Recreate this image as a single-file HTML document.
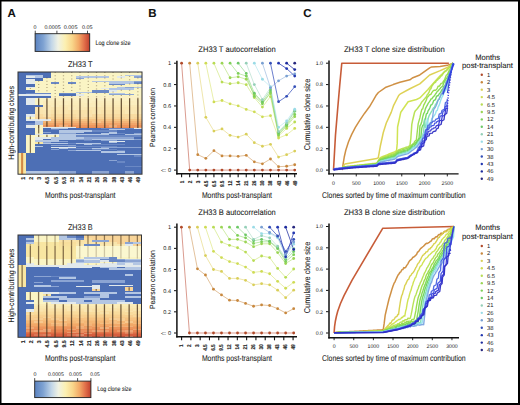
<!DOCTYPE html><html><head><meta charset="utf-8"><style>
html,body{margin:0;padding:0;background:#fff;}
svg{display:block;text-rendering:geometricPrecision;}
text{stroke:#1a1a1a;stroke-width:0.08px;}
text.s{stroke:none;fill:#1a1a1a;}
text.k{stroke:#333;stroke-width:0.15px;fill:#222;font-weight:bold;}
</style></head><body>
<svg width="520" height="405" viewBox="0 0 520 405" font-family="Liberation Sans, sans-serif">
<rect x="0" y="0" width="520" height="405" fill="#fff"/>
<text x="7.5" y="17" font-size="11.5" text-anchor="start" font-weight="bold" fill="#111">A</text><text x="148.3" y="17.2" font-size="11.5" text-anchor="start" font-weight="bold" fill="#111">B</text><text x="303.3" y="17.4" font-size="11.5" text-anchor="start" font-weight="bold" fill="#111">C</text><defs><linearGradient id="cb1" x1="0" x2="1" y1="0" y2="0">
<stop offset="0" stop-color="#5a82c0"/><stop offset="0.15" stop-color="#7ea2d2"/>
<stop offset="0.3" stop-color="#c2d6e8"/><stop offset="0.42" stop-color="#f0f2e4"/>
<stop offset="0.55" stop-color="#fcf0b2"/><stop offset="0.68" stop-color="#f9d68a"/>
<stop offset="0.8" stop-color="#f2a866"/><stop offset="0.9" stop-color="#e2704a"/>
<stop offset="1" stop-color="#c0402e"/></linearGradient></defs><rect x="35.1" y="33.7" width="54.6" height="17.7" fill="url(#cb1)" stroke="#222" stroke-width="0.9"/><line x1="35.25" y1="30.700000000000003" x2="35.25" y2="33.7" stroke="#222" stroke-width="0.8"/><line x1="56.9" y1="30.700000000000003" x2="56.9" y2="33.7" stroke="#222" stroke-width="0.8"/><line x1="72.5" y1="30.700000000000003" x2="72.5" y2="33.7" stroke="#222" stroke-width="0.8"/><line x1="87.5" y1="30.700000000000003" x2="87.5" y2="33.7" stroke="#222" stroke-width="0.8"/><text class="s" x="35.1" y="28.9" font-size="5.3" text-anchor="middle" font-weight="normal" fill="#222">0</text><text class="s" x="52.5" y="28.9" font-size="5.3" text-anchor="middle" font-weight="normal" fill="#222" textLength="16.2" lengthAdjust="spacingAndGlyphs">0.0005</text><text class="s" x="70.6" y="28.9" font-size="5.3" text-anchor="middle" font-weight="normal" fill="#222" textLength="13.7" lengthAdjust="spacingAndGlyphs">0.005</text><text class="s" x="87.2" y="28.9" font-size="5.3" text-anchor="middle" font-weight="normal" fill="#222" textLength="10.6" lengthAdjust="spacingAndGlyphs">0.05</text><text x="95.5" y="44.5" font-size="6.4" text-anchor="start" font-weight="normal" fill="#222" textLength="35" lengthAdjust="spacingAndGlyphs">Log clone size</text><defs><linearGradient id="cb2" x1="0" x2="1" y1="0" y2="0">
<stop offset="0" stop-color="#5a82c0"/><stop offset="0.15" stop-color="#7ea2d2"/>
<stop offset="0.3" stop-color="#c2d6e8"/><stop offset="0.42" stop-color="#f0f2e4"/>
<stop offset="0.55" stop-color="#fcf0b2"/><stop offset="0.68" stop-color="#f9d68a"/>
<stop offset="0.8" stop-color="#f2a866"/><stop offset="0.9" stop-color="#e2704a"/>
<stop offset="1" stop-color="#c0402e"/></linearGradient></defs><rect x="34.7" y="381.1" width="56.2" height="16.5" fill="url(#cb2)" stroke="#222" stroke-width="0.9"/><line x1="34.7" y1="378.1" x2="34.7" y2="381.1" stroke="#222" stroke-width="0.8"/><line x1="59.6" y1="378.1" x2="59.6" y2="381.1" stroke="#222" stroke-width="0.8"/><line x1="77.6" y1="378.1" x2="77.6" y2="381.1" stroke="#222" stroke-width="0.8"/><line x1="90.9" y1="378.1" x2="90.9" y2="381.1" stroke="#222" stroke-width="0.8"/><text class="s" x="35.05" y="376" font-size="5.3" text-anchor="middle" font-weight="normal" fill="#222">0</text><text class="s" x="55.9" y="376" font-size="5.3" text-anchor="middle" font-weight="normal" fill="#222" textLength="15.8" lengthAdjust="spacingAndGlyphs">0.0005</text><text class="s" x="75.4" y="376" font-size="5.3" text-anchor="middle" font-weight="normal" fill="#222" textLength="12.8" lengthAdjust="spacingAndGlyphs">0.005</text><text class="s" x="95" y="376" font-size="5.3" text-anchor="middle" font-weight="normal" fill="#222" textLength="9.5" lengthAdjust="spacingAndGlyphs">0.05</text><text x="97.3" y="391.3" font-size="6.4" text-anchor="start" font-weight="normal" fill="#222" textLength="34.2" lengthAdjust="spacingAndGlyphs">Log clone size</text><g shape-rendering="crispEdges"><rect x="18.00" y="72.00" width="33.07" height="1.25" fill="#4d6fb5"/><rect x="51.07" y="72.00" width="90.93" height="1.25" fill="#faf4c4"/><rect x="18.00" y="73.25" width="33.07" height="1.25" fill="#4d6fb5"/><rect x="51.07" y="73.25" width="90.93" height="1.25" fill="#faf4c4"/><rect x="18.00" y="74.50" width="8.27" height="0.75" fill="#4d6fb5"/><rect x="26.27" y="74.50" width="16.53" height="0.75" fill="#b3c6e3"/><rect x="42.80" y="74.50" width="8.27" height="0.75" fill="#4d6fb5"/><rect x="51.07" y="74.50" width="24.80" height="0.75" fill="#faf4c4"/><rect x="75.87" y="74.50" width="24.80" height="0.75" fill="#e2e9ec"/><rect x="100.67" y="74.50" width="24.80" height="0.75" fill="#faf4c4"/><rect x="125.47" y="74.50" width="16.53" height="0.75" fill="#b3c6e3"/><rect x="18.00" y="75.25" width="8.27" height="0.75" fill="#4d6fb5"/><rect x="26.27" y="75.25" width="16.53" height="0.75" fill="#b3c6e3"/><rect x="42.80" y="75.25" width="8.27" height="0.75" fill="#4d6fb5"/><rect x="51.07" y="75.25" width="74.40" height="0.75" fill="#faf4c4"/><rect x="125.47" y="75.25" width="16.53" height="0.75" fill="#b3c6e3"/><rect x="18.00" y="76.00" width="8.27" height="0.75" fill="#4d6fb5"/><rect x="26.27" y="76.00" width="8.27" height="0.75" fill="#e2e9ec"/><rect x="34.53" y="76.00" width="8.27" height="0.75" fill="#b3c6e3"/><rect x="42.80" y="76.00" width="8.27" height="0.75" fill="#4d6fb5"/><rect x="51.07" y="76.00" width="24.80" height="0.75" fill="#faf4c4"/><rect x="75.87" y="76.00" width="33.07" height="0.75" fill="#b3c6e3"/><rect x="108.93" y="76.00" width="8.27" height="0.75" fill="#faf4c4"/><rect x="117.20" y="76.00" width="8.27" height="0.75" fill="#e2e9ec"/><rect x="125.47" y="76.00" width="8.27" height="0.75" fill="#faf4c4"/><rect x="133.73" y="76.00" width="8.27" height="0.75" fill="#8ba4d3"/><rect x="18.00" y="76.75" width="8.27" height="0.75" fill="#4d6fb5"/><rect x="26.27" y="76.75" width="8.27" height="0.75" fill="#e2e9ec"/><rect x="34.53" y="76.75" width="8.27" height="0.75" fill="#b3c6e3"/><rect x="42.80" y="76.75" width="8.27" height="0.75" fill="#4d6fb5"/><rect x="51.07" y="76.75" width="24.80" height="0.75" fill="#faf4c4"/><rect x="75.87" y="76.75" width="33.07" height="0.75" fill="#b3c6e3"/><rect x="108.93" y="76.75" width="8.27" height="0.75" fill="#faf4c4"/><rect x="117.20" y="76.75" width="8.27" height="0.75" fill="#e2e9ec"/><rect x="125.47" y="76.75" width="8.27" height="0.75" fill="#faf4c4"/><rect x="133.73" y="76.75" width="8.27" height="0.75" fill="#8ba4d3"/><rect x="18.00" y="77.50" width="24.80" height="0.75" fill="#4d6fb5"/><rect x="42.80" y="77.50" width="99.20" height="0.75" fill="#faf4c4"/><rect x="18.00" y="78.25" width="24.80" height="0.75" fill="#4d6fb5"/><rect x="42.80" y="78.25" width="33.07" height="0.75" fill="#faf4c4"/><rect x="75.87" y="78.25" width="8.27" height="0.75" fill="#8ba4d3"/><rect x="84.13" y="78.25" width="57.87" height="0.75" fill="#faf4c4"/><rect x="18.00" y="79.00" width="8.27" height="0.85" fill="#4d6fb5"/><rect x="26.27" y="79.00" width="8.27" height="0.85" fill="#e2e9ec"/><rect x="34.53" y="79.00" width="8.27" height="0.85" fill="#4d6fb5"/><rect x="42.80" y="79.00" width="99.20" height="0.85" fill="#faf4c4"/><rect x="18.00" y="79.85" width="8.27" height="0.85" fill="#4d6fb5"/><rect x="26.27" y="79.85" width="8.27" height="0.85" fill="#e2e9ec"/><rect x="34.53" y="79.85" width="8.27" height="0.85" fill="#4d6fb5"/><rect x="42.80" y="79.85" width="99.20" height="0.85" fill="#faf4c4"/><rect x="18.00" y="80.70" width="8.27" height="1.30" fill="#4d6fb5"/><rect x="26.27" y="80.70" width="8.27" height="1.30" fill="#e2e9ec"/><rect x="34.53" y="80.70" width="57.87" height="1.30" fill="#faf4c4"/><rect x="92.40" y="80.70" width="41.33" height="1.30" fill="#b3c6e3"/><rect x="133.73" y="80.70" width="8.27" height="1.30" fill="#8ba4d3"/><rect x="18.00" y="82.00" width="8.27" height="0.75" fill="#4d6fb5"/><rect x="26.27" y="82.00" width="8.27" height="0.75" fill="#e2e9ec"/><rect x="34.53" y="82.00" width="16.53" height="0.75" fill="#faf4c4"/><rect x="51.07" y="82.00" width="8.27" height="0.75" fill="#6a88c4"/><rect x="59.33" y="82.00" width="8.27" height="0.75" fill="#faf4c4"/><rect x="67.60" y="82.00" width="8.27" height="0.75" fill="#6a88c4"/><rect x="75.87" y="82.00" width="33.07" height="0.75" fill="#faf4c4"/><rect x="108.93" y="82.00" width="24.80" height="0.75" fill="#b3c6e3"/><rect x="133.73" y="82.00" width="8.27" height="0.75" fill="#6a88c4"/><rect x="18.00" y="82.75" width="8.27" height="0.75" fill="#4d6fb5"/><rect x="26.27" y="82.75" width="8.27" height="0.75" fill="#e2e9ec"/><rect x="34.53" y="82.75" width="16.53" height="0.75" fill="#faf4c4"/><rect x="51.07" y="82.75" width="8.27" height="0.75" fill="#6a88c4"/><rect x="59.33" y="82.75" width="8.27" height="0.75" fill="#faf4c4"/><rect x="67.60" y="82.75" width="8.27" height="0.75" fill="#6a88c4"/><rect x="75.87" y="82.75" width="33.07" height="0.75" fill="#faf4c4"/><rect x="108.93" y="82.75" width="24.80" height="0.75" fill="#b3c6e3"/><rect x="133.73" y="82.75" width="8.27" height="0.75" fill="#6a88c4"/><rect x="18.00" y="83.50" width="16.53" height="0.75" fill="#4d6fb5"/><rect x="34.53" y="83.50" width="74.40" height="0.75" fill="#faf4c4"/><rect x="108.93" y="83.50" width="16.53" height="0.75" fill="#6a88c4"/><rect x="125.47" y="83.50" width="16.53" height="0.75" fill="#faf4c4"/><rect x="18.00" y="84.25" width="16.53" height="0.75" fill="#4d6fb5"/><rect x="34.53" y="84.25" width="74.40" height="0.75" fill="#faf4c4"/><rect x="108.93" y="84.25" width="16.53" height="0.75" fill="#6a88c4"/><rect x="125.47" y="84.25" width="16.53" height="0.75" fill="#faf4c4"/><rect x="18.00" y="85.00" width="16.53" height="0.75" fill="#4d6fb5"/><rect x="34.53" y="85.00" width="107.47" height="0.75" fill="#faf4c4"/><rect x="18.00" y="85.75" width="16.53" height="0.75" fill="#4d6fb5"/><rect x="34.53" y="85.75" width="107.47" height="0.75" fill="#faf4c4"/><rect x="18.00" y="86.50" width="8.27" height="0.75" fill="#4d6fb5"/><rect x="26.27" y="86.50" width="8.27" height="0.75" fill="#e2e9ec"/><rect x="34.53" y="86.50" width="82.67" height="0.75" fill="#faf4c4"/><rect x="117.20" y="86.50" width="8.27" height="0.75" fill="#b3c6e3"/><rect x="125.47" y="86.50" width="8.27" height="0.75" fill="#8ba4d3"/><rect x="133.73" y="86.50" width="8.27" height="0.75" fill="#faf4c4"/><rect x="18.00" y="87.25" width="8.27" height="0.75" fill="#4d6fb5"/><rect x="26.27" y="87.25" width="8.27" height="0.75" fill="#e2e9ec"/><rect x="34.53" y="87.25" width="82.67" height="0.75" fill="#faf4c4"/><rect x="117.20" y="87.25" width="8.27" height="0.75" fill="#b3c6e3"/><rect x="125.47" y="87.25" width="8.27" height="0.75" fill="#8ba4d3"/><rect x="133.73" y="87.25" width="8.27" height="0.75" fill="#b3c6e3"/><rect x="18.00" y="88.00" width="8.27" height="0.90" fill="#4d6fb5"/><rect x="26.27" y="88.00" width="74.40" height="0.90" fill="#faf4c4"/><rect x="100.67" y="88.00" width="8.27" height="0.90" fill="#e2e9ec"/><rect x="108.93" y="88.00" width="24.80" height="0.90" fill="#b3c6e3"/><rect x="133.73" y="88.00" width="8.27" height="0.90" fill="#faf4c4"/><rect x="18.00" y="88.90" width="8.27" height="0.90" fill="#4d6fb5"/><rect x="26.27" y="88.90" width="82.67" height="0.90" fill="#faf4c4"/><rect x="108.93" y="88.90" width="24.80" height="0.90" fill="#b3c6e3"/><rect x="133.73" y="88.90" width="8.27" height="0.90" fill="#faf4c4"/><rect x="18.00" y="89.80" width="16.53" height="0.85" fill="#4d6fb5"/><rect x="34.53" y="89.80" width="57.87" height="0.85" fill="#faf4c4"/><rect x="92.40" y="89.80" width="16.53" height="0.85" fill="#6a88c4"/><rect x="108.93" y="89.80" width="8.27" height="0.85" fill="#e2e9ec"/><rect x="117.20" y="89.80" width="24.80" height="0.85" fill="#faf4c4"/><rect x="18.00" y="90.65" width="16.53" height="0.85" fill="#4d6fb5"/><rect x="34.53" y="90.65" width="57.87" height="0.85" fill="#faf4c4"/><rect x="92.40" y="90.65" width="16.53" height="0.85" fill="#6a88c4"/><rect x="108.93" y="90.65" width="8.27" height="0.85" fill="#e2e9ec"/><rect x="117.20" y="90.65" width="24.80" height="0.85" fill="#faf4c4"/><rect x="18.00" y="91.50" width="16.53" height="0.75" fill="#4d6fb5"/><rect x="34.53" y="91.50" width="41.33" height="0.75" fill="#faf4c4"/><rect x="75.87" y="91.50" width="16.53" height="0.75" fill="#b3c6e3"/><rect x="92.40" y="91.50" width="16.53" height="0.75" fill="#6a88c4"/><rect x="108.93" y="91.50" width="33.07" height="0.75" fill="#faf4c4"/><rect x="18.00" y="92.25" width="16.53" height="0.75" fill="#4d6fb5"/><rect x="34.53" y="92.25" width="41.33" height="0.75" fill="#faf4c4"/><rect x="75.87" y="92.25" width="16.53" height="0.75" fill="#b3c6e3"/><rect x="92.40" y="92.25" width="16.53" height="0.75" fill="#6a88c4"/><rect x="108.93" y="92.25" width="33.07" height="0.75" fill="#faf4c4"/><rect x="18.00" y="93.00" width="8.27" height="1.20" fill="#4d6fb5"/><rect x="26.27" y="93.00" width="24.80" height="1.20" fill="#6a88c4"/><rect x="51.07" y="93.00" width="8.27" height="1.20" fill="#faf4c4"/><rect x="59.33" y="93.00" width="16.53" height="1.20" fill="#6a88c4"/><rect x="75.87" y="93.00" width="33.07" height="1.20" fill="#faf4c4"/><rect x="108.93" y="93.00" width="16.53" height="1.20" fill="#b3c6e3"/><rect x="125.47" y="93.00" width="16.53" height="1.20" fill="#faf4c4"/><rect x="18.00" y="94.20" width="33.07" height="0.85" fill="#e2e9ec"/><rect x="51.07" y="94.20" width="8.27" height="0.85" fill="#faf4c4"/><rect x="59.33" y="94.20" width="16.53" height="0.85" fill="#4d6fb5"/><rect x="75.87" y="94.20" width="8.27" height="0.85" fill="#e2e9ec"/><rect x="84.13" y="94.20" width="24.80" height="0.85" fill="#faf4c4"/><rect x="108.93" y="94.20" width="24.80" height="0.85" fill="#8ba4d3"/><rect x="133.73" y="94.20" width="8.27" height="0.85" fill="#faf4c4"/><rect x="18.00" y="95.05" width="33.07" height="0.85" fill="#e2e9ec"/><rect x="51.07" y="95.05" width="8.27" height="0.85" fill="#faf4c4"/><rect x="59.33" y="95.05" width="16.53" height="0.85" fill="#4d6fb5"/><rect x="75.87" y="95.05" width="8.27" height="0.85" fill="#e2e9ec"/><rect x="84.13" y="95.05" width="57.87" height="0.85" fill="#faf4c4"/><rect x="18.00" y="95.90" width="33.07" height="2.30" fill="#4d6fb5"/><rect x="51.07" y="95.90" width="49.60" height="2.30" fill="#fbf0c4"/><rect x="100.67" y="95.90" width="8.27" height="2.30" fill="#fbf1c6"/><rect x="108.93" y="95.90" width="24.80" height="2.30" fill="#fbf0c4"/><rect x="133.73" y="95.90" width="8.27" height="2.30" fill="#fbf1c6"/><rect x="18.00" y="98.20" width="8.27" height="2.30" fill="#4d6fb5"/><rect x="26.27" y="98.20" width="8.27" height="2.30" fill="#e2e9ec"/><rect x="34.53" y="98.20" width="8.27" height="2.30" fill="#faf4c4"/><rect x="42.80" y="98.20" width="8.27" height="2.30" fill="#fbf0c3"/><rect x="51.07" y="98.20" width="8.27" height="2.30" fill="#fbefc1"/><rect x="59.33" y="98.20" width="8.27" height="2.30" fill="#fbf0c3"/><rect x="67.60" y="98.20" width="24.80" height="2.30" fill="#fbefc1"/><rect x="92.40" y="98.20" width="8.27" height="2.30" fill="#fbf0c4"/><rect x="100.67" y="98.20" width="8.27" height="2.30" fill="#fbf0c3"/><rect x="108.93" y="98.20" width="8.27" height="2.30" fill="#fbefc2"/><rect x="117.20" y="98.20" width="8.27" height="2.30" fill="#fbefc1"/><rect x="125.47" y="98.20" width="8.27" height="2.30" fill="#fbf0c3"/><rect x="133.73" y="98.20" width="8.27" height="2.30" fill="#fbefc1"/><rect x="18.00" y="100.50" width="8.27" height="2.50" fill="#4d6fb5"/><rect x="26.27" y="100.50" width="8.27" height="2.50" fill="#e2e9ec"/><rect x="34.53" y="100.50" width="8.27" height="2.50" fill="#faf4c4"/><rect x="42.80" y="100.50" width="41.33" height="2.50" fill="#fbedbd"/><rect x="84.13" y="100.50" width="8.27" height="2.50" fill="#fbefc1"/><rect x="92.40" y="100.50" width="41.33" height="2.50" fill="#fbedbd"/><rect x="133.73" y="100.50" width="8.27" height="2.50" fill="#fbeebf"/><rect x="18.00" y="103.00" width="8.27" height="2.20" fill="#4d6fb5"/><rect x="26.27" y="103.00" width="8.27" height="2.20" fill="#e2e9ec"/><rect x="34.53" y="103.00" width="8.27" height="2.20" fill="#faf4c4"/><rect x="42.80" y="103.00" width="8.27" height="2.20" fill="#fbedbd"/><rect x="51.07" y="103.00" width="8.27" height="2.20" fill="#fbecba"/><rect x="59.33" y="103.00" width="8.27" height="2.20" fill="#fbeebe"/><rect x="67.60" y="103.00" width="57.87" height="2.20" fill="#fbecba"/><rect x="125.47" y="103.00" width="8.27" height="2.20" fill="#fbeebf"/><rect x="133.73" y="103.00" width="8.27" height="2.20" fill="#fbeebe"/><rect x="18.00" y="105.20" width="24.80" height="1.90" fill="#4d6fb5"/><rect x="42.80" y="105.20" width="8.27" height="1.90" fill="#fae9b6"/><rect x="51.07" y="105.20" width="8.27" height="1.90" fill="#faecbc"/><rect x="59.33" y="105.20" width="16.53" height="1.90" fill="#fae9b6"/><rect x="75.87" y="105.20" width="8.27" height="1.90" fill="#faeab8"/><rect x="84.13" y="105.20" width="16.53" height="1.90" fill="#faecbc"/><rect x="100.67" y="105.20" width="41.33" height="1.90" fill="#fae9b6"/><rect x="18.00" y="107.10" width="16.53" height="2.90" fill="#4d6fb5"/><rect x="34.53" y="107.10" width="8.27" height="2.90" fill="#fae6b1"/><rect x="42.80" y="107.10" width="8.27" height="2.90" fill="#fae9b8"/><rect x="51.07" y="107.10" width="16.53" height="2.90" fill="#fae6b1"/><rect x="67.60" y="107.10" width="8.27" height="2.90" fill="#faeab9"/><rect x="75.87" y="107.10" width="8.27" height="2.90" fill="#fae8b6"/><rect x="84.13" y="107.10" width="57.87" height="2.90" fill="#fae6b1"/><rect x="18.00" y="110.00" width="16.53" height="3.70" fill="#4d6fb5"/><rect x="34.53" y="110.00" width="8.27" height="3.70" fill="#f9e4ae"/><rect x="42.80" y="110.00" width="8.27" height="3.70" fill="#f9e6b2"/><rect x="51.07" y="110.00" width="8.27" height="3.70" fill="#f9e2aa"/><rect x="59.33" y="110.00" width="8.27" height="3.70" fill="#f9e4ae"/><rect x="67.60" y="110.00" width="24.80" height="3.70" fill="#f9e2aa"/><rect x="92.40" y="110.00" width="8.27" height="3.70" fill="#f9e6b1"/><rect x="100.67" y="110.00" width="24.80" height="3.70" fill="#f9e2aa"/><rect x="125.47" y="110.00" width="8.27" height="3.70" fill="#fae7b4"/><rect x="133.73" y="110.00" width="8.27" height="3.70" fill="#f9e5b1"/><rect x="18.00" y="113.70" width="8.27" height="2.80" fill="#4d6fb5"/><rect x="26.27" y="113.70" width="8.27" height="2.80" fill="#e2e9ec"/><rect x="34.53" y="113.70" width="8.27" height="2.80" fill="#f8dba1"/><rect x="42.80" y="113.70" width="8.27" height="2.80" fill="#f9e1ac"/><rect x="51.07" y="113.70" width="24.80" height="2.80" fill="#f8dba1"/><rect x="75.87" y="113.70" width="8.27" height="2.80" fill="#f9dfa9"/><rect x="84.13" y="113.70" width="8.27" height="2.80" fill="#f9e1ad"/><rect x="92.40" y="113.70" width="49.60" height="2.80" fill="#f8dba1"/><rect x="18.00" y="116.50" width="8.27" height="2.70" fill="#4d6fb5"/><rect x="26.27" y="116.50" width="8.27" height="2.70" fill="#faf4c4"/><rect x="34.53" y="116.50" width="41.33" height="2.70" fill="#f8d498"/><rect x="75.87" y="116.50" width="8.27" height="2.70" fill="#f9d9a1"/><rect x="84.13" y="116.50" width="41.33" height="2.70" fill="#f8d498"/><rect x="125.47" y="116.50" width="8.27" height="2.70" fill="#f8d9a0"/><rect x="133.73" y="116.50" width="8.27" height="2.70" fill="#f8d498"/><rect x="18.00" y="119.20" width="8.27" height="2.00" fill="#4d6fb5"/><rect x="26.27" y="119.20" width="24.80" height="2.00" fill="#e2e9ec"/><rect x="51.07" y="119.20" width="90.93" height="2.00" fill="#f6c586"/><rect x="18.00" y="121.20" width="16.53" height="1.80" fill="#4d6fb5"/><rect x="34.53" y="121.20" width="8.27" height="1.80" fill="#b3c6e3"/><rect x="42.80" y="121.20" width="49.60" height="1.80" fill="#f3b578"/><rect x="92.40" y="121.20" width="8.27" height="1.80" fill="#f5c28a"/><rect x="100.67" y="121.20" width="41.33" height="1.80" fill="#f3b578"/><rect x="18.00" y="123.00" width="8.27" height="1.90" fill="#4d6fb5"/><rect x="26.27" y="123.00" width="8.27" height="1.90" fill="#6a88c4"/><rect x="34.53" y="123.00" width="8.27" height="1.90" fill="#b3c6e3"/><rect x="42.80" y="123.00" width="8.27" height="1.90" fill="#f0a863"/><rect x="51.07" y="123.00" width="90.93" height="1.90" fill="#f1a56a"/><rect x="18.00" y="124.90" width="8.27" height="1.90" fill="#4d6fb5"/><rect x="26.27" y="124.90" width="8.27" height="1.90" fill="#e2e9ec"/><rect x="34.53" y="124.90" width="8.27" height="1.90" fill="#faf4c4"/><rect x="42.80" y="124.90" width="16.53" height="1.90" fill="#ed965e"/><rect x="59.33" y="124.90" width="8.27" height="1.90" fill="#f1af7b"/><rect x="67.60" y="124.90" width="41.33" height="1.90" fill="#ed965e"/><rect x="108.93" y="124.90" width="8.27" height="1.90" fill="#f1ae7a"/><rect x="117.20" y="124.90" width="24.80" height="1.90" fill="#ed965e"/><rect x="18.00" y="126.80" width="8.27" height="1.20" fill="#4d6fb5"/><rect x="26.27" y="126.80" width="8.27" height="1.20" fill="#e2e9ec"/><rect x="34.53" y="126.80" width="8.27" height="1.20" fill="#faf4c4"/><rect x="42.80" y="126.80" width="33.07" height="1.20" fill="#e2e9ec"/><rect x="75.87" y="126.80" width="33.07" height="1.20" fill="#ea8a54"/><rect x="108.93" y="126.80" width="8.27" height="1.20" fill="#ec9864"/><rect x="117.20" y="126.80" width="16.53" height="1.20" fill="#ea8a54"/><rect x="133.73" y="126.80" width="8.27" height="1.20" fill="#eea370"/><rect x="18.00" y="128.00" width="16.53" height="1.00" fill="#4d6fb5"/><rect x="34.53" y="128.00" width="8.27" height="1.00" fill="#faf4c4"/><rect x="42.80" y="128.00" width="8.27" height="1.00" fill="#4d6fb5"/><rect x="51.07" y="128.00" width="16.53" height="1.00" fill="#b3c6e3"/><rect x="67.60" y="128.00" width="33.07" height="1.00" fill="#4d6fb5"/><rect x="100.67" y="128.00" width="33.07" height="1.00" fill="#6a88c4"/><rect x="133.73" y="128.00" width="8.27" height="1.00" fill="#e2e9ec"/><rect x="18.00" y="129.00" width="16.53" height="1.00" fill="#4d6fb5"/><rect x="34.53" y="129.00" width="8.27" height="1.00" fill="#faf4c4"/><rect x="42.80" y="129.00" width="8.27" height="1.00" fill="#4d6fb5"/><rect x="51.07" y="129.00" width="8.27" height="1.00" fill="#6a88c4"/><rect x="59.33" y="129.00" width="49.60" height="1.00" fill="#4d6fb5"/><rect x="108.93" y="129.00" width="16.53" height="1.00" fill="#b3c6e3"/><rect x="125.47" y="129.00" width="16.53" height="1.00" fill="#4d6fb5"/><rect x="18.00" y="130.00" width="16.53" height="1.50" fill="#4d6fb5"/><rect x="34.53" y="130.00" width="8.27" height="1.50" fill="#faf4c4"/><rect x="42.80" y="130.00" width="16.53" height="1.50" fill="#4d6fb5"/><rect x="59.33" y="130.00" width="33.07" height="1.50" fill="#b3c6e3"/><rect x="92.40" y="130.00" width="24.80" height="1.50" fill="#6a88c4"/><rect x="117.20" y="130.00" width="24.80" height="1.50" fill="#4d6fb5"/><rect x="18.00" y="131.50" width="16.53" height="1.00" fill="#4d6fb5"/><rect x="34.53" y="131.50" width="8.27" height="1.00" fill="#faf4c4"/><rect x="42.80" y="131.50" width="8.27" height="1.00" fill="#8ba4d3"/><rect x="51.07" y="131.50" width="8.27" height="1.00" fill="#4d6fb5"/><rect x="59.33" y="131.50" width="24.80" height="1.00" fill="#b3c6e3"/><rect x="84.13" y="131.50" width="24.80" height="1.00" fill="#4d6fb5"/><rect x="108.93" y="131.50" width="8.27" height="1.00" fill="#b3c6e3"/><rect x="117.20" y="131.50" width="24.80" height="1.00" fill="#4d6fb5"/><rect x="18.00" y="132.50" width="16.53" height="1.00" fill="#4d6fb5"/><rect x="34.53" y="132.50" width="8.27" height="1.00" fill="#faf4c4"/><rect x="42.80" y="132.50" width="16.53" height="1.00" fill="#4d6fb5"/><rect x="59.33" y="132.50" width="16.53" height="1.00" fill="#8ba4d3"/><rect x="75.87" y="132.50" width="24.80" height="1.00" fill="#4d6fb5"/><rect x="100.67" y="132.50" width="16.53" height="1.00" fill="#b3c6e3"/><rect x="117.20" y="132.50" width="8.27" height="1.00" fill="#6a88c4"/><rect x="125.47" y="132.50" width="8.27" height="1.00" fill="#4d6fb5"/><rect x="133.73" y="132.50" width="8.27" height="1.00" fill="#8ba4d3"/><rect x="18.00" y="133.50" width="16.53" height="1.20" fill="#4d6fb5"/><rect x="34.53" y="133.50" width="24.80" height="1.20" fill="#e2e9ec"/><rect x="59.33" y="133.50" width="49.60" height="1.20" fill="#b3c6e3"/><rect x="108.93" y="133.50" width="16.53" height="1.20" fill="#4d6fb5"/><rect x="125.47" y="133.50" width="16.53" height="1.20" fill="#b3c6e3"/><rect x="18.00" y="134.70" width="8.27" height="1.15" fill="#4d6fb5"/><rect x="26.27" y="134.70" width="33.07" height="1.15" fill="#faf4c4"/><rect x="59.33" y="134.70" width="16.53" height="1.15" fill="#b3c6e3"/><rect x="75.87" y="134.70" width="66.13" height="1.15" fill="#6a88c4"/><rect x="18.00" y="135.85" width="8.27" height="1.15" fill="#4d6fb5"/><rect x="26.27" y="135.85" width="33.07" height="1.15" fill="#faf4c4"/><rect x="59.33" y="135.85" width="16.53" height="1.15" fill="#b3c6e3"/><rect x="75.87" y="135.85" width="66.13" height="1.15" fill="#6a88c4"/><rect x="18.00" y="137.00" width="8.27" height="1.50" fill="#4d6fb5"/><rect x="26.27" y="137.00" width="8.27" height="1.50" fill="#faf4c4"/><rect x="34.53" y="137.00" width="16.53" height="1.50" fill="#e2e9ec"/><rect x="51.07" y="137.00" width="33.07" height="1.50" fill="#b3c6e3"/><rect x="84.13" y="137.00" width="49.60" height="1.50" fill="#8ba4d3"/><rect x="133.73" y="137.00" width="8.27" height="1.50" fill="#4d6fb5"/><rect x="18.00" y="138.50" width="8.27" height="1.50" fill="#4d6fb5"/><rect x="26.27" y="138.50" width="8.27" height="1.50" fill="#faf4c4"/><rect x="34.53" y="138.50" width="8.27" height="1.50" fill="#e2e9ec"/><rect x="42.80" y="138.50" width="8.27" height="1.50" fill="#4d6fb5"/><rect x="51.07" y="138.50" width="24.80" height="1.50" fill="#b3c6e3"/><rect x="75.87" y="138.50" width="16.53" height="1.50" fill="#8ba4d3"/><rect x="92.40" y="138.50" width="41.33" height="1.50" fill="#b3c6e3"/><rect x="133.73" y="138.50" width="8.27" height="1.50" fill="#8ba4d3"/><rect x="18.00" y="140.00" width="8.27" height="1.00" fill="#4d6fb5"/><rect x="26.27" y="140.00" width="8.27" height="1.00" fill="#faf4c4"/><rect x="34.53" y="140.00" width="24.80" height="1.00" fill="#b3c6e3"/><rect x="59.33" y="140.00" width="24.80" height="1.00" fill="#4d6fb5"/><rect x="84.13" y="140.00" width="8.27" height="1.00" fill="#6a88c4"/><rect x="92.40" y="140.00" width="8.27" height="1.00" fill="#4d6fb5"/><rect x="100.67" y="140.00" width="16.53" height="1.00" fill="#8ba4d3"/><rect x="117.20" y="140.00" width="24.80" height="1.00" fill="#4d6fb5"/><rect x="18.00" y="141.00" width="8.27" height="1.00" fill="#4d6fb5"/><rect x="26.27" y="141.00" width="8.27" height="1.00" fill="#faf4c4"/><rect x="34.53" y="141.00" width="24.80" height="1.00" fill="#b3c6e3"/><rect x="59.33" y="141.00" width="8.27" height="1.00" fill="#8ba4d3"/><rect x="67.60" y="141.00" width="41.33" height="1.00" fill="#4d6fb5"/><rect x="108.93" y="141.00" width="16.53" height="1.00" fill="#e2e9ec"/><rect x="125.47" y="141.00" width="16.53" height="1.00" fill="#4d6fb5"/><rect x="18.00" y="142.00" width="8.27" height="1.00" fill="#4d6fb5"/><rect x="26.27" y="142.00" width="8.27" height="1.00" fill="#faf4c4"/><rect x="34.53" y="142.00" width="8.27" height="1.00" fill="#f8e6a2"/><rect x="42.80" y="142.00" width="8.27" height="1.00" fill="#8ba4d3"/><rect x="51.07" y="142.00" width="57.87" height="1.00" fill="#4d6fb5"/><rect x="108.93" y="142.00" width="8.27" height="1.00" fill="#b3c6e3"/><rect x="117.20" y="142.00" width="24.80" height="1.00" fill="#4d6fb5"/><rect x="18.00" y="143.00" width="8.27" height="1.00" fill="#4d6fb5"/><rect x="26.27" y="143.00" width="8.27" height="1.00" fill="#faf4c4"/><rect x="34.53" y="143.00" width="8.27" height="1.00" fill="#f8e6a2"/><rect x="42.80" y="143.00" width="24.80" height="1.00" fill="#b3c6e3"/><rect x="67.60" y="143.00" width="8.27" height="1.00" fill="#6a88c4"/><rect x="75.87" y="143.00" width="24.80" height="1.00" fill="#b3c6e3"/><rect x="100.67" y="143.00" width="41.33" height="1.00" fill="#4d6fb5"/><rect x="18.00" y="144.00" width="8.27" height="1.00" fill="#4d6fb5"/><rect x="26.27" y="144.00" width="8.27" height="1.00" fill="#faf4c4"/><rect x="34.53" y="144.00" width="49.60" height="1.00" fill="#4d6fb5"/><rect x="84.13" y="144.00" width="8.27" height="1.00" fill="#b3c6e3"/><rect x="92.40" y="144.00" width="33.07" height="1.00" fill="#6a88c4"/><rect x="125.47" y="144.00" width="16.53" height="1.00" fill="#4d6fb5"/><rect x="18.00" y="145.00" width="8.27" height="1.00" fill="#4d6fb5"/><rect x="26.27" y="145.00" width="8.27" height="1.00" fill="#faf4c4"/><rect x="34.53" y="145.00" width="16.53" height="1.00" fill="#4d6fb5"/><rect x="51.07" y="145.00" width="24.80" height="1.00" fill="#8ba4d3"/><rect x="75.87" y="145.00" width="66.13" height="1.00" fill="#4d6fb5"/><rect x="18.00" y="146.00" width="8.27" height="1.00" fill="#4d6fb5"/><rect x="26.27" y="146.00" width="8.27" height="1.00" fill="#faf4c4"/><rect x="34.53" y="146.00" width="8.27" height="1.00" fill="#b3c6e3"/><rect x="42.80" y="146.00" width="24.80" height="1.00" fill="#4d6fb5"/><rect x="67.60" y="146.00" width="49.60" height="1.00" fill="#6a88c4"/><rect x="117.20" y="146.00" width="24.80" height="1.00" fill="#4d6fb5"/><rect x="18.00" y="147.00" width="8.27" height="1.00" fill="#4d6fb5"/><rect x="26.27" y="147.00" width="8.27" height="1.00" fill="#faf4c4"/><rect x="34.53" y="147.00" width="16.53" height="1.00" fill="#4d6fb5"/><rect x="51.07" y="147.00" width="24.80" height="1.00" fill="#e2e9ec"/><rect x="75.87" y="147.00" width="24.80" height="1.00" fill="#4d6fb5"/><rect x="100.67" y="147.00" width="41.33" height="1.00" fill="#8ba4d3"/><rect x="18.00" y="148.00" width="8.27" height="1.00" fill="#4d6fb5"/><rect x="26.27" y="148.00" width="8.27" height="1.00" fill="#faf4c4"/><rect x="34.53" y="148.00" width="24.80" height="1.00" fill="#4d6fb5"/><rect x="59.33" y="148.00" width="8.27" height="1.00" fill="#b3c6e3"/><rect x="67.60" y="148.00" width="24.80" height="1.00" fill="#6a88c4"/><rect x="92.40" y="148.00" width="16.53" height="1.00" fill="#b3c6e3"/><rect x="108.93" y="148.00" width="33.07" height="1.00" fill="#4d6fb5"/><rect x="18.00" y="149.00" width="8.27" height="1.00" fill="#4d6fb5"/><rect x="26.27" y="149.00" width="8.27" height="1.00" fill="#faf4c4"/><rect x="34.53" y="149.00" width="16.53" height="1.00" fill="#4d6fb5"/><rect x="51.07" y="149.00" width="8.27" height="1.00" fill="#8ba4d3"/><rect x="59.33" y="149.00" width="33.07" height="1.00" fill="#4d6fb5"/><rect x="92.40" y="149.00" width="24.80" height="1.00" fill="#6a88c4"/><rect x="117.20" y="149.00" width="24.80" height="1.00" fill="#4d6fb5"/><rect x="18.00" y="150.00" width="8.27" height="1.45" fill="#4d6fb5"/><rect x="26.27" y="150.00" width="8.27" height="1.45" fill="#faf4c4"/><rect x="34.53" y="150.00" width="33.07" height="1.45" fill="#4d6fb5"/><rect x="67.60" y="150.00" width="8.27" height="1.45" fill="#8ba4d3"/><rect x="75.87" y="150.00" width="24.80" height="1.45" fill="#b3c6e3"/><rect x="100.67" y="150.00" width="16.53" height="1.45" fill="#4d6fb5"/><rect x="117.20" y="150.00" width="8.27" height="1.45" fill="#6a88c4"/><rect x="125.47" y="150.00" width="16.53" height="1.45" fill="#4d6fb5"/><rect x="18.00" y="151.45" width="8.27" height="1.45" fill="#4d6fb5"/><rect x="26.27" y="151.45" width="8.27" height="1.45" fill="#faf4c4"/><rect x="34.53" y="151.45" width="66.13" height="1.45" fill="#4d6fb5"/><rect x="100.67" y="151.45" width="24.80" height="1.45" fill="#b3c6e3"/><rect x="125.47" y="151.45" width="16.53" height="1.45" fill="#4d6fb5"/><rect x="18.00" y="152.90" width="8.27" height="1.05" fill="#f8e6a2"/><rect x="26.27" y="152.90" width="115.73" height="1.05" fill="#4d6fb5"/><rect x="18.00" y="153.95" width="8.27" height="1.05" fill="#f8e6a2"/><rect x="26.27" y="153.95" width="90.93" height="1.05" fill="#4d6fb5"/><rect x="117.20" y="153.95" width="24.80" height="1.05" fill="#b3c6e3"/><rect x="18.00" y="155.00" width="8.27" height="1.50" fill="#f8e6a2"/><rect x="26.27" y="155.00" width="107.47" height="1.50" fill="#4d6fb5"/><rect x="133.73" y="155.00" width="8.27" height="1.50" fill="#6a88c4"/><rect x="18.00" y="156.50" width="8.27" height="1.50" fill="#f8e6a2"/><rect x="26.27" y="156.50" width="115.73" height="1.50" fill="#4d6fb5"/><rect x="18.00" y="158.00" width="8.27" height="1.50" fill="#f8e6a2"/><rect x="26.27" y="158.00" width="115.73" height="1.50" fill="#4d6fb5"/><rect x="18.00" y="159.50" width="8.27" height="1.50" fill="#f8e6a2"/><rect x="26.27" y="159.50" width="82.67" height="1.50" fill="#4d6fb5"/><rect x="108.93" y="159.50" width="8.27" height="1.50" fill="#8ba4d3"/><rect x="117.20" y="159.50" width="24.80" height="1.50" fill="#4d6fb5"/><rect x="18.00" y="161.00" width="8.27" height="1.50" fill="#f8e6a2"/><rect x="26.27" y="161.00" width="90.93" height="1.50" fill="#4d6fb5"/><rect x="117.20" y="161.00" width="8.27" height="1.50" fill="#6a88c4"/><rect x="125.47" y="161.00" width="16.53" height="1.50" fill="#4d6fb5"/><rect x="18.00" y="162.50" width="8.27" height="1.50" fill="#f8e6a2"/><rect x="26.27" y="162.50" width="115.73" height="1.50" fill="#4d6fb5"/><rect x="18.00" y="164.00" width="8.27" height="1.50" fill="#f8e6a2"/><rect x="26.27" y="164.00" width="115.73" height="1.50" fill="#4d6fb5"/><rect x="18.00" y="165.50" width="8.27" height="1.50" fill="#f8e6a2"/><rect x="26.27" y="165.50" width="99.20" height="1.50" fill="#4d6fb5"/><rect x="125.47" y="165.50" width="16.53" height="1.50" fill="#6a88c4"/><rect x="18.00" y="167.00" width="8.27" height="1.23" fill="#f8e6a2"/><rect x="26.27" y="167.00" width="115.73" height="1.23" fill="#4d6fb5"/><rect x="18.00" y="168.23" width="8.27" height="1.23" fill="#f8e6a2"/><rect x="26.27" y="168.23" width="115.73" height="1.23" fill="#4d6fb5"/><rect x="18.00" y="169.47" width="8.27" height="1.23" fill="#f8e6a2"/><rect x="26.27" y="169.47" width="115.73" height="1.23" fill="#4d6fb5"/><rect x="18.00" y="170.70" width="8.27" height="1.17" fill="#f8e6a2"/><rect x="26.27" y="170.70" width="33.07" height="1.17" fill="#b3c6e3"/><rect x="59.33" y="170.70" width="16.53" height="1.17" fill="#8ba4d3"/><rect x="75.87" y="170.70" width="16.53" height="1.17" fill="#4d6fb5"/><rect x="92.40" y="170.70" width="16.53" height="1.17" fill="#8ba4d3"/><rect x="108.93" y="170.70" width="16.53" height="1.17" fill="#4d6fb5"/><rect x="125.47" y="170.70" width="8.27" height="1.17" fill="#8ba4d3"/><rect x="133.73" y="170.70" width="8.27" height="1.17" fill="#4d6fb5"/><rect x="18.00" y="171.87" width="8.27" height="1.17" fill="#f8e6a2"/><rect x="26.27" y="171.87" width="33.07" height="1.17" fill="#b3c6e3"/><rect x="59.33" y="171.87" width="16.53" height="1.17" fill="#8ba4d3"/><rect x="75.87" y="171.87" width="16.53" height="1.17" fill="#4d6fb5"/><rect x="92.40" y="171.87" width="16.53" height="1.17" fill="#8ba4d3"/><rect x="108.93" y="171.87" width="16.53" height="1.17" fill="#4d6fb5"/><rect x="125.47" y="171.87" width="8.27" height="1.17" fill="#8ba4d3"/><rect x="133.73" y="171.87" width="8.27" height="1.17" fill="#4d6fb5"/><rect x="18.00" y="173.03" width="8.27" height="1.17" fill="#f8e6a2"/><rect x="26.27" y="173.03" width="33.07" height="1.17" fill="#b3c6e3"/><rect x="59.33" y="173.03" width="16.53" height="1.17" fill="#8ba4d3"/><rect x="75.87" y="173.03" width="16.53" height="1.17" fill="#4d6fb5"/><rect x="92.40" y="173.03" width="16.53" height="1.17" fill="#8ba4d3"/><rect x="108.93" y="173.03" width="16.53" height="1.17" fill="#4d6fb5"/><rect x="125.47" y="173.03" width="8.27" height="1.17" fill="#8ba4d3"/><rect x="133.73" y="173.03" width="8.27" height="1.17" fill="#4d6fb5"/></g><line x1="22.13" y1="152.90" x2="22.13" y2="174.20" stroke="#4f3820" stroke-width="1.25" opacity="0.7"/><line x1="30.40" y1="88.00" x2="30.40" y2="89.80" stroke="#4f3820" stroke-width="1.25" opacity="0.4" stroke-dasharray="1 2.2"/><line x1="30.40" y1="116.50" x2="30.40" y2="119.20" stroke="#4f3820" stroke-width="1.25" opacity="0.6"/><line x1="30.40" y1="134.70" x2="30.40" y2="152.90" stroke="#4f3820" stroke-width="1.25" opacity="0.7"/><line x1="38.67" y1="80.70" x2="38.67" y2="93.00" stroke="#4f3820" stroke-width="1.25" opacity="0.4" stroke-dasharray="1 2.2"/><line x1="38.67" y1="98.20" x2="38.67" y2="105.20" stroke="#4f3820" stroke-width="1.25" opacity="0.85"/><line x1="38.67" y1="107.10" x2="38.67" y2="119.20" stroke="#4f3820" stroke-width="1.25" opacity="0.85"/><line x1="38.67" y1="124.90" x2="38.67" y2="128.00" stroke="#4f3820" stroke-width="1.25" opacity="0.85"/><line x1="38.67" y1="128.00" x2="38.67" y2="133.50" stroke="#4f3820" stroke-width="1.25" opacity="0.7"/><line x1="38.67" y1="134.70" x2="38.67" y2="137.00" stroke="#4f3820" stroke-width="1.25" opacity="0.7"/><line x1="38.67" y1="142.00" x2="38.67" y2="144.00" stroke="#4f3820" stroke-width="1.25" opacity="0.7"/><line x1="46.93" y1="77.50" x2="46.93" y2="93.00" stroke="#4f3820" stroke-width="1.25" opacity="0.4" stroke-dasharray="1 2.2"/><line x1="46.93" y1="98.20" x2="46.93" y2="119.20" stroke="#4f3820" stroke-width="1.25" opacity="0.85"/><line x1="46.93" y1="121.20" x2="46.93" y2="126.80" stroke="#4f3820" stroke-width="1.25" opacity="0.85"/><line x1="46.93" y1="134.70" x2="46.93" y2="137.00" stroke="#4f3820" stroke-width="1.25" opacity="0.7"/><line x1="55.20" y1="72.00" x2="55.20" y2="82.00" stroke="#4f3820" stroke-width="1.25" opacity="0.4" stroke-dasharray="1 2.2"/><line x1="55.20" y1="83.50" x2="55.20" y2="98.20" stroke="#4f3820" stroke-width="1.25" opacity="0.4" stroke-dasharray="1 2.2"/><line x1="55.20" y1="98.20" x2="55.20" y2="126.80" stroke="#4f3820" stroke-width="1.25" opacity="0.85"/><line x1="55.20" y1="134.70" x2="55.20" y2="137.00" stroke="#4f3820" stroke-width="1.25" opacity="0.7"/><line x1="63.47" y1="72.00" x2="63.47" y2="93.00" stroke="#4f3820" stroke-width="1.25" opacity="0.4" stroke-dasharray="1 2.2"/><line x1="63.47" y1="95.90" x2="63.47" y2="98.20" stroke="#4f3820" stroke-width="1.25" opacity="0.4" stroke-dasharray="1 2.2"/><line x1="63.47" y1="98.20" x2="63.47" y2="126.80" stroke="#4f3820" stroke-width="1.25" opacity="0.85"/><line x1="71.73" y1="72.00" x2="71.73" y2="82.00" stroke="#4f3820" stroke-width="1.25" opacity="0.4" stroke-dasharray="1 2.2"/><line x1="71.73" y1="83.50" x2="71.73" y2="93.00" stroke="#4f3820" stroke-width="1.25" opacity="0.4" stroke-dasharray="1 2.2"/><line x1="71.73" y1="95.90" x2="71.73" y2="98.20" stroke="#4f3820" stroke-width="1.25" opacity="0.4" stroke-dasharray="1 2.2"/><line x1="71.73" y1="98.20" x2="71.73" y2="126.80" stroke="#4f3820" stroke-width="1.25" opacity="0.85"/><line x1="80.00" y1="72.00" x2="80.00" y2="74.50" stroke="#4f3820" stroke-width="1.25" opacity="0.4" stroke-dasharray="1 2.2"/><line x1="80.00" y1="75.25" x2="80.00" y2="76.00" stroke="#4f3820" stroke-width="1.25" opacity="0.4" stroke-dasharray="1 2.2"/><line x1="80.00" y1="77.50" x2="80.00" y2="78.25" stroke="#4f3820" stroke-width="1.25" opacity="0.4" stroke-dasharray="1 2.2"/><line x1="80.00" y1="79.00" x2="80.00" y2="91.50" stroke="#4f3820" stroke-width="1.25" opacity="0.4" stroke-dasharray="1 2.2"/><line x1="80.00" y1="93.00" x2="80.00" y2="94.20" stroke="#4f3820" stroke-width="1.25" opacity="0.4" stroke-dasharray="1 2.2"/><line x1="80.00" y1="95.90" x2="80.00" y2="98.20" stroke="#4f3820" stroke-width="1.25" opacity="0.4" stroke-dasharray="1 2.2"/><line x1="80.00" y1="98.20" x2="80.00" y2="128.00" stroke="#4f3820" stroke-width="1.25" opacity="0.85"/><line x1="88.27" y1="72.00" x2="88.27" y2="74.50" stroke="#4f3820" stroke-width="1.25" opacity="0.4" stroke-dasharray="1 2.2"/><line x1="88.27" y1="75.25" x2="88.27" y2="76.00" stroke="#4f3820" stroke-width="1.25" opacity="0.4" stroke-dasharray="1 2.2"/><line x1="88.27" y1="77.50" x2="88.27" y2="91.50" stroke="#4f3820" stroke-width="1.25" opacity="0.4" stroke-dasharray="1 2.2"/><line x1="88.27" y1="93.00" x2="88.27" y2="98.20" stroke="#4f3820" stroke-width="1.25" opacity="0.4" stroke-dasharray="1 2.2"/><line x1="88.27" y1="98.20" x2="88.27" y2="128.00" stroke="#4f3820" stroke-width="1.25" opacity="0.85"/><line x1="96.53" y1="72.00" x2="96.53" y2="74.50" stroke="#4f3820" stroke-width="1.25" opacity="0.4" stroke-dasharray="1 2.2"/><line x1="96.53" y1="75.25" x2="96.53" y2="76.00" stroke="#4f3820" stroke-width="1.25" opacity="0.4" stroke-dasharray="1 2.2"/><line x1="96.53" y1="77.50" x2="96.53" y2="80.70" stroke="#4f3820" stroke-width="1.25" opacity="0.4" stroke-dasharray="1 2.2"/><line x1="96.53" y1="82.00" x2="96.53" y2="89.80" stroke="#4f3820" stroke-width="1.25" opacity="0.4" stroke-dasharray="1 2.2"/><line x1="96.53" y1="93.00" x2="96.53" y2="98.20" stroke="#4f3820" stroke-width="1.25" opacity="0.4" stroke-dasharray="1 2.2"/><line x1="96.53" y1="98.20" x2="96.53" y2="128.00" stroke="#4f3820" stroke-width="1.25" opacity="0.85"/><line x1="104.80" y1="72.00" x2="104.80" y2="76.00" stroke="#4f3820" stroke-width="1.25" opacity="0.4" stroke-dasharray="1 2.2"/><line x1="104.80" y1="77.50" x2="104.80" y2="80.70" stroke="#4f3820" stroke-width="1.25" opacity="0.4" stroke-dasharray="1 2.2"/><line x1="104.80" y1="82.00" x2="104.80" y2="88.00" stroke="#4f3820" stroke-width="1.25" opacity="0.4" stroke-dasharray="1 2.2"/><line x1="104.80" y1="88.90" x2="104.80" y2="89.80" stroke="#4f3820" stroke-width="1.25" opacity="0.4" stroke-dasharray="1 2.2"/><line x1="104.80" y1="93.00" x2="104.80" y2="98.20" stroke="#4f3820" stroke-width="1.25" opacity="0.4" stroke-dasharray="1 2.2"/><line x1="104.80" y1="98.20" x2="104.80" y2="128.00" stroke="#4f3820" stroke-width="1.25" opacity="0.85"/><line x1="113.07" y1="72.00" x2="113.07" y2="80.70" stroke="#4f3820" stroke-width="1.25" opacity="0.4" stroke-dasharray="1 2.2"/><line x1="113.07" y1="85.00" x2="113.07" y2="88.00" stroke="#4f3820" stroke-width="1.25" opacity="0.4" stroke-dasharray="1 2.2"/><line x1="113.07" y1="91.50" x2="113.07" y2="93.00" stroke="#4f3820" stroke-width="1.25" opacity="0.4" stroke-dasharray="1 2.2"/><line x1="113.07" y1="95.05" x2="113.07" y2="98.20" stroke="#4f3820" stroke-width="1.25" opacity="0.4" stroke-dasharray="1 2.2"/><line x1="113.07" y1="98.20" x2="113.07" y2="128.00" stroke="#4f3820" stroke-width="1.25" opacity="0.85"/><line x1="121.33" y1="72.00" x2="121.33" y2="76.00" stroke="#4f3820" stroke-width="1.25" opacity="0.4" stroke-dasharray="1 2.2"/><line x1="121.33" y1="77.50" x2="121.33" y2="80.70" stroke="#4f3820" stroke-width="1.25" opacity="0.4" stroke-dasharray="1 2.2"/><line x1="121.33" y1="85.00" x2="121.33" y2="86.50" stroke="#4f3820" stroke-width="1.25" opacity="0.4" stroke-dasharray="1 2.2"/><line x1="121.33" y1="89.80" x2="121.33" y2="93.00" stroke="#4f3820" stroke-width="1.25" opacity="0.4" stroke-dasharray="1 2.2"/><line x1="121.33" y1="95.05" x2="121.33" y2="98.20" stroke="#4f3820" stroke-width="1.25" opacity="0.4" stroke-dasharray="1 2.2"/><line x1="121.33" y1="98.20" x2="121.33" y2="128.00" stroke="#4f3820" stroke-width="1.25" opacity="0.85"/><line x1="129.60" y1="72.00" x2="129.60" y2="74.50" stroke="#4f3820" stroke-width="1.25" opacity="0.4" stroke-dasharray="1 2.2"/><line x1="129.60" y1="76.00" x2="129.60" y2="80.70" stroke="#4f3820" stroke-width="1.25" opacity="0.4" stroke-dasharray="1 2.2"/><line x1="129.60" y1="83.50" x2="129.60" y2="86.50" stroke="#4f3820" stroke-width="1.25" opacity="0.4" stroke-dasharray="1 2.2"/><line x1="129.60" y1="89.80" x2="129.60" y2="94.20" stroke="#4f3820" stroke-width="1.25" opacity="0.4" stroke-dasharray="1 2.2"/><line x1="129.60" y1="95.05" x2="129.60" y2="98.20" stroke="#4f3820" stroke-width="1.25" opacity="0.4" stroke-dasharray="1 2.2"/><line x1="129.60" y1="98.20" x2="129.60" y2="128.00" stroke="#4f3820" stroke-width="1.25" opacity="0.85"/><line x1="137.87" y1="72.00" x2="137.87" y2="74.50" stroke="#4f3820" stroke-width="1.25" opacity="0.4" stroke-dasharray="1 2.2"/><line x1="137.87" y1="77.50" x2="137.87" y2="80.70" stroke="#4f3820" stroke-width="1.25" opacity="0.4" stroke-dasharray="1 2.2"/><line x1="137.87" y1="83.50" x2="137.87" y2="87.25" stroke="#4f3820" stroke-width="1.25" opacity="0.4" stroke-dasharray="1 2.2"/><line x1="137.87" y1="88.00" x2="137.87" y2="98.20" stroke="#4f3820" stroke-width="1.25" opacity="0.4" stroke-dasharray="1 2.2"/><line x1="137.87" y1="98.20" x2="137.87" y2="128.00" stroke="#4f3820" stroke-width="1.25" opacity="0.85"/><line x1="22.1" y1="152.9" x2="22.1" y2="174" stroke="#e08a40" stroke-width="2.2" opacity="0.8"/><rect x="18" y="72" width="124" height="102.2" fill="none" stroke="#333" stroke-width="1"/><g shape-rendering="crispEdges"><rect x="18.00" y="235.00" width="16.47" height="2.60" fill="#4d6fb5"/><rect x="34.47" y="235.00" width="24.70" height="2.60" fill="#faf4c4"/><rect x="59.17" y="235.00" width="8.23" height="2.60" fill="#b3c6e3"/><rect x="67.40" y="235.00" width="8.23" height="2.60" fill="#6a88c4"/><rect x="75.63" y="235.00" width="8.23" height="2.60" fill="#4d6fb5"/><rect x="83.87" y="235.00" width="57.63" height="2.60" fill="#f8d498"/><rect x="18.00" y="237.60" width="8.23" height="2.40" fill="#4d6fb5"/><rect x="26.23" y="237.60" width="8.23" height="2.40" fill="#b3c6e3"/><rect x="34.47" y="237.60" width="24.70" height="2.40" fill="#faf4c4"/><rect x="59.17" y="237.60" width="16.47" height="2.40" fill="#b3c6e3"/><rect x="75.63" y="237.60" width="8.23" height="2.40" fill="#6a88c4"/><rect x="83.87" y="237.60" width="8.23" height="2.40" fill="#f8dd9f"/><rect x="92.10" y="237.60" width="49.40" height="2.40" fill="#f8d498"/><rect x="18.00" y="240.00" width="8.23" height="2.00" fill="#4d6fb5"/><rect x="26.23" y="240.00" width="8.23" height="2.00" fill="#6a88c4"/><rect x="34.47" y="240.00" width="24.70" height="2.00" fill="#faf4c4"/><rect x="59.17" y="240.00" width="32.93" height="2.00" fill="#f9e1a6"/><rect x="92.10" y="240.00" width="16.47" height="2.00" fill="#8ba4d3"/><rect x="108.57" y="240.00" width="32.93" height="2.00" fill="#f8d498"/><rect x="18.00" y="242.00" width="8.23" height="2.00" fill="#4d6fb5"/><rect x="26.23" y="242.00" width="8.23" height="2.00" fill="#b3c6e3"/><rect x="34.47" y="242.00" width="24.70" height="2.00" fill="#f8e6a2"/><rect x="59.17" y="242.00" width="16.47" height="2.00" fill="#f8de9c"/><rect x="75.63" y="242.00" width="41.17" height="2.00" fill="#f9e4ab"/><rect x="116.80" y="242.00" width="8.23" height="2.00" fill="#f8d498"/><rect x="125.03" y="242.00" width="8.23" height="2.00" fill="#8ba4d3"/><rect x="133.27" y="242.00" width="8.23" height="2.00" fill="#b3c6e3"/><rect x="18.00" y="244.00" width="8.23" height="2.00" fill="#4d6fb5"/><rect x="26.23" y="244.00" width="32.93" height="2.00" fill="#f8e6a2"/><rect x="59.17" y="244.00" width="16.47" height="2.00" fill="#f8e09e"/><rect x="75.63" y="244.00" width="8.23" height="2.00" fill="#f9e8b1"/><rect x="83.87" y="244.00" width="16.47" height="2.00" fill="#6a88c4"/><rect x="100.33" y="244.00" width="24.70" height="2.00" fill="#f9e8b1"/><rect x="125.03" y="244.00" width="8.23" height="2.00" fill="#e2e9ec"/><rect x="133.27" y="244.00" width="8.23" height="2.00" fill="#f8d498"/><rect x="18.00" y="246.00" width="8.23" height="1.25" fill="#4d6fb5"/><rect x="26.23" y="246.00" width="32.93" height="1.25" fill="#f8e6a2"/><rect x="59.17" y="246.00" width="16.47" height="1.25" fill="#f8e29f"/><rect x="75.63" y="246.00" width="65.87" height="1.25" fill="#fbf7d0"/><rect x="18.00" y="247.25" width="8.23" height="1.25" fill="#4d6fb5"/><rect x="26.23" y="247.25" width="32.93" height="1.25" fill="#f8e6a2"/><rect x="59.17" y="247.25" width="16.47" height="1.25" fill="#f8e3a0"/><rect x="75.63" y="247.25" width="65.87" height="1.25" fill="#fbf7d0"/><rect x="18.00" y="248.50" width="8.23" height="1.25" fill="#4d6fb5"/><rect x="26.23" y="248.50" width="32.93" height="1.25" fill="#f8e6a2"/><rect x="59.17" y="248.50" width="16.47" height="1.25" fill="#f8e4a0"/><rect x="75.63" y="248.50" width="65.87" height="1.25" fill="#fbf7d0"/><rect x="18.00" y="249.75" width="8.23" height="1.25" fill="#4d6fb5"/><rect x="26.23" y="249.75" width="32.93" height="1.25" fill="#f8e6a2"/><rect x="59.17" y="249.75" width="16.47" height="1.25" fill="#f8e5a1"/><rect x="75.63" y="249.75" width="65.87" height="1.25" fill="#fbf7d0"/><rect x="18.00" y="251.00" width="8.23" height="1.25" fill="#4d6fb5"/><rect x="26.23" y="251.00" width="49.40" height="1.25" fill="#f8e6a2"/><rect x="75.63" y="251.00" width="65.87" height="1.25" fill="#fbf7d0"/><rect x="18.00" y="252.25" width="8.23" height="1.25" fill="#4d6fb5"/><rect x="26.23" y="252.25" width="49.40" height="1.25" fill="#f8e6a2"/><rect x="75.63" y="252.25" width="65.87" height="1.25" fill="#fbf7d0"/><rect x="18.00" y="253.50" width="8.23" height="0.95" fill="#4d6fb5"/><rect x="26.23" y="253.50" width="49.40" height="0.95" fill="#f8e6a2"/><rect x="75.63" y="253.50" width="65.87" height="0.95" fill="#fbf7d0"/><rect x="18.00" y="254.45" width="8.23" height="0.95" fill="#4d6fb5"/><rect x="26.23" y="254.45" width="49.40" height="0.95" fill="#f8e6a2"/><rect x="75.63" y="254.45" width="65.87" height="0.95" fill="#fbf7d0"/><rect x="18.00" y="255.40" width="8.23" height="0.80" fill="#4d6fb5"/><rect x="26.23" y="255.40" width="49.40" height="0.80" fill="#f8e6a2"/><rect x="75.63" y="255.40" width="65.87" height="0.80" fill="#fbf7d0"/><rect x="18.00" y="256.20" width="8.23" height="0.80" fill="#4d6fb5"/><rect x="26.23" y="256.20" width="49.40" height="0.80" fill="#f8e6a2"/><rect x="75.63" y="256.20" width="65.87" height="0.80" fill="#fbf7d0"/><rect x="18.00" y="257.00" width="8.23" height="1.60" fill="#4d6fb5"/><rect x="26.23" y="257.00" width="8.23" height="1.60" fill="#faf4c4"/><rect x="34.47" y="257.00" width="41.17" height="1.60" fill="#f8e6a2"/><rect x="75.63" y="257.00" width="8.23" height="1.60" fill="#faf4c4"/><rect x="83.87" y="257.00" width="24.70" height="1.60" fill="#b3c6e3"/><rect x="108.57" y="257.00" width="8.23" height="1.60" fill="#6a88c4"/><rect x="116.80" y="257.00" width="24.70" height="1.60" fill="#faf4c4"/><rect x="18.00" y="258.60" width="8.23" height="1.60" fill="#4d6fb5"/><rect x="26.23" y="258.60" width="49.40" height="1.60" fill="#faf4c4"/><rect x="75.63" y="258.60" width="8.23" height="1.60" fill="#b3c6e3"/><rect x="83.87" y="258.60" width="16.47" height="1.60" fill="#e2e9ec"/><rect x="100.33" y="258.60" width="16.47" height="1.60" fill="#6a88c4"/><rect x="116.80" y="258.60" width="8.23" height="1.60" fill="#8ba4d3"/><rect x="125.03" y="258.60" width="16.47" height="1.60" fill="#b3c6e3"/><rect x="18.00" y="260.20" width="8.23" height="1.60" fill="#4d6fb5"/><rect x="26.23" y="260.20" width="49.40" height="1.60" fill="#faf4c4"/><rect x="75.63" y="260.20" width="8.23" height="1.60" fill="#8ba4d3"/><rect x="83.87" y="260.20" width="16.47" height="1.60" fill="#b3c6e3"/><rect x="100.33" y="260.20" width="8.23" height="1.60" fill="#e2e9ec"/><rect x="108.57" y="260.20" width="16.47" height="1.60" fill="#6a88c4"/><rect x="125.03" y="260.20" width="16.47" height="1.60" fill="#8ba4d3"/><rect x="18.00" y="261.80" width="8.23" height="1.60" fill="#4d6fb5"/><rect x="26.23" y="261.80" width="49.40" height="1.60" fill="#faf4c4"/><rect x="75.63" y="261.80" width="24.70" height="1.60" fill="#b3c6e3"/><rect x="100.33" y="261.80" width="16.47" height="1.60" fill="#faf4c4"/><rect x="116.80" y="261.80" width="24.70" height="1.60" fill="#b3c6e3"/><rect x="18.00" y="263.40" width="8.23" height="1.60" fill="#4d6fb5"/><rect x="26.23" y="263.40" width="8.23" height="1.60" fill="#e2e9ec"/><rect x="34.47" y="263.40" width="32.93" height="1.60" fill="#faf4c4"/><rect x="67.40" y="263.40" width="16.47" height="1.60" fill="#e2e9ec"/><rect x="83.87" y="263.40" width="16.47" height="1.60" fill="#faf4c4"/><rect x="100.33" y="263.40" width="16.47" height="1.60" fill="#e2e9ec"/><rect x="116.80" y="263.40" width="8.23" height="1.60" fill="#b3c6e3"/><rect x="125.03" y="263.40" width="8.23" height="1.60" fill="#e2e9ec"/><rect x="133.27" y="263.40" width="8.23" height="1.60" fill="#b3c6e3"/><rect x="18.00" y="265.00" width="8.23" height="1.80" fill="#f8e6a2"/><rect x="26.23" y="265.00" width="115.27" height="1.80" fill="#e2e9ec"/><rect x="18.00" y="266.80" width="8.23" height="1.20" fill="#f8e6a2"/><rect x="26.23" y="266.80" width="32.93" height="1.20" fill="#4d6fb5"/><rect x="59.17" y="266.80" width="32.93" height="1.20" fill="#e2e9ec"/><rect x="92.10" y="266.80" width="8.23" height="1.20" fill="#4d6fb5"/><rect x="100.33" y="266.80" width="16.47" height="1.20" fill="#b3c6e3"/><rect x="116.80" y="266.80" width="8.23" height="1.20" fill="#4d6fb5"/><rect x="125.03" y="266.80" width="16.47" height="1.20" fill="#b3c6e3"/><rect x="18.00" y="268.00" width="8.23" height="1.50" fill="#f8e6a2"/><rect x="26.23" y="268.00" width="82.33" height="1.50" fill="#4d6fb5"/><rect x="108.57" y="268.00" width="32.93" height="1.50" fill="#b3c6e3"/><rect x="18.00" y="269.50" width="8.23" height="1.50" fill="#f8e6a2"/><rect x="26.23" y="269.50" width="115.27" height="1.50" fill="#4d6fb5"/><rect x="18.00" y="271.00" width="8.23" height="1.50" fill="#f8e6a2"/><rect x="26.23" y="271.00" width="115.27" height="1.50" fill="#4d6fb5"/><rect x="18.00" y="272.50" width="8.23" height="1.50" fill="#f8e6a2"/><rect x="26.23" y="272.50" width="115.27" height="1.50" fill="#4d6fb5"/><rect x="18.00" y="274.00" width="8.23" height="1.50" fill="#f8e6a2"/><rect x="26.23" y="274.00" width="98.80" height="1.50" fill="#4d6fb5"/><rect x="125.03" y="274.00" width="8.23" height="1.50" fill="#b3c6e3"/><rect x="133.27" y="274.00" width="8.23" height="1.50" fill="#4d6fb5"/><rect x="18.00" y="275.50" width="8.23" height="1.50" fill="#f8e6a2"/><rect x="26.23" y="275.50" width="8.23" height="1.50" fill="#4d6fb5"/><rect x="34.47" y="275.50" width="16.47" height="1.50" fill="#8ba4d3"/><rect x="50.93" y="275.50" width="24.70" height="1.50" fill="#6a88c4"/><rect x="75.63" y="275.50" width="65.87" height="1.50" fill="#4d6fb5"/><rect x="18.00" y="277.00" width="8.23" height="1.50" fill="#f8e6a2"/><rect x="26.23" y="277.00" width="32.93" height="1.50" fill="#4d6fb5"/><rect x="59.17" y="277.00" width="16.47" height="1.50" fill="#b3c6e3"/><rect x="75.63" y="277.00" width="65.87" height="1.50" fill="#4d6fb5"/><rect x="18.00" y="278.50" width="8.23" height="1.50" fill="#f8e6a2"/><rect x="26.23" y="278.50" width="115.27" height="1.50" fill="#4d6fb5"/><rect x="18.00" y="280.00" width="8.23" height="1.50" fill="#f8e6a2"/><rect x="26.23" y="280.00" width="24.70" height="1.50" fill="#4d6fb5"/><rect x="50.93" y="280.00" width="32.93" height="1.50" fill="#8ba4d3"/><rect x="83.87" y="280.00" width="8.23" height="1.50" fill="#4d6fb5"/><rect x="92.10" y="280.00" width="32.93" height="1.50" fill="#8ba4d3"/><rect x="125.03" y="280.00" width="16.47" height="1.50" fill="#4d6fb5"/><rect x="18.00" y="281.50" width="8.23" height="1.50" fill="#f8e6a2"/><rect x="26.23" y="281.50" width="8.23" height="1.50" fill="#4d6fb5"/><rect x="34.47" y="281.50" width="8.23" height="1.50" fill="#8ba4d3"/><rect x="42.70" y="281.50" width="49.40" height="1.50" fill="#4d6fb5"/><rect x="92.10" y="281.50" width="32.93" height="1.50" fill="#8ba4d3"/><rect x="125.03" y="281.50" width="16.47" height="1.50" fill="#4d6fb5"/><rect x="18.00" y="283.00" width="8.23" height="1.00" fill="#f8e6a2"/><rect x="26.23" y="283.00" width="115.27" height="1.00" fill="#4d6fb5"/><rect x="18.00" y="284.00" width="8.23" height="1.00" fill="#f8e6a2"/><rect x="26.23" y="284.00" width="115.27" height="1.00" fill="#4d6fb5"/><rect x="18.00" y="285.00" width="8.23" height="1.10" fill="#f8e6a2"/><rect x="26.23" y="285.00" width="8.23" height="1.10" fill="#4d6fb5"/><rect x="34.47" y="285.00" width="16.47" height="1.10" fill="#b3c6e3"/><rect x="50.93" y="285.00" width="41.17" height="1.10" fill="#4d6fb5"/><rect x="92.10" y="285.00" width="8.23" height="1.10" fill="#e2e9ec"/><rect x="100.33" y="285.00" width="8.23" height="1.10" fill="#4d6fb5"/><rect x="108.57" y="285.00" width="24.70" height="1.10" fill="#e2e9ec"/><rect x="133.27" y="285.00" width="8.23" height="1.10" fill="#4d6fb5"/><rect x="18.00" y="286.10" width="8.23" height="1.10" fill="#f8e6a2"/><rect x="26.23" y="286.10" width="8.23" height="1.10" fill="#4d6fb5"/><rect x="34.47" y="286.10" width="16.47" height="1.10" fill="#b3c6e3"/><rect x="50.93" y="286.10" width="8.23" height="1.10" fill="#8ba4d3"/><rect x="59.17" y="286.10" width="16.47" height="1.10" fill="#4d6fb5"/><rect x="75.63" y="286.10" width="24.70" height="1.10" fill="#e2e9ec"/><rect x="100.33" y="286.10" width="41.17" height="1.10" fill="#4d6fb5"/><rect x="18.00" y="287.20" width="74.10" height="1.80" fill="#4d6fb5"/><rect x="92.10" y="287.20" width="8.23" height="1.80" fill="#e2e9ec"/><rect x="100.33" y="287.20" width="24.70" height="1.80" fill="#4d6fb5"/><rect x="125.03" y="287.20" width="8.23" height="1.80" fill="#f8d498"/><rect x="133.27" y="287.20" width="8.23" height="1.80" fill="#4d6fb5"/><rect x="18.00" y="289.00" width="74.10" height="1.80" fill="#4d6fb5"/><rect x="92.10" y="289.00" width="8.23" height="1.80" fill="#f8d498"/><rect x="100.33" y="289.00" width="24.70" height="1.80" fill="#4d6fb5"/><rect x="125.03" y="289.00" width="8.23" height="1.80" fill="#f8d498"/><rect x="133.27" y="289.00" width="8.23" height="1.80" fill="#4d6fb5"/><rect x="18.00" y="290.80" width="123.50" height="1.20" fill="#4d6fb5"/><rect x="18.00" y="292.00" width="8.23" height="2.00" fill="#4d6fb5"/><rect x="26.23" y="292.00" width="16.47" height="2.00" fill="#faf4c4"/><rect x="42.70" y="292.00" width="16.47" height="2.00" fill="#e2e9ec"/><rect x="59.17" y="292.00" width="16.47" height="2.00" fill="#b3c6e3"/><rect x="75.63" y="292.00" width="8.23" height="2.00" fill="#4d6fb5"/><rect x="83.87" y="292.00" width="32.93" height="2.00" fill="#b3c6e3"/><rect x="116.80" y="292.00" width="8.23" height="2.00" fill="#4d6fb5"/><rect x="125.03" y="292.00" width="16.47" height="2.00" fill="#b3c6e3"/><rect x="18.00" y="294.00" width="8.23" height="2.00" fill="#4d6fb5"/><rect x="26.23" y="294.00" width="16.47" height="2.00" fill="#faf4c4"/><rect x="42.70" y="294.00" width="8.23" height="2.00" fill="#f8e6a2"/><rect x="50.93" y="294.00" width="49.40" height="2.00" fill="#4d6fb5"/><rect x="100.33" y="294.00" width="8.23" height="2.00" fill="#b3c6e3"/><rect x="108.57" y="294.00" width="32.93" height="2.00" fill="#4d6fb5"/><rect x="18.00" y="296.00" width="8.23" height="2.00" fill="#4d6fb5"/><rect x="26.23" y="296.00" width="16.47" height="2.00" fill="#faf4c4"/><rect x="42.70" y="296.00" width="24.70" height="2.00" fill="#b3c6e3"/><rect x="67.40" y="296.00" width="16.47" height="2.00" fill="#4d6fb5"/><rect x="83.87" y="296.00" width="16.47" height="2.00" fill="#8ba4d3"/><rect x="100.33" y="296.00" width="8.23" height="2.00" fill="#b3c6e3"/><rect x="108.57" y="296.00" width="16.47" height="2.00" fill="#4d6fb5"/><rect x="125.03" y="296.00" width="16.47" height="2.00" fill="#b3c6e3"/><rect x="18.00" y="298.00" width="8.23" height="2.00" fill="#4d6fb5"/><rect x="26.23" y="298.00" width="16.47" height="2.00" fill="#faf4c4"/><rect x="42.70" y="298.00" width="16.47" height="2.00" fill="#4d6fb5"/><rect x="59.17" y="298.00" width="41.17" height="2.00" fill="#b3c6e3"/><rect x="100.33" y="298.00" width="41.17" height="2.00" fill="#4d6fb5"/><rect x="18.00" y="300.00" width="16.47" height="2.40" fill="#4d6fb5"/><rect x="34.47" y="300.00" width="8.23" height="2.40" fill="#faf4c4"/><rect x="42.70" y="300.00" width="16.47" height="2.40" fill="#b3c6e3"/><rect x="59.17" y="300.00" width="8.23" height="2.40" fill="#4d6fb5"/><rect x="67.40" y="300.00" width="16.47" height="2.40" fill="#b3c6e3"/><rect x="83.87" y="300.00" width="8.23" height="2.40" fill="#4d6fb5"/><rect x="92.10" y="300.00" width="32.93" height="2.40" fill="#b3c6e3"/><rect x="125.03" y="300.00" width="16.47" height="2.40" fill="#4d6fb5"/><rect x="18.00" y="302.40" width="8.23" height="1.80" fill="#4d6fb5"/><rect x="26.23" y="302.40" width="8.23" height="1.80" fill="#e2e9ec"/><rect x="34.47" y="302.40" width="16.47" height="1.80" fill="#faf4c4"/><rect x="50.93" y="302.40" width="24.70" height="1.80" fill="#e2e9ec"/><rect x="75.63" y="302.40" width="41.17" height="1.80" fill="#b3c6e3"/><rect x="116.80" y="302.40" width="16.47" height="1.80" fill="#e2e9ec"/><rect x="133.27" y="302.40" width="8.23" height="1.80" fill="#4d6fb5"/><rect x="18.00" y="304.20" width="16.47" height="1.80" fill="#4d6fb5"/><rect x="34.47" y="304.20" width="32.93" height="1.80" fill="#fbecb7"/><rect x="67.40" y="304.20" width="8.23" height="1.80" fill="#fbeebc"/><rect x="75.63" y="304.20" width="65.87" height="1.80" fill="#fbecb7"/><rect x="18.00" y="306.00" width="16.47" height="1.50" fill="#4d6fb5"/><rect x="34.47" y="306.00" width="16.47" height="1.50" fill="#fae8b1"/><rect x="50.93" y="306.00" width="8.23" height="1.50" fill="#faeab7"/><rect x="59.17" y="306.00" width="49.40" height="1.50" fill="#fae8b1"/><rect x="108.57" y="306.00" width="8.23" height="1.50" fill="#faebb8"/><rect x="116.80" y="306.00" width="16.47" height="1.50" fill="#fae8b1"/><rect x="133.27" y="306.00" width="8.23" height="1.50" fill="#faeab5"/><rect x="18.00" y="307.50" width="16.47" height="1.50" fill="#4d6fb5"/><rect x="34.47" y="307.50" width="32.93" height="1.50" fill="#fae5ac"/><rect x="67.40" y="307.50" width="8.23" height="1.50" fill="#fae8b3"/><rect x="75.63" y="307.50" width="65.87" height="1.50" fill="#fae5ac"/><rect x="18.00" y="309.00" width="8.23" height="1.50" fill="#4d6fb5"/><rect x="26.23" y="309.00" width="8.23" height="1.50" fill="#e2e9ec"/><rect x="34.47" y="309.00" width="8.23" height="1.50" fill="#fae4ad"/><rect x="42.70" y="309.00" width="24.70" height="1.50" fill="#fae1a7"/><rect x="67.40" y="309.00" width="8.23" height="1.50" fill="#fae6b1"/><rect x="75.63" y="309.00" width="8.23" height="1.50" fill="#fae1a7"/><rect x="83.87" y="309.00" width="8.23" height="1.50" fill="#fae5b0"/><rect x="92.10" y="309.00" width="8.23" height="1.50" fill="#fae1a7"/><rect x="100.33" y="309.00" width="8.23" height="1.50" fill="#fae5ae"/><rect x="108.57" y="309.00" width="8.23" height="1.50" fill="#fae4ac"/><rect x="116.80" y="309.00" width="16.47" height="1.50" fill="#fae1a7"/><rect x="133.27" y="309.00" width="8.23" height="1.50" fill="#fae6b0"/><rect x="18.00" y="310.50" width="8.23" height="1.50" fill="#4d6fb5"/><rect x="26.23" y="310.50" width="8.23" height="1.50" fill="#e2e9ec"/><rect x="34.47" y="310.50" width="8.23" height="1.50" fill="#fae1a8"/><rect x="42.70" y="310.50" width="41.17" height="1.50" fill="#fadea1"/><rect x="83.87" y="310.50" width="8.23" height="1.50" fill="#fae4ae"/><rect x="92.10" y="310.50" width="8.23" height="1.50" fill="#fae2a9"/><rect x="100.33" y="310.50" width="24.70" height="1.50" fill="#fadea1"/><rect x="125.03" y="310.50" width="8.23" height="1.50" fill="#fae4ae"/><rect x="133.27" y="310.50" width="8.23" height="1.50" fill="#fadea1"/><rect x="18.00" y="312.00" width="8.23" height="1.50" fill="#4d6fb5"/><rect x="26.23" y="312.00" width="74.10" height="1.50" fill="#f9db9c"/><rect x="100.33" y="312.00" width="8.23" height="1.50" fill="#f9e1a8"/><rect x="108.57" y="312.00" width="24.70" height="1.50" fill="#f9db9c"/><rect x="133.27" y="312.00" width="8.23" height="1.50" fill="#f9dea1"/><rect x="18.00" y="313.50" width="8.23" height="1.50" fill="#4d6fb5"/><rect x="26.23" y="313.50" width="8.23" height="1.50" fill="#f9dda2"/><rect x="34.47" y="313.50" width="90.57" height="1.50" fill="#f9d796"/><rect x="125.03" y="313.50" width="8.23" height="1.50" fill="#f9dc9f"/><rect x="133.27" y="313.50" width="8.23" height="1.50" fill="#f9d796"/><rect x="18.00" y="315.00" width="8.23" height="1.50" fill="#4d6fb5"/><rect x="26.23" y="315.00" width="107.03" height="1.50" fill="#f8d090"/><rect x="133.27" y="315.00" width="8.23" height="1.50" fill="#f9d79b"/><rect x="18.00" y="316.50" width="8.23" height="1.50" fill="#4d6fb5"/><rect x="26.23" y="316.50" width="8.23" height="1.50" fill="#f7ce90"/><rect x="34.47" y="316.50" width="8.23" height="1.50" fill="#f7ca89"/><rect x="42.70" y="316.50" width="8.23" height="1.50" fill="#f8d499"/><rect x="50.93" y="316.50" width="24.70" height="1.50" fill="#f7ca89"/><rect x="75.63" y="316.50" width="8.23" height="1.50" fill="#f8d092"/><rect x="83.87" y="316.50" width="57.63" height="1.50" fill="#f7ca89"/><rect x="18.00" y="318.00" width="8.23" height="1.50" fill="#4d6fb5"/><rect x="26.23" y="318.00" width="8.23" height="1.50" fill="#f8cb8f"/><rect x="34.47" y="318.00" width="8.23" height="1.50" fill="#f8ce93"/><rect x="42.70" y="318.00" width="8.23" height="1.50" fill="#f7c382"/><rect x="50.93" y="318.00" width="8.23" height="1.50" fill="#f8ce93"/><rect x="59.17" y="318.00" width="8.23" height="1.50" fill="#f7c98b"/><rect x="67.40" y="318.00" width="41.17" height="1.50" fill="#f7c382"/><rect x="108.57" y="318.00" width="8.23" height="1.50" fill="#f8d096"/><rect x="116.80" y="318.00" width="8.23" height="1.50" fill="#f8ce93"/><rect x="125.03" y="318.00" width="16.47" height="1.50" fill="#f7c382"/><rect x="18.00" y="319.50" width="8.23" height="1.50" fill="#4d6fb5"/><rect x="26.23" y="319.50" width="32.93" height="1.50" fill="#f6bd7c"/><rect x="59.17" y="319.50" width="8.23" height="1.50" fill="#f7cd93"/><rect x="67.40" y="319.50" width="49.40" height="1.50" fill="#f6bd7c"/><rect x="116.80" y="319.50" width="8.23" height="1.50" fill="#f7cb91"/><rect x="125.03" y="319.50" width="16.47" height="1.50" fill="#f6bd7c"/><rect x="18.00" y="321.00" width="8.23" height="1.50" fill="#4d6fb5"/><rect x="26.23" y="321.00" width="8.23" height="1.50" fill="#f5b775"/><rect x="34.47" y="321.00" width="8.23" height="1.50" fill="#f7c78d"/><rect x="42.70" y="321.00" width="32.93" height="1.50" fill="#f5b775"/><rect x="75.63" y="321.00" width="8.23" height="1.50" fill="#f6be7f"/><rect x="83.87" y="321.00" width="24.70" height="1.50" fill="#f5b775"/><rect x="108.57" y="321.00" width="8.23" height="1.50" fill="#f6bf81"/><rect x="116.80" y="321.00" width="8.23" height="1.50" fill="#f5b775"/><rect x="125.03" y="321.00" width="8.23" height="1.50" fill="#f7c98f"/><rect x="133.27" y="321.00" width="8.23" height="1.50" fill="#f5b775"/><rect x="18.00" y="322.50" width="8.23" height="1.50" fill="#4d6fb5"/><rect x="26.23" y="322.50" width="24.70" height="1.50" fill="#f4b06e"/><rect x="50.93" y="322.50" width="8.23" height="1.50" fill="#f6c185"/><rect x="59.17" y="322.50" width="8.23" height="1.50" fill="#f5be82"/><rect x="67.40" y="322.50" width="16.47" height="1.50" fill="#f4b06e"/><rect x="83.87" y="322.50" width="8.23" height="1.50" fill="#f5b879"/><rect x="92.10" y="322.50" width="8.23" height="1.50" fill="#f4b06e"/><rect x="100.33" y="322.50" width="8.23" height="1.50" fill="#f5be81"/><rect x="108.57" y="322.50" width="8.23" height="1.50" fill="#f5ba7d"/><rect x="116.80" y="322.50" width="8.23" height="1.50" fill="#f5be82"/><rect x="125.03" y="322.50" width="8.23" height="1.50" fill="#f4b06e"/><rect x="133.27" y="322.50" width="8.23" height="1.50" fill="#f5ba7c"/><rect x="18.00" y="324.00" width="8.23" height="1.50" fill="#4d6fb5"/><rect x="26.23" y="324.00" width="24.70" height="1.50" fill="#f2a868"/><rect x="50.93" y="324.00" width="8.23" height="1.50" fill="#f3b478"/><rect x="59.17" y="324.00" width="8.23" height="1.50" fill="#f4b87d"/><rect x="67.40" y="324.00" width="16.47" height="1.50" fill="#f2a868"/><rect x="83.87" y="324.00" width="8.23" height="1.50" fill="#f3b479"/><rect x="92.10" y="324.00" width="49.40" height="1.50" fill="#f2a868"/><rect x="18.00" y="325.50" width="8.23" height="1.50" fill="#4d6fb5"/><rect x="26.23" y="325.50" width="49.40" height="1.50" fill="#f09e62"/><rect x="75.63" y="325.50" width="8.23" height="1.50" fill="#f2b17a"/><rect x="83.87" y="325.50" width="8.23" height="1.50" fill="#f09e62"/><rect x="92.10" y="325.50" width="8.23" height="1.50" fill="#f1a76d"/><rect x="100.33" y="325.50" width="8.23" height="1.50" fill="#f09e62"/><rect x="108.57" y="325.50" width="8.23" height="1.50" fill="#f3b37c"/><rect x="116.80" y="325.50" width="8.23" height="1.50" fill="#f2ad74"/><rect x="125.03" y="325.50" width="8.23" height="1.50" fill="#f2b078"/><rect x="133.27" y="325.50" width="8.23" height="1.50" fill="#f09e62"/><rect x="18.00" y="327.00" width="8.23" height="1.50" fill="#4d6fb5"/><rect x="26.23" y="327.00" width="8.23" height="1.50" fill="#f0a974"/><rect x="34.47" y="327.00" width="41.17" height="1.50" fill="#ed955c"/><rect x="75.63" y="327.00" width="8.23" height="1.50" fill="#f0ab76"/><rect x="83.87" y="327.00" width="8.23" height="1.50" fill="#efa16a"/><rect x="92.10" y="327.00" width="8.23" height="1.50" fill="#ed955c"/><rect x="100.33" y="327.00" width="8.23" height="1.50" fill="#f1b07c"/><rect x="108.57" y="327.00" width="32.93" height="1.50" fill="#ed955c"/><rect x="18.00" y="328.50" width="8.23" height="1.50" fill="#4d6fb5"/><rect x="26.23" y="328.50" width="16.47" height="1.50" fill="#ea8b56"/><rect x="42.70" y="328.50" width="8.23" height="1.50" fill="#efa776"/><rect x="50.93" y="328.50" width="16.47" height="1.50" fill="#ea8b56"/><rect x="67.40" y="328.50" width="8.23" height="1.50" fill="#eea270"/><rect x="75.63" y="328.50" width="57.63" height="1.50" fill="#ea8b56"/><rect x="133.27" y="328.50" width="8.23" height="1.50" fill="#eea270"/><rect x="18.00" y="330.00" width="8.23" height="1.50" fill="#4d6fb5"/><rect x="26.23" y="330.00" width="8.23" height="1.50" fill="#eb9666"/><rect x="34.47" y="330.00" width="8.23" height="1.50" fill="#eea374"/><rect x="42.70" y="330.00" width="8.23" height="1.50" fill="#eda273"/><rect x="50.93" y="330.00" width="24.70" height="1.50" fill="#e88250"/><rect x="75.63" y="330.00" width="8.23" height="1.50" fill="#ea9060"/><rect x="83.87" y="330.00" width="8.23" height="1.50" fill="#ea8f5e"/><rect x="92.10" y="330.00" width="8.23" height="1.50" fill="#eda071"/><rect x="100.33" y="330.00" width="8.23" height="1.50" fill="#ec9b6b"/><rect x="108.57" y="330.00" width="8.23" height="1.50" fill="#e88250"/><rect x="116.80" y="330.00" width="8.23" height="1.50" fill="#eb9767"/><rect x="125.03" y="330.00" width="8.23" height="1.50" fill="#eea375"/><rect x="133.27" y="330.00" width="8.23" height="1.50" fill="#e88250"/><rect x="18.00" y="331.50" width="8.23" height="1.50" fill="#4d6fb5"/><rect x="26.23" y="331.50" width="41.17" height="1.50" fill="#e2764a"/><rect x="67.40" y="331.50" width="8.23" height="1.50" fill="#e9996e"/><rect x="75.63" y="331.50" width="8.23" height="1.50" fill="#e78e63"/><rect x="83.87" y="331.50" width="41.17" height="1.50" fill="#e2764a"/><rect x="125.03" y="331.50" width="8.23" height="1.50" fill="#e79166"/><rect x="133.27" y="331.50" width="8.23" height="1.50" fill="#e2764a"/><rect x="18.00" y="333.00" width="8.23" height="1.43" fill="#4d6fb5"/><rect x="26.23" y="333.00" width="57.63" height="1.43" fill="#dc6a44"/><rect x="83.87" y="333.00" width="8.23" height="1.43" fill="#e5916b"/><rect x="92.10" y="333.00" width="32.93" height="1.43" fill="#dc6a44"/><rect x="125.03" y="333.00" width="8.23" height="1.43" fill="#e1825c"/><rect x="133.27" y="333.00" width="8.23" height="1.43" fill="#dc6a44"/><rect x="18.00" y="334.43" width="8.23" height="1.43" fill="#4d6fb5"/><rect x="26.23" y="334.43" width="8.23" height="1.43" fill="#d65e3e"/><rect x="34.47" y="334.43" width="8.23" height="1.43" fill="#dc7655"/><rect x="42.70" y="334.43" width="8.23" height="1.43" fill="#de7f5e"/><rect x="50.93" y="334.43" width="16.47" height="1.43" fill="#d65e3e"/><rect x="67.40" y="334.43" width="8.23" height="1.43" fill="#dd7857"/><rect x="75.63" y="334.43" width="8.23" height="1.43" fill="#e08866"/><rect x="83.87" y="334.43" width="57.63" height="1.43" fill="#d65e3e"/><rect x="18.00" y="335.87" width="8.23" height="1.43" fill="#4d6fb5"/><rect x="26.23" y="335.87" width="49.40" height="1.43" fill="#d15238"/><rect x="75.63" y="335.87" width="8.23" height="1.43" fill="#d6664b"/><rect x="83.87" y="335.87" width="8.23" height="1.43" fill="#da7659"/><rect x="92.10" y="335.87" width="8.23" height="1.43" fill="#d15238"/><rect x="100.33" y="335.87" width="8.23" height="1.43" fill="#d97256"/><rect x="108.57" y="335.87" width="8.23" height="1.43" fill="#db785b"/><rect x="116.80" y="335.87" width="8.23" height="1.43" fill="#d15238"/><rect x="125.03" y="335.87" width="8.23" height="1.43" fill="#dd8264"/><rect x="133.27" y="335.87" width="8.23" height="1.43" fill="#d15238"/></g><line x1="22.12" y1="265.00" x2="22.12" y2="287.20" stroke="#4f3820" stroke-width="1.25" opacity="0.7"/><line x1="30.35" y1="244.00" x2="30.35" y2="246.00" stroke="#4f3820" stroke-width="1.25" opacity="0.4"/><line x1="30.35" y1="246.00" x2="30.35" y2="263.40" stroke="#4f3820" stroke-width="1.25" opacity="0.7"/><line x1="30.35" y1="292.00" x2="30.35" y2="300.00" stroke="#4f3820" stroke-width="1.25" opacity="0.7"/><line x1="30.35" y1="312.00" x2="30.35" y2="337.30" stroke="#4f3820" stroke-width="1.25" opacity="0.8"/><line x1="38.58" y1="235.00" x2="38.58" y2="246.00" stroke="#4f3820" stroke-width="1.25" opacity="0.4"/><line x1="38.58" y1="246.00" x2="38.58" y2="265.00" stroke="#4f3820" stroke-width="1.25" opacity="0.7"/><line x1="38.58" y1="292.00" x2="38.58" y2="304.20" stroke="#4f3820" stroke-width="1.25" opacity="0.7"/><line x1="38.58" y1="304.20" x2="38.58" y2="337.30" stroke="#4f3820" stroke-width="1.25" opacity="0.8"/><line x1="46.82" y1="235.00" x2="46.82" y2="246.00" stroke="#4f3820" stroke-width="1.25" opacity="0.4"/><line x1="46.82" y1="246.00" x2="46.82" y2="265.00" stroke="#4f3820" stroke-width="1.25" opacity="0.7"/><line x1="46.82" y1="294.00" x2="46.82" y2="296.00" stroke="#4f3820" stroke-width="1.25" opacity="0.7"/><line x1="46.82" y1="302.40" x2="46.82" y2="304.20" stroke="#4f3820" stroke-width="1.25" opacity="0.7"/><line x1="46.82" y1="304.20" x2="46.82" y2="337.30" stroke="#4f3820" stroke-width="1.25" opacity="0.8"/><line x1="55.05" y1="235.00" x2="55.05" y2="246.00" stroke="#4f3820" stroke-width="1.25" opacity="0.4"/><line x1="55.05" y1="246.00" x2="55.05" y2="265.00" stroke="#4f3820" stroke-width="1.25" opacity="0.7"/><line x1="55.05" y1="304.20" x2="55.05" y2="337.30" stroke="#4f3820" stroke-width="1.25" opacity="0.8"/><line x1="63.28" y1="240.00" x2="63.28" y2="246.00" stroke="#4f3820" stroke-width="1.25" opacity="0.4"/><line x1="63.28" y1="246.00" x2="63.28" y2="265.00" stroke="#4f3820" stroke-width="1.25" opacity="0.7"/><line x1="63.28" y1="304.20" x2="63.28" y2="337.30" stroke="#4f3820" stroke-width="1.25" opacity="0.8"/><line x1="71.52" y1="240.00" x2="71.52" y2="246.00" stroke="#4f3820" stroke-width="1.25" opacity="0.6"/><line x1="71.52" y1="246.00" x2="71.52" y2="263.40" stroke="#4f3820" stroke-width="1.25" opacity="0.7"/><line x1="71.52" y1="304.20" x2="71.52" y2="337.30" stroke="#4f3820" stroke-width="1.25" opacity="0.8"/><line x1="79.75" y1="240.00" x2="79.75" y2="246.00" stroke="#4f3820" stroke-width="1.25" opacity="0.6"/><line x1="79.75" y1="246.00" x2="79.75" y2="258.60" stroke="#4f3820" stroke-width="1.25" opacity="0.25"/><line x1="79.75" y1="304.20" x2="79.75" y2="337.30" stroke="#4f3820" stroke-width="1.25" opacity="0.8"/><line x1="87.98" y1="235.00" x2="87.98" y2="244.00" stroke="#4f3820" stroke-width="1.25" opacity="0.6"/><line x1="87.98" y1="246.00" x2="87.98" y2="257.00" stroke="#4f3820" stroke-width="1.25" opacity="0.25"/><line x1="87.98" y1="263.40" x2="87.98" y2="265.00" stroke="#4f3820" stroke-width="1.25" opacity="0.25"/><line x1="87.98" y1="304.20" x2="87.98" y2="337.30" stroke="#4f3820" stroke-width="1.25" opacity="0.8"/><line x1="96.22" y1="235.00" x2="96.22" y2="240.00" stroke="#4f3820" stroke-width="1.25" opacity="0.6"/><line x1="96.22" y1="242.00" x2="96.22" y2="244.00" stroke="#4f3820" stroke-width="1.25" opacity="0.6"/><line x1="96.22" y1="246.00" x2="96.22" y2="257.00" stroke="#4f3820" stroke-width="1.25" opacity="0.25"/><line x1="96.22" y1="263.40" x2="96.22" y2="265.00" stroke="#4f3820" stroke-width="1.25" opacity="0.25"/><line x1="96.22" y1="289.00" x2="96.22" y2="290.80" stroke="#4f3820" stroke-width="1.25" opacity="0.7"/><line x1="96.22" y1="304.20" x2="96.22" y2="337.30" stroke="#4f3820" stroke-width="1.25" opacity="0.8"/><line x1="104.45" y1="235.00" x2="104.45" y2="240.00" stroke="#4f3820" stroke-width="1.25" opacity="0.6"/><line x1="104.45" y1="242.00" x2="104.45" y2="246.00" stroke="#4f3820" stroke-width="1.25" opacity="0.6"/><line x1="104.45" y1="246.00" x2="104.45" y2="257.00" stroke="#4f3820" stroke-width="1.25" opacity="0.25"/><line x1="104.45" y1="261.80" x2="104.45" y2="263.40" stroke="#4f3820" stroke-width="1.25" opacity="0.25"/><line x1="104.45" y1="304.20" x2="104.45" y2="337.30" stroke="#4f3820" stroke-width="1.25" opacity="0.8"/><line x1="112.68" y1="235.00" x2="112.68" y2="246.00" stroke="#4f3820" stroke-width="1.25" opacity="0.6"/><line x1="112.68" y1="246.00" x2="112.68" y2="257.00" stroke="#4f3820" stroke-width="1.25" opacity="0.25"/><line x1="112.68" y1="261.80" x2="112.68" y2="263.40" stroke="#4f3820" stroke-width="1.25" opacity="0.25"/><line x1="112.68" y1="304.20" x2="112.68" y2="337.30" stroke="#4f3820" stroke-width="1.25" opacity="0.8"/><line x1="120.92" y1="235.00" x2="120.92" y2="246.00" stroke="#4f3820" stroke-width="1.25" opacity="0.6"/><line x1="120.92" y1="246.00" x2="120.92" y2="258.60" stroke="#4f3820" stroke-width="1.25" opacity="0.25"/><line x1="120.92" y1="304.20" x2="120.92" y2="337.30" stroke="#4f3820" stroke-width="1.25" opacity="0.8"/><line x1="129.15" y1="235.00" x2="129.15" y2="242.00" stroke="#4f3820" stroke-width="1.25" opacity="0.6"/><line x1="129.15" y1="246.00" x2="129.15" y2="258.60" stroke="#4f3820" stroke-width="1.25" opacity="0.25"/><line x1="129.15" y1="287.20" x2="129.15" y2="290.80" stroke="#4f3820" stroke-width="1.25" opacity="0.7"/><line x1="129.15" y1="304.20" x2="129.15" y2="337.30" stroke="#4f3820" stroke-width="1.25" opacity="0.8"/><line x1="137.38" y1="235.00" x2="137.38" y2="242.00" stroke="#4f3820" stroke-width="1.25" opacity="0.6"/><line x1="137.38" y1="244.00" x2="137.38" y2="246.00" stroke="#4f3820" stroke-width="1.25" opacity="0.6"/><line x1="137.38" y1="246.00" x2="137.38" y2="258.60" stroke="#4f3820" stroke-width="1.25" opacity="0.25"/><line x1="137.38" y1="304.20" x2="137.38" y2="337.30" stroke="#4f3820" stroke-width="1.25" opacity="0.8"/><rect x="18" y="235" width="123.5" height="102.3" fill="none" stroke="#333" stroke-width="1"/><text x="80.25" y="67.2" font-size="8.3" text-anchor="middle" font-weight="normal" fill="#222" textLength="24.7" lengthAdjust="spacingAndGlyphs">ZH33 T</text><text x="80.25" y="230.2" font-size="8.3" text-anchor="middle" font-weight="normal" fill="#222" textLength="24.7" lengthAdjust="spacingAndGlyphs">ZH33 B</text><text transform="translate(13.7,122.95) rotate(-90)" font-size="8" text-anchor="middle" font-weight="normal" fill="#222" textLength="73.7" lengthAdjust="spacingAndGlyphs">High-contributing clones</text><text transform="translate(13.7,285.6) rotate(-90)" font-size="8" text-anchor="middle" font-weight="normal" fill="#222" textLength="73.7" lengthAdjust="spacingAndGlyphs">High-contributing clones</text><text class="k" transform="translate(24.633333333333333,176.9) rotate(-90)" font-size="5.6" text-anchor="end" font-weight="normal" fill="#222" textLength="2.84" lengthAdjust="spacingAndGlyphs">1</text><text class="k" transform="translate(24.633333333333333,340.4) rotate(-90)" font-size="5.6" text-anchor="end" font-weight="normal" fill="#222" textLength="2.84" lengthAdjust="spacingAndGlyphs">1</text><text class="k" transform="translate(32.9,176.9) rotate(-90)" font-size="5.6" text-anchor="end" font-weight="normal" fill="#222" textLength="2.84" lengthAdjust="spacingAndGlyphs">2</text><text class="k" transform="translate(32.9,340.4) rotate(-90)" font-size="5.6" text-anchor="end" font-weight="normal" fill="#222" textLength="2.84" lengthAdjust="spacingAndGlyphs">2</text><text class="k" transform="translate(41.16666666666667,176.9) rotate(-90)" font-size="5.6" text-anchor="end" font-weight="normal" fill="#222" textLength="2.84" lengthAdjust="spacingAndGlyphs">3</text><text class="k" transform="translate(41.16666666666667,340.4) rotate(-90)" font-size="5.6" text-anchor="end" font-weight="normal" fill="#222" textLength="2.84" lengthAdjust="spacingAndGlyphs">3</text><text class="k" transform="translate(49.43333333333334,176.9) rotate(-90)" font-size="5.6" text-anchor="end" font-weight="normal" fill="#222" textLength="7.09" lengthAdjust="spacingAndGlyphs">4.5</text><text class="k" transform="translate(49.43333333333334,340.4) rotate(-90)" font-size="5.6" text-anchor="end" font-weight="normal" fill="#222" textLength="7.09" lengthAdjust="spacingAndGlyphs">4.5</text><text class="k" transform="translate(57.7,176.9) rotate(-90)" font-size="5.6" text-anchor="end" font-weight="normal" fill="#222" textLength="7.09" lengthAdjust="spacingAndGlyphs">6.5</text><text class="k" transform="translate(57.7,340.4) rotate(-90)" font-size="5.6" text-anchor="end" font-weight="normal" fill="#222" textLength="7.09" lengthAdjust="spacingAndGlyphs">6.5</text><text class="k" transform="translate(65.96666666666667,176.9) rotate(-90)" font-size="5.6" text-anchor="end" font-weight="normal" fill="#222" textLength="7.09" lengthAdjust="spacingAndGlyphs">9.5</text><text class="k" transform="translate(65.96666666666667,340.4) rotate(-90)" font-size="5.6" text-anchor="end" font-weight="normal" fill="#222" textLength="7.09" lengthAdjust="spacingAndGlyphs">9.5</text><text class="k" transform="translate(74.23333333333333,176.9) rotate(-90)" font-size="5.6" text-anchor="end" font-weight="normal" fill="#222" textLength="5.67" lengthAdjust="spacingAndGlyphs">12</text><text class="k" transform="translate(74.23333333333333,340.4) rotate(-90)" font-size="5.6" text-anchor="end" font-weight="normal" fill="#222" textLength="5.67" lengthAdjust="spacingAndGlyphs">12</text><text class="k" transform="translate(82.5,176.9) rotate(-90)" font-size="5.6" text-anchor="end" font-weight="normal" fill="#222" textLength="5.67" lengthAdjust="spacingAndGlyphs">14</text><text class="k" transform="translate(82.5,340.4) rotate(-90)" font-size="5.6" text-anchor="end" font-weight="normal" fill="#222" textLength="5.67" lengthAdjust="spacingAndGlyphs">14</text><text class="k" transform="translate(90.76666666666667,176.9) rotate(-90)" font-size="5.6" text-anchor="end" font-weight="normal" fill="#222" textLength="5.67" lengthAdjust="spacingAndGlyphs">21</text><text class="k" transform="translate(90.76666666666667,340.4) rotate(-90)" font-size="5.6" text-anchor="end" font-weight="normal" fill="#222" textLength="5.67" lengthAdjust="spacingAndGlyphs">21</text><text class="k" transform="translate(99.03333333333333,176.9) rotate(-90)" font-size="5.6" text-anchor="end" font-weight="normal" fill="#222" textLength="5.67" lengthAdjust="spacingAndGlyphs">26</text><text class="k" transform="translate(99.03333333333333,340.4) rotate(-90)" font-size="5.6" text-anchor="end" font-weight="normal" fill="#222" textLength="5.67" lengthAdjust="spacingAndGlyphs">26</text><text class="k" transform="translate(107.3,176.9) rotate(-90)" font-size="5.6" text-anchor="end" font-weight="normal" fill="#222" textLength="5.67" lengthAdjust="spacingAndGlyphs">30</text><text class="k" transform="translate(107.3,340.4) rotate(-90)" font-size="5.6" text-anchor="end" font-weight="normal" fill="#222" textLength="5.67" lengthAdjust="spacingAndGlyphs">30</text><text class="k" transform="translate(115.56666666666666,176.9) rotate(-90)" font-size="5.6" text-anchor="end" font-weight="normal" fill="#222" textLength="5.67" lengthAdjust="spacingAndGlyphs">38</text><text class="k" transform="translate(115.56666666666666,340.4) rotate(-90)" font-size="5.6" text-anchor="end" font-weight="normal" fill="#222" textLength="5.67" lengthAdjust="spacingAndGlyphs">38</text><text class="k" transform="translate(123.83333333333333,176.9) rotate(-90)" font-size="5.6" text-anchor="end" font-weight="normal" fill="#222" textLength="5.67" lengthAdjust="spacingAndGlyphs">43</text><text class="k" transform="translate(123.83333333333333,340.4) rotate(-90)" font-size="5.6" text-anchor="end" font-weight="normal" fill="#222" textLength="5.67" lengthAdjust="spacingAndGlyphs">43</text><text class="k" transform="translate(132.1,176.9) rotate(-90)" font-size="5.6" text-anchor="end" font-weight="normal" fill="#222" textLength="5.67" lengthAdjust="spacingAndGlyphs">46</text><text class="k" transform="translate(132.1,340.4) rotate(-90)" font-size="5.6" text-anchor="end" font-weight="normal" fill="#222" textLength="5.67" lengthAdjust="spacingAndGlyphs">46</text><text class="k" transform="translate(140.36666666666667,176.9) rotate(-90)" font-size="5.6" text-anchor="end" font-weight="normal" fill="#222" textLength="5.67" lengthAdjust="spacingAndGlyphs">49</text><text class="k" transform="translate(140.36666666666667,340.4) rotate(-90)" font-size="5.6" text-anchor="end" font-weight="normal" fill="#222" textLength="5.67" lengthAdjust="spacingAndGlyphs">49</text><text x="80.2" y="197.8" font-size="8.4" text-anchor="middle" font-weight="normal" fill="#222" textLength="70.6" lengthAdjust="spacingAndGlyphs">Months post-transplant</text><text x="80.2" y="360.6" font-size="8.4" text-anchor="middle" font-weight="normal" fill="#222" textLength="70.6" lengthAdjust="spacingAndGlyphs">Months post-transplant</text><line x1="176.9" y1="60.8" x2="176.9" y2="174.39999999999998" stroke="#111" stroke-width="1.5"/><line x1="176.2" y1="173.7" x2="297" y2="173.7" stroke="#111" stroke-width="1.4"/><line x1="174" y1="63.20" x2="176.5" y2="63.20" stroke="#111" stroke-width="1"/><text class="s" x="171" y="65.19999999999999" font-size="5.6" text-anchor="end" font-weight="normal" fill="#222">1</text><line x1="174" y1="84.58" x2="176.5" y2="84.58" stroke="#111" stroke-width="1"/><text class="s" x="171" y="86.57999999999998" font-size="5.6" text-anchor="end" font-weight="normal" fill="#222">0.8</text><line x1="174" y1="105.96" x2="176.5" y2="105.96" stroke="#111" stroke-width="1"/><text class="s" x="171" y="107.96" font-size="5.6" text-anchor="end" font-weight="normal" fill="#222">0.6</text><line x1="174" y1="127.34" x2="176.5" y2="127.34" stroke="#111" stroke-width="1"/><text class="s" x="171" y="129.33999999999997" font-size="5.6" text-anchor="end" font-weight="normal" fill="#222">0.4</text><line x1="174" y1="148.72" x2="176.5" y2="148.72" stroke="#111" stroke-width="1"/><text class="s" x="171" y="150.72" font-size="5.6" text-anchor="end" font-weight="normal" fill="#222">0.2</text><line x1="174" y1="170.10" x2="176.5" y2="170.10" stroke="#111" stroke-width="1"/><text class="s" x="171" y="172.1" font-size="5.6" text-anchor="end" font-weight="normal" fill="#222">0</text><text class="s" x="166.3" y="171.7" font-size="4.6" text-anchor="end" font-weight="normal" fill="#222">&lt;=</text><line x1="181.60" y1="173.7" x2="181.60" y2="177.29999999999998" stroke="#111" stroke-width="1.1"/><line x1="189.68" y1="173.7" x2="189.68" y2="177.29999999999998" stroke="#111" stroke-width="1.1"/><line x1="197.76" y1="173.7" x2="197.76" y2="177.29999999999998" stroke="#111" stroke-width="1.1"/><line x1="205.84" y1="173.7" x2="205.84" y2="177.29999999999998" stroke="#111" stroke-width="1.1"/><line x1="213.92" y1="173.7" x2="213.92" y2="177.29999999999998" stroke="#111" stroke-width="1.1"/><line x1="222.00" y1="173.7" x2="222.00" y2="177.29999999999998" stroke="#111" stroke-width="1.1"/><line x1="230.08" y1="173.7" x2="230.08" y2="177.29999999999998" stroke="#111" stroke-width="1.1"/><line x1="238.16" y1="173.7" x2="238.16" y2="177.29999999999998" stroke="#111" stroke-width="1.1"/><line x1="246.24" y1="173.7" x2="246.24" y2="177.29999999999998" stroke="#111" stroke-width="1.1"/><line x1="254.32" y1="173.7" x2="254.32" y2="177.29999999999998" stroke="#111" stroke-width="1.1"/><line x1="262.40" y1="173.7" x2="262.40" y2="177.29999999999998" stroke="#111" stroke-width="1.1"/><line x1="270.48" y1="173.7" x2="270.48" y2="177.29999999999998" stroke="#111" stroke-width="1.1"/><line x1="278.56" y1="173.7" x2="278.56" y2="177.29999999999998" stroke="#111" stroke-width="1.1"/><line x1="286.64" y1="173.7" x2="286.64" y2="177.29999999999998" stroke="#111" stroke-width="1.1"/><line x1="294.72" y1="173.7" x2="294.72" y2="177.29999999999998" stroke="#111" stroke-width="1.1"/><polyline points="181.60,63.20 189.68,170.10 197.76,170.10 205.84,170.10 213.92,170.10 222.00,170.10 230.08,170.10 238.16,170.10 246.24,170.10 254.32,170.10 262.40,170.10 270.48,170.10 278.56,170.10 286.64,170.10 294.72,170.10" fill="none" stroke="#b8432c" stroke-width="0.75" opacity="0.7"/><polyline points="189.68,63.20 197.76,154.71 205.84,158.34 213.92,150.64 222.00,155.88 230.08,155.88 238.16,156.31 246.24,155.35 254.32,161.87 262.40,163.79 270.48,158.98 278.56,166.68 286.64,166.25 294.72,164.75" fill="none" stroke="#c98a45" stroke-width="0.75" opacity="0.7"/><polyline points="197.76,63.20 205.84,117.29 213.92,131.08 222.00,128.94 230.08,135.36 238.16,137.07 246.24,134.18 254.32,142.63 262.40,146.26 270.48,144.34 278.56,157.06 286.64,154.71 294.72,151.07" fill="none" stroke="#e0cf62" stroke-width="0.75" opacity="0.7"/><polyline points="205.84,63.20 213.92,101.90 222.00,100.51 230.08,103.82 238.16,105.85 246.24,109.38 254.32,111.84 262.40,116.86 270.48,115.69 278.56,138.03 286.64,134.82 294.72,128.41" fill="none" stroke="#d6e060" stroke-width="0.75" opacity="0.7"/><polyline points="213.92,63.20 222.00,82.12 230.08,83.72 238.16,82.76 246.24,84.69 254.32,97.62 262.40,107.03 270.48,96.55 278.56,135.89 286.64,128.41 294.72,121.99" fill="none" stroke="#c2e15c" stroke-width="0.75" opacity="0.7"/><polyline points="222.00,63.20 230.08,77.74 238.16,76.78 246.24,79.23 254.32,94.63 262.40,102.54 270.48,93.56 278.56,133.75 286.64,126.27 294.72,116.65" fill="none" stroke="#a6da5c" stroke-width="0.75" opacity="0.7"/><polyline points="230.08,63.20 238.16,73.46 246.24,76.03 254.32,96.34 262.40,103.82 270.48,92.06 278.56,134.82 286.64,125.20 294.72,114.51" fill="none" stroke="#86d562" stroke-width="0.75" opacity="0.7"/><polyline points="238.16,63.20 246.24,73.46 254.32,93.13 262.40,101.68 270.48,89.92 278.56,132.69 286.64,124.13 294.72,111.30" fill="none" stroke="#74d070" stroke-width="0.75" opacity="0.7"/><polyline points="246.24,63.20 254.32,84.58 262.40,99.55 270.48,87.79 278.56,131.62 286.64,123.06 294.72,110.24" fill="none" stroke="#9ed6bf" stroke-width="0.75" opacity="0.7"/><polyline points="254.32,63.20 262.40,79.23 270.48,86.72 278.56,127.34 286.64,120.93 294.72,109.17" fill="none" stroke="#a2e0ea" stroke-width="0.75" opacity="0.7"/><polyline points="262.40,63.20 270.48,87.79 278.56,80.84 286.64,76.03 294.72,73.89" fill="none" stroke="#80a6d6" stroke-width="0.75" opacity="0.7"/><polyline points="270.48,63.20 278.56,101.68 286.64,96.34 294.72,86.72" fill="none" stroke="#3d55bd" stroke-width="0.85" opacity="0.9"/><polyline points="278.56,63.20 286.64,68.54 294.72,76.03" fill="none" stroke="#2a3cb5" stroke-width="0.85" opacity="0.9"/><polyline points="286.64,63.20 294.72,69.61" fill="none" stroke="#2230a0" stroke-width="0.85" opacity="0.9"/><polyline points="294.72,63.20" fill="none" stroke="#2c2c88" stroke-width="0.85" opacity="0.9"/><circle cx="181.60" cy="63.20" r="1.4" fill="#b04a2a"/><circle cx="189.68" cy="170.10" r="1.4" fill="#b04a2a"/><circle cx="197.76" cy="170.10" r="1.4" fill="#b04a2a"/><circle cx="205.84" cy="170.10" r="1.4" fill="#b04a2a"/><circle cx="213.92" cy="170.10" r="1.4" fill="#b04a2a"/><circle cx="222.00" cy="170.10" r="1.4" fill="#b04a2a"/><circle cx="230.08" cy="170.10" r="1.4" fill="#b04a2a"/><circle cx="238.16" cy="170.10" r="1.4" fill="#b04a2a"/><circle cx="246.24" cy="170.10" r="1.4" fill="#b04a2a"/><circle cx="254.32" cy="170.10" r="1.4" fill="#b04a2a"/><circle cx="262.40" cy="170.10" r="1.4" fill="#b04a2a"/><circle cx="270.48" cy="170.10" r="1.4" fill="#b04a2a"/><circle cx="278.56" cy="170.10" r="1.4" fill="#b04a2a"/><circle cx="286.64" cy="170.10" r="1.4" fill="#b04a2a"/><circle cx="294.72" cy="170.10" r="1.4" fill="#b04a2a"/><circle cx="189.68" cy="63.20" r="1.4" fill="#c8883e"/><circle cx="197.76" cy="154.71" r="1.4" fill="#c8883e"/><circle cx="205.84" cy="158.34" r="1.4" fill="#c8883e"/><circle cx="213.92" cy="150.64" r="1.4" fill="#c8883e"/><circle cx="222.00" cy="155.88" r="1.4" fill="#c8883e"/><circle cx="230.08" cy="155.88" r="1.4" fill="#c8883e"/><circle cx="238.16" cy="156.31" r="1.4" fill="#c8883e"/><circle cx="246.24" cy="155.35" r="1.4" fill="#c8883e"/><circle cx="254.32" cy="161.87" r="1.4" fill="#c8883e"/><circle cx="262.40" cy="163.79" r="1.4" fill="#c8883e"/><circle cx="270.48" cy="158.98" r="1.4" fill="#c8883e"/><circle cx="278.56" cy="166.68" r="1.4" fill="#c8883e"/><circle cx="286.64" cy="166.25" r="1.4" fill="#c8883e"/><circle cx="294.72" cy="164.75" r="1.4" fill="#c8883e"/><circle cx="197.76" cy="63.20" r="1.4" fill="#d9cf5a"/><circle cx="205.84" cy="117.29" r="1.4" fill="#d9cf5a"/><circle cx="213.92" cy="131.08" r="1.4" fill="#d9cf5a"/><circle cx="222.00" cy="128.94" r="1.4" fill="#d9cf5a"/><circle cx="230.08" cy="135.36" r="1.4" fill="#d9cf5a"/><circle cx="238.16" cy="137.07" r="1.4" fill="#d9cf5a"/><circle cx="246.24" cy="134.18" r="1.4" fill="#d9cf5a"/><circle cx="254.32" cy="142.63" r="1.4" fill="#d9cf5a"/><circle cx="262.40" cy="146.26" r="1.4" fill="#d9cf5a"/><circle cx="270.48" cy="144.34" r="1.4" fill="#d9cf5a"/><circle cx="278.56" cy="157.06" r="1.4" fill="#d9cf5a"/><circle cx="286.64" cy="154.71" r="1.4" fill="#d9cf5a"/><circle cx="294.72" cy="151.07" r="1.4" fill="#d9cf5a"/><circle cx="205.84" cy="63.20" r="1.4" fill="#cfdc55"/><circle cx="213.92" cy="101.90" r="1.4" fill="#cfdc55"/><circle cx="222.00" cy="100.51" r="1.4" fill="#cfdc55"/><circle cx="230.08" cy="103.82" r="1.4" fill="#cfdc55"/><circle cx="238.16" cy="105.85" r="1.4" fill="#cfdc55"/><circle cx="246.24" cy="109.38" r="1.4" fill="#cfdc55"/><circle cx="254.32" cy="111.84" r="1.4" fill="#cfdc55"/><circle cx="262.40" cy="116.86" r="1.4" fill="#cfdc55"/><circle cx="270.48" cy="115.69" r="1.4" fill="#cfdc55"/><circle cx="278.56" cy="138.03" r="1.4" fill="#cfdc55"/><circle cx="286.64" cy="134.82" r="1.4" fill="#cfdc55"/><circle cx="294.72" cy="128.41" r="1.4" fill="#cfdc55"/><circle cx="213.92" cy="63.20" r="1.4" fill="#b9dc55"/><circle cx="222.00" cy="82.12" r="1.4" fill="#b9dc55"/><circle cx="230.08" cy="83.72" r="1.4" fill="#b9dc55"/><circle cx="238.16" cy="82.76" r="1.4" fill="#b9dc55"/><circle cx="246.24" cy="84.69" r="1.4" fill="#b9dc55"/><circle cx="254.32" cy="97.62" r="1.4" fill="#b9dc55"/><circle cx="262.40" cy="107.03" r="1.4" fill="#b9dc55"/><circle cx="270.48" cy="96.55" r="1.4" fill="#b9dc55"/><circle cx="278.56" cy="135.89" r="1.4" fill="#b9dc55"/><circle cx="286.64" cy="128.41" r="1.4" fill="#b9dc55"/><circle cx="294.72" cy="121.99" r="1.4" fill="#b9dc55"/><circle cx="222.00" cy="63.20" r="1.4" fill="#9bd555"/><circle cx="230.08" cy="77.74" r="1.4" fill="#9bd555"/><circle cx="238.16" cy="76.78" r="1.4" fill="#9bd555"/><circle cx="246.24" cy="79.23" r="1.4" fill="#9bd555"/><circle cx="254.32" cy="94.63" r="1.4" fill="#9bd555"/><circle cx="262.40" cy="102.54" r="1.4" fill="#9bd555"/><circle cx="270.48" cy="93.56" r="1.4" fill="#9bd555"/><circle cx="278.56" cy="133.75" r="1.4" fill="#9bd555"/><circle cx="286.64" cy="126.27" r="1.4" fill="#9bd555"/><circle cx="294.72" cy="116.65" r="1.4" fill="#9bd555"/><circle cx="230.08" cy="63.20" r="1.4" fill="#7fd05a"/><circle cx="238.16" cy="73.46" r="1.4" fill="#7fd05a"/><circle cx="246.24" cy="76.03" r="1.4" fill="#7fd05a"/><circle cx="254.32" cy="96.34" r="1.4" fill="#7fd05a"/><circle cx="262.40" cy="103.82" r="1.4" fill="#7fd05a"/><circle cx="270.48" cy="92.06" r="1.4" fill="#7fd05a"/><circle cx="278.56" cy="134.82" r="1.4" fill="#7fd05a"/><circle cx="286.64" cy="125.20" r="1.4" fill="#7fd05a"/><circle cx="294.72" cy="114.51" r="1.4" fill="#7fd05a"/><circle cx="238.16" cy="63.20" r="1.4" fill="#6cc866"/><circle cx="246.24" cy="73.46" r="1.4" fill="#6cc866"/><circle cx="254.32" cy="93.13" r="1.4" fill="#6cc866"/><circle cx="262.40" cy="101.68" r="1.4" fill="#6cc866"/><circle cx="270.48" cy="89.92" r="1.4" fill="#6cc866"/><circle cx="278.56" cy="132.69" r="1.4" fill="#6cc866"/><circle cx="286.64" cy="124.13" r="1.4" fill="#6cc866"/><circle cx="294.72" cy="111.30" r="1.4" fill="#6cc866"/><circle cx="246.24" cy="63.20" r="1.4" fill="#95d0b8"/><circle cx="254.32" cy="84.58" r="1.4" fill="#95d0b8"/><circle cx="262.40" cy="99.55" r="1.4" fill="#95d0b8"/><circle cx="270.48" cy="87.79" r="1.4" fill="#95d0b8"/><circle cx="278.56" cy="131.62" r="1.4" fill="#95d0b8"/><circle cx="286.64" cy="123.06" r="1.4" fill="#95d0b8"/><circle cx="294.72" cy="110.24" r="1.4" fill="#95d0b8"/><circle cx="254.32" cy="63.20" r="1.4" fill="#9adbe6"/><circle cx="262.40" cy="79.23" r="1.4" fill="#9adbe6"/><circle cx="270.48" cy="86.72" r="1.4" fill="#9adbe6"/><circle cx="278.56" cy="127.34" r="1.4" fill="#9adbe6"/><circle cx="286.64" cy="120.93" r="1.4" fill="#9adbe6"/><circle cx="294.72" cy="109.17" r="1.4" fill="#9adbe6"/><circle cx="262.40" cy="63.20" r="1.4" fill="#7aa0d2"/><circle cx="270.48" cy="87.79" r="1.4" fill="#7aa0d2"/><circle cx="278.56" cy="80.84" r="1.4" fill="#7aa0d2"/><circle cx="286.64" cy="76.03" r="1.4" fill="#7aa0d2"/><circle cx="294.72" cy="73.89" r="1.4" fill="#7aa0d2"/><circle cx="270.48" cy="63.20" r="1.4" fill="#3550b8"/><circle cx="278.56" cy="101.68" r="1.4" fill="#3550b8"/><circle cx="286.64" cy="96.34" r="1.4" fill="#3550b8"/><circle cx="294.72" cy="86.72" r="1.4" fill="#3550b8"/><circle cx="278.56" cy="63.20" r="1.4" fill="#2438b0"/><circle cx="286.64" cy="68.54" r="1.4" fill="#2438b0"/><circle cx="294.72" cy="76.03" r="1.4" fill="#2438b0"/><circle cx="286.64" cy="63.20" r="1.4" fill="#1c2a9c"/><circle cx="294.72" cy="69.61" r="1.4" fill="#1c2a9c"/><circle cx="294.72" cy="63.20" r="1.4" fill="#28287f"/><text x="237.05" y="52.4" font-size="8.1" text-anchor="middle" font-weight="normal" fill="#222" textLength="77.5" lengthAdjust="spacingAndGlyphs">ZH33 T autocorrelation</text><line x1="176.9" y1="223.5" x2="176.9" y2="337.4" stroke="#111" stroke-width="1.5"/><line x1="176.2" y1="336.7" x2="297" y2="336.7" stroke="#111" stroke-width="1.4"/><line x1="174" y1="227.20" x2="176.5" y2="227.20" stroke="#111" stroke-width="1"/><text class="s" x="171" y="229.2" font-size="5.6" text-anchor="end" font-weight="normal" fill="#222">1</text><line x1="174" y1="248.36" x2="176.5" y2="248.36" stroke="#111" stroke-width="1"/><text class="s" x="171" y="250.36" font-size="5.6" text-anchor="end" font-weight="normal" fill="#222">0.8</text><line x1="174" y1="269.52" x2="176.5" y2="269.52" stroke="#111" stroke-width="1"/><text class="s" x="171" y="271.52" font-size="5.6" text-anchor="end" font-weight="normal" fill="#222">0.6</text><line x1="174" y1="290.68" x2="176.5" y2="290.68" stroke="#111" stroke-width="1"/><text class="s" x="171" y="292.68" font-size="5.6" text-anchor="end" font-weight="normal" fill="#222">0.4</text><line x1="174" y1="311.84" x2="176.5" y2="311.84" stroke="#111" stroke-width="1"/><text class="s" x="171" y="313.84" font-size="5.6" text-anchor="end" font-weight="normal" fill="#222">0.2</text><line x1="174" y1="333.00" x2="176.5" y2="333.00" stroke="#111" stroke-width="1"/><text class="s" x="171" y="335.0" font-size="5.6" text-anchor="end" font-weight="normal" fill="#222">0</text><text class="s" x="166.3" y="334.6" font-size="4.6" text-anchor="end" font-weight="normal" fill="#222">&lt;=</text><line x1="181.60" y1="336.7" x2="181.60" y2="340.3" stroke="#111" stroke-width="1.1"/><line x1="190.89" y1="336.7" x2="190.89" y2="340.3" stroke="#111" stroke-width="1.1"/><line x1="200.18" y1="336.7" x2="200.18" y2="340.3" stroke="#111" stroke-width="1.1"/><line x1="209.47" y1="336.7" x2="209.47" y2="340.3" stroke="#111" stroke-width="1.1"/><line x1="218.76" y1="336.7" x2="218.76" y2="340.3" stroke="#111" stroke-width="1.1"/><line x1="228.05" y1="336.7" x2="228.05" y2="340.3" stroke="#111" stroke-width="1.1"/><line x1="237.34" y1="336.7" x2="237.34" y2="340.3" stroke="#111" stroke-width="1.1"/><line x1="246.63" y1="336.7" x2="246.63" y2="340.3" stroke="#111" stroke-width="1.1"/><line x1="255.92" y1="336.7" x2="255.92" y2="340.3" stroke="#111" stroke-width="1.1"/><line x1="265.21" y1="336.7" x2="265.21" y2="340.3" stroke="#111" stroke-width="1.1"/><line x1="274.50" y1="336.7" x2="274.50" y2="340.3" stroke="#111" stroke-width="1.1"/><line x1="283.79" y1="336.7" x2="283.79" y2="340.3" stroke="#111" stroke-width="1.1"/><line x1="293.08" y1="336.7" x2="293.08" y2="340.3" stroke="#111" stroke-width="1.1"/><polyline points="181.40,227.20 189.42,333.00 197.44,333.00 205.46,333.00 213.48,333.00 221.50,333.00 229.52,333.00 237.54,333.00 245.56,333.00 253.58,333.00 261.60,333.00 269.62,333.00 277.64,333.00 285.66,333.00 293.68,333.00" fill="none" stroke="#b8432c" stroke-width="0.75" opacity="0.7"/><polyline points="189.42,227.20 197.44,268.78 205.46,275.02 213.48,289.20 221.50,294.91 229.52,300.20 237.54,300.52 245.56,303.38 253.58,306.23 261.60,304.96 269.62,305.49 277.64,308.67 285.66,312.90 293.68,308.67" fill="none" stroke="#c98a45" stroke-width="0.75" opacity="0.7"/><polyline points="197.44,227.20 205.46,255.55 213.48,269.52 221.50,271.42 229.52,278.41 237.54,278.41 245.56,280.31 253.58,284.86 261.60,283.70 269.62,284.86 277.64,290.15 285.66,297.66 293.68,290.15" fill="none" stroke="#e0cf62" stroke-width="0.75" opacity="0.7"/><polyline points="205.46,227.20 213.48,251.32 221.50,257.56 229.52,261.58 237.54,263.60 245.56,267.09 253.58,272.38 261.60,271.42 269.62,273.75 277.64,281.37 285.66,288.25 293.68,282.32" fill="none" stroke="#d6e060" stroke-width="0.75" opacity="0.7"/><polyline points="213.48,227.20 221.50,242.12 229.52,245.29 237.54,247.73 245.56,252.06 253.58,260.53 261.60,255.98 269.62,257.56 277.64,268.46 285.66,277.35 293.68,268.99" fill="none" stroke="#c2e15c" stroke-width="0.75" opacity="0.7"/><polyline points="221.50,227.20 229.52,239.37 237.54,239.37 245.56,242.01 253.58,246.67 261.60,243.81 269.62,243.81 277.64,252.59 285.66,263.49 293.68,258.52" fill="none" stroke="#a6da5c" stroke-width="0.75" opacity="0.7"/><polyline points="229.52,227.20 237.54,235.45 245.56,237.78 253.58,243.39 261.60,241.80 269.62,241.80 277.64,248.68 285.66,261.58 293.68,254.71" fill="none" stroke="#86d562" stroke-width="0.75" opacity="0.7"/><polyline points="237.54,227.20 245.56,234.82 253.58,240.74 261.60,239.37 269.62,241.17 277.64,247.73 285.66,259.57 293.68,251.53" fill="none" stroke="#74d070" stroke-width="0.75" opacity="0.7"/><polyline points="245.56,227.20 253.58,239.37 261.60,235.66 269.62,237.78 277.64,246.24 285.66,257.88 293.68,248.36" fill="none" stroke="#9ed6bf" stroke-width="0.75" opacity="0.7"/><polyline points="253.58,227.20 261.60,233.55 269.62,233.55 277.64,237.78 285.66,255.77 293.68,244.13" fill="none" stroke="#a2e0ea" stroke-width="0.75" opacity="0.7"/><polyline points="261.60,227.20 269.62,232.49 277.64,236.72 285.66,254.71 293.68,242.01" fill="none" stroke="#80a6d6" stroke-width="0.75" opacity="0.7"/><polyline points="269.62,227.20 277.64,235.88 285.66,251.53 293.68,239.37" fill="none" stroke="#3d55bd" stroke-width="0.85" opacity="0.9"/><polyline points="277.64,227.20 285.66,256.82 293.68,232.91" fill="none" stroke="#2a3cb5" stroke-width="0.85" opacity="0.9"/><polyline points="285.66,227.20 293.68,249.42" fill="none" stroke="#2230a0" stroke-width="0.85" opacity="0.9"/><polyline points="293.68,227.20" fill="none" stroke="#2c2c88" stroke-width="0.85" opacity="0.9"/><circle cx="181.40" cy="227.20" r="1.4" fill="#b04a2a"/><circle cx="189.42" cy="333.00" r="1.4" fill="#b04a2a"/><circle cx="197.44" cy="333.00" r="1.4" fill="#b04a2a"/><circle cx="205.46" cy="333.00" r="1.4" fill="#b04a2a"/><circle cx="213.48" cy="333.00" r="1.4" fill="#b04a2a"/><circle cx="221.50" cy="333.00" r="1.4" fill="#b04a2a"/><circle cx="229.52" cy="333.00" r="1.4" fill="#b04a2a"/><circle cx="237.54" cy="333.00" r="1.4" fill="#b04a2a"/><circle cx="245.56" cy="333.00" r="1.4" fill="#b04a2a"/><circle cx="253.58" cy="333.00" r="1.4" fill="#b04a2a"/><circle cx="261.60" cy="333.00" r="1.4" fill="#b04a2a"/><circle cx="269.62" cy="333.00" r="1.4" fill="#b04a2a"/><circle cx="277.64" cy="333.00" r="1.4" fill="#b04a2a"/><circle cx="285.66" cy="333.00" r="1.4" fill="#b04a2a"/><circle cx="293.68" cy="333.00" r="1.4" fill="#b04a2a"/><circle cx="189.42" cy="227.20" r="1.4" fill="#c8883e"/><circle cx="197.44" cy="268.78" r="1.4" fill="#c8883e"/><circle cx="205.46" cy="275.02" r="1.4" fill="#c8883e"/><circle cx="213.48" cy="289.20" r="1.4" fill="#c8883e"/><circle cx="221.50" cy="294.91" r="1.4" fill="#c8883e"/><circle cx="229.52" cy="300.20" r="1.4" fill="#c8883e"/><circle cx="237.54" cy="300.52" r="1.4" fill="#c8883e"/><circle cx="245.56" cy="303.38" r="1.4" fill="#c8883e"/><circle cx="253.58" cy="306.23" r="1.4" fill="#c8883e"/><circle cx="261.60" cy="304.96" r="1.4" fill="#c8883e"/><circle cx="269.62" cy="305.49" r="1.4" fill="#c8883e"/><circle cx="277.64" cy="308.67" r="1.4" fill="#c8883e"/><circle cx="285.66" cy="312.90" r="1.4" fill="#c8883e"/><circle cx="293.68" cy="308.67" r="1.4" fill="#c8883e"/><circle cx="197.44" cy="227.20" r="1.4" fill="#d9cf5a"/><circle cx="205.46" cy="255.55" r="1.4" fill="#d9cf5a"/><circle cx="213.48" cy="269.52" r="1.4" fill="#d9cf5a"/><circle cx="221.50" cy="271.42" r="1.4" fill="#d9cf5a"/><circle cx="229.52" cy="278.41" r="1.4" fill="#d9cf5a"/><circle cx="237.54" cy="278.41" r="1.4" fill="#d9cf5a"/><circle cx="245.56" cy="280.31" r="1.4" fill="#d9cf5a"/><circle cx="253.58" cy="284.86" r="1.4" fill="#d9cf5a"/><circle cx="261.60" cy="283.70" r="1.4" fill="#d9cf5a"/><circle cx="269.62" cy="284.86" r="1.4" fill="#d9cf5a"/><circle cx="277.64" cy="290.15" r="1.4" fill="#d9cf5a"/><circle cx="285.66" cy="297.66" r="1.4" fill="#d9cf5a"/><circle cx="293.68" cy="290.15" r="1.4" fill="#d9cf5a"/><circle cx="205.46" cy="227.20" r="1.4" fill="#cfdc55"/><circle cx="213.48" cy="251.32" r="1.4" fill="#cfdc55"/><circle cx="221.50" cy="257.56" r="1.4" fill="#cfdc55"/><circle cx="229.52" cy="261.58" r="1.4" fill="#cfdc55"/><circle cx="237.54" cy="263.60" r="1.4" fill="#cfdc55"/><circle cx="245.56" cy="267.09" r="1.4" fill="#cfdc55"/><circle cx="253.58" cy="272.38" r="1.4" fill="#cfdc55"/><circle cx="261.60" cy="271.42" r="1.4" fill="#cfdc55"/><circle cx="269.62" cy="273.75" r="1.4" fill="#cfdc55"/><circle cx="277.64" cy="281.37" r="1.4" fill="#cfdc55"/><circle cx="285.66" cy="288.25" r="1.4" fill="#cfdc55"/><circle cx="293.68" cy="282.32" r="1.4" fill="#cfdc55"/><circle cx="213.48" cy="227.20" r="1.4" fill="#b9dc55"/><circle cx="221.50" cy="242.12" r="1.4" fill="#b9dc55"/><circle cx="229.52" cy="245.29" r="1.4" fill="#b9dc55"/><circle cx="237.54" cy="247.73" r="1.4" fill="#b9dc55"/><circle cx="245.56" cy="252.06" r="1.4" fill="#b9dc55"/><circle cx="253.58" cy="260.53" r="1.4" fill="#b9dc55"/><circle cx="261.60" cy="255.98" r="1.4" fill="#b9dc55"/><circle cx="269.62" cy="257.56" r="1.4" fill="#b9dc55"/><circle cx="277.64" cy="268.46" r="1.4" fill="#b9dc55"/><circle cx="285.66" cy="277.35" r="1.4" fill="#b9dc55"/><circle cx="293.68" cy="268.99" r="1.4" fill="#b9dc55"/><circle cx="221.50" cy="227.20" r="1.4" fill="#9bd555"/><circle cx="229.52" cy="239.37" r="1.4" fill="#9bd555"/><circle cx="237.54" cy="239.37" r="1.4" fill="#9bd555"/><circle cx="245.56" cy="242.01" r="1.4" fill="#9bd555"/><circle cx="253.58" cy="246.67" r="1.4" fill="#9bd555"/><circle cx="261.60" cy="243.81" r="1.4" fill="#9bd555"/><circle cx="269.62" cy="243.81" r="1.4" fill="#9bd555"/><circle cx="277.64" cy="252.59" r="1.4" fill="#9bd555"/><circle cx="285.66" cy="263.49" r="1.4" fill="#9bd555"/><circle cx="293.68" cy="258.52" r="1.4" fill="#9bd555"/><circle cx="229.52" cy="227.20" r="1.4" fill="#7fd05a"/><circle cx="237.54" cy="235.45" r="1.4" fill="#7fd05a"/><circle cx="245.56" cy="237.78" r="1.4" fill="#7fd05a"/><circle cx="253.58" cy="243.39" r="1.4" fill="#7fd05a"/><circle cx="261.60" cy="241.80" r="1.4" fill="#7fd05a"/><circle cx="269.62" cy="241.80" r="1.4" fill="#7fd05a"/><circle cx="277.64" cy="248.68" r="1.4" fill="#7fd05a"/><circle cx="285.66" cy="261.58" r="1.4" fill="#7fd05a"/><circle cx="293.68" cy="254.71" r="1.4" fill="#7fd05a"/><circle cx="237.54" cy="227.20" r="1.4" fill="#6cc866"/><circle cx="245.56" cy="234.82" r="1.4" fill="#6cc866"/><circle cx="253.58" cy="240.74" r="1.4" fill="#6cc866"/><circle cx="261.60" cy="239.37" r="1.4" fill="#6cc866"/><circle cx="269.62" cy="241.17" r="1.4" fill="#6cc866"/><circle cx="277.64" cy="247.73" r="1.4" fill="#6cc866"/><circle cx="285.66" cy="259.57" r="1.4" fill="#6cc866"/><circle cx="293.68" cy="251.53" r="1.4" fill="#6cc866"/><circle cx="245.56" cy="227.20" r="1.4" fill="#95d0b8"/><circle cx="253.58" cy="239.37" r="1.4" fill="#95d0b8"/><circle cx="261.60" cy="235.66" r="1.4" fill="#95d0b8"/><circle cx="269.62" cy="237.78" r="1.4" fill="#95d0b8"/><circle cx="277.64" cy="246.24" r="1.4" fill="#95d0b8"/><circle cx="285.66" cy="257.88" r="1.4" fill="#95d0b8"/><circle cx="293.68" cy="248.36" r="1.4" fill="#95d0b8"/><circle cx="253.58" cy="227.20" r="1.4" fill="#9adbe6"/><circle cx="261.60" cy="233.55" r="1.4" fill="#9adbe6"/><circle cx="269.62" cy="233.55" r="1.4" fill="#9adbe6"/><circle cx="277.64" cy="237.78" r="1.4" fill="#9adbe6"/><circle cx="285.66" cy="255.77" r="1.4" fill="#9adbe6"/><circle cx="293.68" cy="244.13" r="1.4" fill="#9adbe6"/><circle cx="261.60" cy="227.20" r="1.4" fill="#7aa0d2"/><circle cx="269.62" cy="232.49" r="1.4" fill="#7aa0d2"/><circle cx="277.64" cy="236.72" r="1.4" fill="#7aa0d2"/><circle cx="285.66" cy="254.71" r="1.4" fill="#7aa0d2"/><circle cx="293.68" cy="242.01" r="1.4" fill="#7aa0d2"/><circle cx="269.62" cy="227.20" r="1.4" fill="#3550b8"/><circle cx="277.64" cy="235.88" r="1.4" fill="#3550b8"/><circle cx="285.66" cy="251.53" r="1.4" fill="#3550b8"/><circle cx="293.68" cy="239.37" r="1.4" fill="#3550b8"/><circle cx="277.64" cy="227.20" r="1.4" fill="#2438b0"/><circle cx="285.66" cy="256.82" r="1.4" fill="#2438b0"/><circle cx="293.68" cy="232.91" r="1.4" fill="#2438b0"/><circle cx="285.66" cy="227.20" r="1.4" fill="#1c2a9c"/><circle cx="293.68" cy="249.42" r="1.4" fill="#1c2a9c"/><circle cx="293.68" cy="227.20" r="1.4" fill="#28287f"/><text x="237.05" y="215.4" font-size="8.1" text-anchor="middle" font-weight="normal" fill="#222" textLength="77.5" lengthAdjust="spacingAndGlyphs">ZH33 B autocorrelation</text><text class="k" transform="translate(183.6,180.6) rotate(-90)" font-size="5.6" text-anchor="end" font-weight="normal" fill="#222" textLength="2.61" lengthAdjust="spacingAndGlyphs">1</text><text class="k" transform="translate(183.4,344.3) rotate(-90)" font-size="5.6" text-anchor="end" font-weight="normal" fill="#222" textLength="2.61" lengthAdjust="spacingAndGlyphs">1</text><text class="k" transform="translate(191.68,180.6) rotate(-90)" font-size="5.6" text-anchor="end" font-weight="normal" fill="#222" textLength="2.61" lengthAdjust="spacingAndGlyphs">2</text><text class="k" transform="translate(191.4,344.3) rotate(-90)" font-size="5.6" text-anchor="end" font-weight="normal" fill="#222" textLength="2.61" lengthAdjust="spacingAndGlyphs">2</text><text class="k" transform="translate(199.76,180.6) rotate(-90)" font-size="5.6" text-anchor="end" font-weight="normal" fill="#222" textLength="2.61" lengthAdjust="spacingAndGlyphs">3</text><text class="k" transform="translate(199.4,344.3) rotate(-90)" font-size="5.6" text-anchor="end" font-weight="normal" fill="#222" textLength="2.61" lengthAdjust="spacingAndGlyphs">3</text><text class="k" transform="translate(207.84,180.6) rotate(-90)" font-size="5.6" text-anchor="end" font-weight="normal" fill="#222" textLength="6.53" lengthAdjust="spacingAndGlyphs">4.5</text><text class="k" transform="translate(207.4,344.3) rotate(-90)" font-size="5.6" text-anchor="end" font-weight="normal" fill="#222" textLength="6.53" lengthAdjust="spacingAndGlyphs">4.5</text><text class="k" transform="translate(215.92,180.6) rotate(-90)" font-size="5.6" text-anchor="end" font-weight="normal" fill="#222" textLength="6.53" lengthAdjust="spacingAndGlyphs">6.5</text><text class="k" transform="translate(215.4,344.3) rotate(-90)" font-size="5.6" text-anchor="end" font-weight="normal" fill="#222" textLength="6.53" lengthAdjust="spacingAndGlyphs">6.5</text><text class="k" transform="translate(224.0,180.6) rotate(-90)" font-size="5.6" text-anchor="end" font-weight="normal" fill="#222" textLength="6.53" lengthAdjust="spacingAndGlyphs">9.5</text><text class="k" transform="translate(223.4,344.3) rotate(-90)" font-size="5.6" text-anchor="end" font-weight="normal" fill="#222" textLength="6.53" lengthAdjust="spacingAndGlyphs">9.5</text><text class="k" transform="translate(232.07999999999998,180.6) rotate(-90)" font-size="5.6" text-anchor="end" font-weight="normal" fill="#222" textLength="5.23" lengthAdjust="spacingAndGlyphs">12</text><text class="k" transform="translate(231.4,344.3) rotate(-90)" font-size="5.6" text-anchor="end" font-weight="normal" fill="#222" textLength="5.23" lengthAdjust="spacingAndGlyphs">12</text><text class="k" transform="translate(240.16,180.6) rotate(-90)" font-size="5.6" text-anchor="end" font-weight="normal" fill="#222" textLength="5.23" lengthAdjust="spacingAndGlyphs">14</text><text class="k" transform="translate(239.4,344.3) rotate(-90)" font-size="5.6" text-anchor="end" font-weight="normal" fill="#222" textLength="5.23" lengthAdjust="spacingAndGlyphs">14</text><text class="k" transform="translate(248.24,180.6) rotate(-90)" font-size="5.6" text-anchor="end" font-weight="normal" fill="#222" textLength="5.23" lengthAdjust="spacingAndGlyphs">21</text><text class="k" transform="translate(247.4,344.3) rotate(-90)" font-size="5.6" text-anchor="end" font-weight="normal" fill="#222" textLength="5.23" lengthAdjust="spacingAndGlyphs">21</text><text class="k" transform="translate(256.32,180.6) rotate(-90)" font-size="5.6" text-anchor="end" font-weight="normal" fill="#222" textLength="5.23" lengthAdjust="spacingAndGlyphs">26</text><text class="k" transform="translate(255.4,344.3) rotate(-90)" font-size="5.6" text-anchor="end" font-weight="normal" fill="#222" textLength="5.23" lengthAdjust="spacingAndGlyphs">26</text><text class="k" transform="translate(264.4,180.6) rotate(-90)" font-size="5.6" text-anchor="end" font-weight="normal" fill="#222" textLength="5.23" lengthAdjust="spacingAndGlyphs">30</text><text class="k" transform="translate(263.4,344.3) rotate(-90)" font-size="5.6" text-anchor="end" font-weight="normal" fill="#222" textLength="5.23" lengthAdjust="spacingAndGlyphs">30</text><text class="k" transform="translate(272.48,180.6) rotate(-90)" font-size="5.6" text-anchor="end" font-weight="normal" fill="#222" textLength="5.23" lengthAdjust="spacingAndGlyphs">38</text><text class="k" transform="translate(271.4,344.3) rotate(-90)" font-size="5.6" text-anchor="end" font-weight="normal" fill="#222" textLength="5.23" lengthAdjust="spacingAndGlyphs">38</text><text class="k" transform="translate(280.56,180.6) rotate(-90)" font-size="5.6" text-anchor="end" font-weight="normal" fill="#222" textLength="5.23" lengthAdjust="spacingAndGlyphs">43</text><text class="k" transform="translate(279.4,344.3) rotate(-90)" font-size="5.6" text-anchor="end" font-weight="normal" fill="#222" textLength="5.23" lengthAdjust="spacingAndGlyphs">43</text><text class="k" transform="translate(288.64,180.6) rotate(-90)" font-size="5.6" text-anchor="end" font-weight="normal" fill="#222" textLength="5.23" lengthAdjust="spacingAndGlyphs">46</text><text class="k" transform="translate(287.4,344.3) rotate(-90)" font-size="5.6" text-anchor="end" font-weight="normal" fill="#222" textLength="5.23" lengthAdjust="spacingAndGlyphs">46</text><text class="k" transform="translate(296.72,180.6) rotate(-90)" font-size="5.6" text-anchor="end" font-weight="normal" fill="#222" textLength="5.23" lengthAdjust="spacingAndGlyphs">49</text><text class="k" transform="translate(295.4,344.3) rotate(-90)" font-size="5.6" text-anchor="end" font-weight="normal" fill="#222" textLength="5.23" lengthAdjust="spacingAndGlyphs">49</text><text transform="translate(155,117.45) rotate(-90)" font-size="7.6" text-anchor="middle" font-weight="normal" fill="#222" textLength="58.9" lengthAdjust="spacingAndGlyphs">Pearson correlation</text><text transform="translate(310,114.4) rotate(-90)" font-size="8.4" text-anchor="middle" font-weight="normal" fill="#222" textLength="71.6" lengthAdjust="spacingAndGlyphs">Cumulative clone size</text><text transform="translate(155,279.65) rotate(-90)" font-size="7.6" text-anchor="middle" font-weight="normal" fill="#222" textLength="58.9" lengthAdjust="spacingAndGlyphs">Pearson correlation</text><text transform="translate(310,277.4) rotate(-90)" font-size="8.4" text-anchor="middle" font-weight="normal" fill="#222" textLength="71.6" lengthAdjust="spacingAndGlyphs">Cumulative clone size</text><text x="236.9" y="197.8" font-size="8.4" text-anchor="middle" font-weight="normal" fill="#222" textLength="70" lengthAdjust="spacingAndGlyphs">Months post-transplant</text><text x="236.9" y="360.8" font-size="8.4" text-anchor="middle" font-weight="normal" fill="#222" textLength="70" lengthAdjust="spacingAndGlyphs">Months post-transplant</text><line x1="329" y1="60.6" x2="329" y2="174.6" stroke="#111" stroke-width="1.5"/><line x1="328.3" y1="173.9" x2="458.6" y2="173.9" stroke="#111" stroke-width="1.4"/><line x1="326" y1="63.20" x2="328.5" y2="63.20" stroke="#111" stroke-width="1"/><text class="s" x="323" y="65.1" font-size="5.2" text-anchor="end" font-weight="normal" fill="#222">1.0</text><line x1="326" y1="84.58" x2="328.5" y2="84.58" stroke="#111" stroke-width="1"/><text class="s" x="323" y="86.47999999999999" font-size="5.2" text-anchor="end" font-weight="normal" fill="#222">0.8</text><line x1="326" y1="105.96" x2="328.5" y2="105.96" stroke="#111" stroke-width="1"/><text class="s" x="323" y="107.86" font-size="5.2" text-anchor="end" font-weight="normal" fill="#222">0.6</text><line x1="326" y1="127.34" x2="328.5" y2="127.34" stroke="#111" stroke-width="1"/><text class="s" x="323" y="129.23999999999998" font-size="5.2" text-anchor="end" font-weight="normal" fill="#222">0.4</text><line x1="326" y1="148.72" x2="328.5" y2="148.72" stroke="#111" stroke-width="1"/><text class="s" x="323" y="150.62" font-size="5.2" text-anchor="end" font-weight="normal" fill="#222">0.2</text><line x1="326" y1="170.10" x2="328.5" y2="170.10" stroke="#111" stroke-width="1"/><text class="s" x="323" y="172.0" font-size="5.2" text-anchor="end" font-weight="normal" fill="#222">0.0</text><line x1="333.50" y1="173.9" x2="333.50" y2="176.4" stroke="#111" stroke-width="0.9"/><text class="s" x="333.5" y="185" font-size="5.2" text-anchor="middle" font-weight="normal" fill="#222">0</text><line x1="356.26" y1="173.9" x2="356.26" y2="176.4" stroke="#111" stroke-width="0.9"/><text class="s" x="356.26" y="185" font-size="5.2" text-anchor="middle" font-weight="normal" fill="#222">500</text><line x1="379.02" y1="173.9" x2="379.02" y2="176.4" stroke="#111" stroke-width="0.9"/><text class="s" x="379.02" y="185" font-size="5.2" text-anchor="middle" font-weight="normal" fill="#222">1000</text><line x1="401.78" y1="173.9" x2="401.78" y2="176.4" stroke="#111" stroke-width="0.9"/><text class="s" x="401.78" y="185" font-size="5.2" text-anchor="middle" font-weight="normal" fill="#222">1500</text><line x1="424.54" y1="173.9" x2="424.54" y2="176.4" stroke="#111" stroke-width="0.9"/><text class="s" x="424.53999999999996" y="185" font-size="5.2" text-anchor="middle" font-weight="normal" fill="#222">2000</text><line x1="447.30" y1="173.9" x2="447.30" y2="176.4" stroke="#111" stroke-width="0.9"/><text class="s" x="447.3" y="185" font-size="5.2" text-anchor="middle" font-weight="normal" fill="#222">2500</text><polyline points="333.50,170.10 335.50,134.82 337.92,105.96 339.78,84.58 341.78,63.20 448.89,63.20" fill="none" stroke="#c4532d" stroke-width="1.6" stroke-linejoin="round" opacity="0.95"/><polyline points="342.15,170.10 342.79,166.04 344.20,157.27 345.79,150.22 348.52,141.77 351.71,134.40 355.35,127.34 359.58,120.61 364.45,113.44 369.42,106.82 373.10,100.61 376.38,94.95 378.38,92.49 385.30,87.57 393.18,84.58 399.87,82.23 409.88,79.77 412.89,77.74 419.81,74.96 429.68,67.90 431.69,66.94 440.11,66.41 447.30,65.34 452.99,63.20" fill="none" stroke="#cc8a3a" stroke-width="1.5" stroke-linejoin="round" opacity="0.95"/><polyline points="342.60,167.96 344.79,164.01 376.88,158.55 378.29,157.70 380.29,146.26 383.30,132.47 386.30,123.06 389.22,116.65 391.22,112.37 393.40,105.96 398.68,95.48 400.00,94.20 409.88,88.75 419.81,83.83 429.68,74.96 439.61,70.90 447.30,67.48 452.99,63.20" fill="none" stroke="#dccf4c" stroke-width="1.5" stroke-linejoin="round" opacity="0.95"/><polyline points="342.60,167.03 343.97,166.79 345.34,166.64 346.70,166.49 348.07,166.33 349.43,166.18 350.80,166.03 352.16,165.88 353.53,165.73 354.89,165.58 356.26,165.43 357.63,165.28 358.99,165.13 360.36,164.98 361.72,164.83 363.09,164.68 364.45,164.52 365.82,164.37 367.18,164.22 368.55,164.07 369.92,163.92 371.28,163.77 372.65,163.62 374.01,163.47 375.38,163.32 376.74,163.17 378.11,161.02 379.48,158.65 380.84,157.37 382.21,156.82 383.57,156.27 384.94,155.72 386.30,155.17 387.67,154.62 389.03,154.07 390.40,153.52 391.77,152.97 393.13,152.42 394.50,151.87 395.86,151.06 396.59,150.35 397.23,143.38 397.59,127.02 400.78,112.27 408.11,101.79 416.48,99.55 419.81,97.94 427.73,89.71 434.69,81.80 440.11,75.81 447.30,69.61 452.99,63.20" fill="none" stroke="#cde24a" stroke-width="1.5" stroke-linejoin="round" opacity="0.95"/><polyline points="342.60,167.27 343.51,167.11 344.42,166.99 345.34,166.89 346.25,166.79 347.16,166.69 348.07,166.59 348.98,166.49 349.89,166.39 350.80,166.29 351.71,166.19 352.62,166.09 353.53,166.00 354.44,165.90 355.35,165.80 356.26,165.70 357.17,165.60 358.08,165.51 358.99,165.41 359.90,165.32 360.81,165.22 361.72,165.12 362.63,165.03 363.54,164.93 364.45,164.84 365.36,164.74 366.27,164.64 367.18,164.55 368.10,164.45 369.01,164.35 369.92,164.26 370.83,164.16 371.74,164.07 372.65,163.97 373.56,163.87 374.47,163.78 375.38,163.68 376.29,163.59 377.20,162.86 378.11,161.50 379.02,160.07 379.93,158.98 380.84,158.22 381.75,157.89 382.66,157.55 383.57,157.22 384.48,156.89 385.39,156.56 386.30,156.22 387.21,155.89 388.12,155.56 389.03,155.23 389.94,154.89 390.86,154.56 391.77,154.23 392.68,153.90 393.59,153.56 394.50,153.23 395.41,152.70 396.32,151.97 397.23,151.06 398.14,150.30 399.05,149.76 399.96,149.45 400.87,149.13 401.78,148.82 402.69,148.51 403.60,148.20 404.51,147.89 405.42,147.58 406.33,147.27 407.24,146.95 408.15,146.62 409.06,146.12 409.97,145.41 410.88,138.04 411.79,124.58 412.70,119.95 413.62,116.27 414.53,112.42 415.44,110.73 416.35,109.78 417.26,108.73 418.17,107.45 419.08,106.33 419.99,105.33 420.90,103.52 421.81,101.97 422.72,101.03 423.63,99.89 424.54,99.06 425.45,97.73 426.36,96.89 427.27,94.80 428.18,93.68 429.09,92.02 430.00,89.47 430.91,88.62 431.82,86.13 432.73,84.93 433.64,83.55 434.55,82.72 435.46,82.29 436.38,80.61 437.29,80.19 438.20,79.00 439.11,78.36 440.02,77.45 440.93,76.06 441.84,75.51 442.75,74.04 443.66,72.49 444.57,71.35 445.48,71.14 446.39,70.59 447.30,69.34 448.21,68.75 449.12,67.60 450.03,66.13 450.94,65.19 451.85,64.99 452.76,63.45 452.99,63.20" fill="none" stroke="#b4e04e" stroke-width="1.5" stroke-linejoin="round" opacity="0.95"/><polyline points="342.60,167.46 343.51,167.32 344.42,167.19 345.34,167.10 346.25,167.00 347.16,166.90 348.07,166.80 348.98,166.70 349.89,166.61 350.80,166.51 351.71,166.41 352.62,166.31 353.53,166.21 354.44,166.12 355.35,166.02 356.26,165.93 357.17,165.83 358.08,165.74 358.99,165.65 359.90,165.56 360.81,165.46 361.72,165.37 362.63,165.28 363.54,165.19 364.45,165.09 365.36,165.00 366.27,164.91 367.18,164.82 368.10,164.73 369.01,164.63 369.92,164.54 370.83,164.45 371.74,164.36 372.65,164.26 373.56,164.17 374.47,164.08 375.38,163.99 376.29,163.89 377.20,163.20 378.11,161.90 379.02,160.60 379.93,159.61 380.84,158.93 381.75,158.62 382.66,158.32 383.57,158.01 384.48,157.71 385.39,157.41 386.30,157.10 387.21,156.80 388.12,156.49 389.03,156.19 389.94,155.89 390.86,155.58 391.77,155.28 392.68,154.97 393.59,154.67 394.50,154.37 395.41,153.84 396.32,153.10 397.23,152.16 398.14,151.46 399.05,150.96 399.96,150.67 400.87,150.37 401.78,150.07 402.69,149.77 403.60,149.48 404.51,149.18 405.42,148.88 406.33,148.58 407.24,148.27 408.15,147.93 409.06,147.41 409.97,146.71 410.88,145.70 411.79,145.10 412.70,143.98 413.62,143.73 414.53,141.80 415.44,140.82 416.35,140.08 417.26,131.77 418.17,123.92 419.08,120.61 419.99,117.38 420.90,112.82 421.81,109.39 422.72,108.88 423.63,105.34 424.54,103.65 425.45,101.89 426.36,99.92 427.27,97.11 428.18,96.60 429.09,95.33 430.00,94.49 430.91,94.51 431.82,92.55 432.73,91.30 433.64,90.44 434.55,90.17 435.46,90.26 436.38,89.45 437.29,88.35 438.20,86.09 439.11,86.30 440.02,85.31 440.93,83.52 441.84,83.64 442.75,82.36 443.66,80.84 444.57,79.77 445.48,77.17 446.39,75.01 447.30,74.48 448.21,72.65 449.12,70.62 450.03,69.55 450.94,67.05 451.85,64.79 452.76,63.36 452.99,63.20" fill="none" stroke="#98dc48" stroke-width="1.4" stroke-linejoin="round" opacity="0.95"/><polyline points="342.60,167.66 343.51,167.52 344.42,167.40 345.34,167.31 346.25,167.21 347.16,167.11 348.07,167.02 348.98,166.92 349.89,166.82 350.80,166.73 351.71,166.63 352.62,166.53 353.53,166.43 354.44,166.34 355.35,166.24 356.26,166.15 357.17,166.06 358.08,165.97 358.99,165.89 359.90,165.80 360.81,165.71 361.72,165.62 362.63,165.53 363.54,165.44 364.45,165.35 365.36,165.27 366.27,165.18 367.18,165.09 368.10,165.00 369.01,164.91 369.92,164.82 370.83,164.73 371.74,164.64 372.65,164.56 373.56,164.47 374.47,164.38 375.38,164.29 376.29,164.20 377.20,163.54 378.11,162.31 379.02,161.13 379.93,160.24 380.84,159.63 381.75,159.36 382.66,159.08 383.57,158.81 384.48,158.53 385.39,158.26 386.30,157.98 387.21,157.71 388.12,157.43 389.03,157.16 389.94,156.88 390.86,156.60 391.77,156.33 392.68,156.05 393.59,155.78 394.50,155.50 395.41,154.98 396.32,154.23 397.23,153.26 398.14,152.63 399.05,152.17 399.96,151.89 400.87,151.60 401.78,151.32 402.69,151.03 403.60,150.75 404.51,150.47 405.42,150.18 406.33,149.90 407.24,149.59 408.15,149.25 409.06,148.71 409.97,148.01 410.88,147.23 411.79,146.24 412.70,144.80 413.62,144.74 414.53,143.83 415.44,142.79 416.35,142.51 417.26,140.74 418.17,139.32 419.08,137.82 419.99,125.91 420.90,124.47 421.81,121.47 422.72,116.88 423.63,113.72 424.54,112.18 425.45,108.61 426.36,106.68 427.27,105.25 428.18,103.36 429.09,102.18 430.00,100.93 430.91,99.02 431.82,98.79 432.73,97.53 433.64,96.41 434.55,95.74 435.46,93.97 436.38,92.98 437.29,91.26 438.20,90.78 439.11,89.54 440.02,88.75 440.93,87.44 441.84,86.75 442.75,86.03 443.66,83.09 444.57,81.38 445.48,79.94 446.39,78.45 447.30,77.41 448.21,75.34 449.12,73.01 450.03,71.16 450.94,67.75 451.85,66.15 452.76,63.16 452.99,63.20" fill="none" stroke="#80d850" stroke-width="1.4" stroke-linejoin="round" opacity="0.95"/><polyline points="342.60,167.82 343.51,167.68 344.42,167.57 345.34,167.47 346.25,167.38 347.16,167.28 348.07,167.19 348.98,167.09 349.89,166.99 350.80,166.90 351.71,166.80 352.62,166.71 353.53,166.61 354.44,166.51 355.35,166.42 356.26,166.33 357.17,166.25 358.08,166.16 358.99,166.08 359.90,165.99 360.81,165.90 361.72,165.82 362.63,165.73 363.54,165.65 364.45,165.56 365.36,165.48 366.27,165.39 367.18,165.30 368.10,165.22 369.01,165.13 369.92,165.05 370.83,164.96 371.74,164.88 372.65,164.79 373.56,164.70 374.47,164.62 375.38,164.53 376.29,164.45 377.20,163.81 378.11,162.63 379.02,161.55 379.93,160.74 380.84,160.20 381.75,159.95 382.66,159.69 383.57,159.44 384.48,159.19 385.39,158.94 386.30,158.68 387.21,158.43 388.12,158.18 389.03,157.93 389.94,157.67 390.86,157.42 391.77,157.17 392.68,156.92 393.59,156.67 394.50,156.41 395.41,155.89 396.32,155.13 397.23,154.14 398.14,153.56 399.05,153.13 399.96,152.86 400.87,152.59 401.78,152.31 402.69,152.04 403.60,151.77 404.51,151.50 405.42,151.22 406.33,150.95 407.24,150.64 408.15,150.30 409.06,149.74 409.97,149.05 410.88,148.25 411.79,147.17 412.70,146.37 413.62,146.46 414.53,145.89 415.44,144.41 416.35,143.66 417.26,141.56 418.17,140.56 419.08,139.50 419.99,138.23 420.90,136.59 421.81,128.12 422.72,125.16 423.63,125.17 424.54,120.54 425.45,118.63 426.36,113.97 427.27,113.46 428.18,110.63 429.09,109.45 430.00,107.55 430.91,105.02 431.82,104.65 432.73,103.33 433.64,100.62 434.55,100.07 435.46,99.53 436.38,96.75 437.29,95.57 438.20,95.75 439.11,93.98 440.02,93.22 440.93,91.67 441.84,89.90 442.75,89.43 443.66,86.81 444.57,86.20 445.48,84.29 446.39,81.47 447.30,80.47 448.21,77.71 449.12,74.67 450.03,72.13 450.94,69.55 451.85,67.42 452.76,63.50 452.99,63.20" fill="none" stroke="#6cd45a" stroke-width="1.4" stroke-linejoin="round" opacity="0.95"/><polyline points="342.60,167.97 343.51,167.85 344.42,167.73 345.34,167.64 346.25,167.55 347.16,167.45 348.07,167.36 348.98,167.26 349.89,167.17 350.80,167.07 351.71,166.98 352.62,166.88 353.53,166.79 354.44,166.69 355.35,166.60 356.26,166.51 357.17,166.43 358.08,166.35 358.99,166.27 359.90,166.18 360.81,166.10 361.72,166.02 362.63,165.93 363.54,165.85 364.45,165.77 365.36,165.69 366.27,165.60 367.18,165.52 368.10,165.44 369.01,165.36 369.92,165.27 370.83,165.19 371.74,165.11 372.65,165.02 373.56,164.94 374.47,164.86 375.38,164.78 376.29,164.69 377.20,164.09 378.11,162.95 379.02,161.98 379.93,161.25 380.84,160.76 381.75,160.53 382.66,160.31 383.57,160.08 384.48,159.85 385.39,159.62 386.30,159.39 387.21,159.16 388.12,158.93 389.03,158.70 389.94,158.47 390.86,158.24 391.77,158.01 392.68,157.78 393.59,157.55 394.50,157.32 395.41,156.80 396.32,156.04 397.23,155.03 398.14,154.49 399.05,154.10 399.96,153.84 400.87,153.57 401.78,153.31 402.69,153.05 403.60,152.79 404.51,152.53 405.42,152.26 406.33,152.00 407.24,151.70 408.15,151.36 409.06,150.78 409.97,150.08 410.88,149.68 411.79,148.21 412.70,147.47 413.62,146.42 414.53,146.80 415.44,145.91 416.35,145.19 417.26,143.88 418.17,141.83 419.08,141.66 419.99,139.67 420.90,138.74 421.81,136.97 422.72,134.77 423.63,132.11 424.54,119.18 425.45,127.43 426.36,126.27 427.27,123.13 428.18,118.53 429.09,115.72 430.00,114.12 430.91,112.48 431.82,111.02 432.73,109.07 433.64,107.73 434.55,107.04 435.46,104.41 436.38,103.41 437.29,101.33 438.20,100.04 439.11,98.66 440.02,97.15 440.93,95.42 441.84,94.00 442.75,92.72 443.66,89.81 444.57,88.13 445.48,86.10 446.39,84.89 447.30,83.42 448.21,79.84 449.12,77.64 450.03,73.46 450.94,70.61 451.85,67.82 452.76,64.52 452.99,63.20" fill="none" stroke="#7edcb0" stroke-width="1.4" stroke-linejoin="round" opacity="0.95"/><polyline points="342.60,168.13 343.51,168.01 344.42,167.90 345.34,167.81 346.25,167.71 347.16,167.62 348.07,167.53 348.98,167.43 349.89,167.34 350.80,167.24 351.71,167.15 352.62,167.06 353.53,166.96 354.44,166.87 355.35,166.78 356.26,166.69 357.17,166.61 358.08,166.53 358.99,166.45 359.90,166.38 360.81,166.30 361.72,166.22 362.63,166.14 363.54,166.06 364.45,165.98 365.36,165.90 366.27,165.82 367.18,165.74 368.10,165.66 369.01,165.58 369.92,165.50 370.83,165.42 371.74,165.34 372.65,165.26 373.56,165.18 374.47,165.10 375.38,165.02 376.29,164.94 377.20,164.36 378.11,163.28 379.02,162.40 379.93,161.75 380.84,161.33 381.75,161.12 382.66,160.92 383.57,160.71 384.48,160.50 385.39,160.30 386.30,160.09 387.21,159.88 388.12,159.68 389.03,159.47 389.94,159.26 390.86,159.06 391.77,158.85 392.68,158.64 393.59,158.44 394.50,158.23 395.41,157.71 396.32,156.94 397.23,155.91 398.14,155.43 399.05,155.06 399.96,154.81 400.87,154.56 401.78,154.31 402.69,154.06 403.60,153.81 404.51,153.56 405.42,153.31 406.33,153.05 407.24,152.76 408.15,152.41 409.06,151.82 409.97,151.12 410.88,151.00 411.79,149.28 412.70,148.65 413.62,147.44 414.53,147.86 415.44,147.12 416.35,145.49 417.26,144.47 418.17,143.91 419.08,142.07 419.99,141.28 420.90,139.20 421.81,138.74 422.72,136.59 423.63,133.46 424.54,132.41 425.45,130.73 426.36,127.95 427.27,118.76 428.18,124.81 429.09,128.78 430.00,125.23 430.91,122.72 431.82,118.53 432.73,118.01 433.64,116.22 434.55,115.22 435.46,113.59 436.38,110.84 437.29,110.40 438.20,106.90 439.11,105.35 440.02,102.57 440.93,99.62 441.84,97.44 442.75,95.93 443.66,93.41 444.57,91.62 445.48,90.68 446.39,89.12 447.30,86.08 448.21,82.93 449.12,79.72 450.03,75.51 450.94,72.15 451.85,67.39 452.76,64.14 452.99,63.20" fill="none" stroke="#92e0ee" stroke-width="1.4" stroke-linejoin="round" opacity="0.95"/><polyline points="342.60,168.31 343.51,168.19 344.42,168.09 345.34,168.00 346.25,167.90 347.16,167.81 348.07,167.72 348.98,167.62 349.89,167.53 350.80,167.44 351.71,167.35 352.62,167.25 353.53,167.16 354.44,167.07 355.35,166.98 356.26,166.90 357.17,166.82 358.08,166.74 358.99,166.67 359.90,166.59 360.81,166.52 361.72,166.44 362.63,166.36 363.54,166.29 364.45,166.21 365.36,166.13 366.27,166.06 367.18,165.98 368.10,165.90 369.01,165.83 369.92,165.75 370.83,165.67 371.74,165.60 372.65,165.52 373.56,165.45 374.47,165.37 375.38,165.29 376.29,165.22 377.20,164.66 378.11,163.64 379.02,162.87 379.93,162.32 380.84,161.97 381.75,161.79 382.66,161.61 383.57,161.42 384.48,161.24 385.39,161.06 386.30,160.88 387.21,160.70 388.12,160.52 389.03,160.34 389.94,160.16 390.86,159.98 391.77,159.80 392.68,159.62 393.59,159.43 394.50,159.25 395.41,158.74 396.32,157.95 397.23,156.90 398.14,156.48 399.05,156.15 399.96,155.91 400.87,155.67 401.78,155.43 402.69,155.19 403.60,154.95 404.51,154.72 405.42,154.48 406.33,154.24 407.24,153.95 408.15,153.60 409.06,152.98 409.97,152.29 410.88,151.52 411.79,150.85 412.70,150.18 413.62,149.50 414.53,148.82 415.44,148.11 416.35,147.36 417.26,146.23 418.17,145.08 419.08,143.91 419.99,141.96 420.90,141.63 421.81,139.82 422.72,138.39 423.63,134.94 424.54,134.40 425.45,131.70 426.36,130.03 427.27,128.02 428.18,127.37 429.09,126.36 430.00,125.38 430.91,125.06 431.82,121.47 432.73,116.08 433.64,109.76 434.55,108.40 435.46,107.08 436.38,105.26 437.29,102.80 438.20,99.79 439.11,99.50 440.02,96.85 440.93,94.38 441.84,93.57 442.75,90.48 443.66,88.20 444.57,86.16 445.48,85.21 446.39,81.70 447.30,80.77 448.21,77.05 449.12,74.32 450.03,72.05 450.94,68.93 451.85,66.15 452.76,63.37 452.99,63.20" fill="none" stroke="#78a4e0" stroke-width="1.3" stroke-linejoin="round" opacity="0.95"/><polyline points="333.50,168.82 334.32,168.71 335.14,168.60 335.96,168.49 336.78,168.39 337.60,168.28 338.42,168.17 339.24,168.06 340.05,167.96 340.87,167.88 341.69,167.80 342.51,167.72 343.33,167.64 344.15,167.56 344.97,167.48 345.79,167.40 346.61,167.32 347.43,167.24 348.25,167.16 349.07,167.08 349.89,167.00 350.71,166.92 351.53,166.84 352.35,166.76 353.16,166.68 353.98,166.60 354.80,166.52 355.62,166.45 356.44,166.39 357.26,166.34 358.08,166.28 358.90,166.22 359.72,166.16 360.54,166.11 361.36,166.05 362.18,165.99 363.00,165.94 363.82,165.88 364.64,165.82 365.46,165.76 366.27,165.71 367.09,165.65 367.91,165.59 368.73,165.54 369.55,165.48 370.37,165.42 371.19,165.37 372.01,165.31 372.83,165.25 373.65,165.19 374.47,165.14 375.29,165.08 376.11,165.02 376.93,164.92 377.75,164.12 378.56,163.36 379.38,163.29 380.20,163.22 381.02,163.14 381.84,163.07 382.66,163.00 383.48,162.93 384.30,162.85 385.12,162.78 385.94,162.71 386.76,162.64 387.58,162.56 388.40,162.49 389.22,162.42 390.04,162.34 390.86,162.27 391.67,162.20 392.49,162.13 393.31,162.05 394.13,161.98 394.95,161.91 395.77,161.33 396.59,160.12 397.41,159.43 398.23,159.26 399.05,159.09 399.87,158.92 400.69,158.74 401.51,158.57 402.33,158.40 403.15,158.23 403.96,158.06 404.78,157.88 405.60,157.71 406.42,157.54 407.24,157.37 408.06,157.00 408.88,156.37 409.70,155.75 410.52,155.13 411.34,154.58 412.16,154.33 412.98,154.09 413.80,153.10 414.62,153.01 415.44,152.51 417.53,151.51 418.23,147.52 420.02,146.62 420.62,143.06 422.09,142.22 422.58,138.83 424.82,137.07 425.56,130.03 427.25,129.10 427.82,125.38 429.57,124.89 430.15,122.91 432.07,122.61 432.71,121.39 434.94,121.01 435.68,119.46 438.33,118.40 439.21,114.14 441.21,113.42 441.88,110.55 444.53,108.95 445.42,102.53 446.90,101.81 447.39,98.90" fill="none" stroke="#4a64e0" stroke-width="1.3" stroke-linejoin="round" opacity="0.95"/><polyline points="333.50,169.24 334.32,169.14 335.14,169.03 335.96,168.92 336.78,168.81 337.60,168.71 338.42,168.60 339.24,168.49 340.05,168.39 340.87,168.31 341.69,168.23 342.51,168.15 343.33,168.07 344.15,167.99 344.97,167.91 345.79,167.83 346.61,167.75 347.43,167.67 348.25,167.59 349.07,167.51 349.89,167.43 350.71,167.35 351.53,167.27 352.35,167.19 353.16,167.11 353.98,167.03 354.80,166.95 355.62,166.88 356.44,166.82 357.26,166.76 358.08,166.71 358.90,166.65 359.72,166.59 360.54,166.53 361.36,166.48 362.18,166.42 363.00,166.36 363.82,166.31 364.64,166.25 365.46,166.19 366.27,166.14 367.09,166.08 367.91,166.02 368.73,165.96 369.55,165.91 370.37,165.85 371.19,165.79 372.01,165.74 372.83,165.68 373.65,165.62 374.47,165.56 375.29,165.51 376.11,165.45 376.93,165.35 377.75,164.55 378.56,163.79 379.38,163.72 380.20,163.64 381.02,163.57 381.84,163.50 382.66,163.43 383.48,163.35 384.30,163.28 385.12,163.21 385.94,163.14 386.76,163.06 387.58,162.99 388.40,162.92 389.22,162.84 390.04,162.77 390.86,162.70 391.67,162.63 392.49,162.55 393.31,162.48 394.13,162.41 394.95,162.34 395.77,161.76 396.59,160.55 397.41,159.86 398.23,159.69 399.05,159.51 399.87,159.34 400.69,159.17 401.51,159.00 402.33,158.83 403.15,158.65 403.96,158.48 404.78,158.31 405.60,158.14 406.42,157.97 407.24,157.80 408.06,157.42 408.88,156.80 409.70,156.18 410.52,155.56 411.34,155.46 412.16,154.91 412.98,154.21 413.80,153.50 414.62,153.50 415.44,153.06 416.88,152.49 417.37,150.18 418.94,149.47 419.46,146.60 421.38,145.69 422.02,142.04 424.29,140.55 425.05,134.58 426.66,133.61 427.19,129.69 428.76,129.20 429.29,127.22 431.01,126.96 431.58,125.92 433.94,125.36 434.73,123.10 436.35,122.79 436.89,121.56 439.23,120.54 440.01,116.46 442.26,115.45 443.01,111.40 444.61,110.47 445.14,106.73 446.83,105.85 447.39,102.33" fill="none" stroke="#3c4ce0" stroke-width="1.3" stroke-linejoin="round" opacity="0.95"/><polyline points="333.50,169.67 334.32,169.56 335.14,169.46 335.96,169.35 336.78,169.24 337.60,169.13 338.42,169.03 339.24,168.92 340.05,168.81 340.87,168.73 341.69,168.65 342.51,168.57 343.33,168.49 344.15,168.41 344.97,168.33 345.79,168.25 346.61,168.18 347.43,168.10 348.25,168.02 349.07,167.94 349.89,167.86 350.71,167.78 351.53,167.70 352.35,167.62 353.16,167.54 353.98,167.46 354.80,167.38 355.62,167.30 356.44,167.25 357.26,167.19 358.08,167.13 358.90,167.08 359.72,167.02 360.54,166.96 361.36,166.91 362.18,166.85 363.00,166.79 363.82,166.73 364.64,166.68 365.46,166.62 366.27,166.56 367.09,166.51 367.91,166.45 368.73,166.39 369.55,166.33 370.37,166.28 371.19,166.22 372.01,166.16 372.83,166.11 373.65,166.05 374.47,165.99 375.29,165.93 376.11,165.88 376.93,165.78 377.75,164.98 378.56,164.22 379.38,164.14 380.20,164.07 381.02,164.00 381.84,163.93 382.66,163.85 383.48,163.78 384.30,163.71 385.12,163.64 385.94,163.56 386.76,163.49 387.58,163.42 388.40,163.35 389.22,163.27 390.04,163.20 390.86,163.13 391.67,163.05 392.49,162.98 393.31,162.91 394.13,162.84 394.95,162.76 395.77,162.19 396.59,160.98 397.41,160.29 398.23,160.11 399.05,159.94 399.87,159.77 400.69,159.60 401.51,159.43 402.33,159.25 403.15,159.08 403.96,158.91 404.78,158.74 405.60,158.57 406.42,158.39 407.24,158.22 408.06,157.85 408.88,157.23 409.70,156.61 410.52,155.98 411.34,155.83 412.16,155.25 412.98,154.71 413.80,153.74 414.62,153.62 415.44,152.97 416.97,152.53 417.47,150.77 419.17,150.07 419.74,147.30 421.54,146.61 422.15,143.86 424.69,142.20 425.53,135.52 427.58,134.68 428.26,131.32 430.58,130.89 431.35,129.16 432.91,128.96 433.43,128.19 435.48,127.73 436.17,125.88 438.64,124.91 439.46,121.01 441.54,120.11 442.23,116.50 444.83,114.97 445.69,108.88 446.97,108.25 447.39,105.75" fill="none" stroke="#3434d4" stroke-width="1.3" stroke-linejoin="round" opacity="0.95"/><polyline points="333.50,170.10 334.32,169.99 335.14,169.88 335.96,169.78 336.78,169.67 337.60,169.56 338.42,169.45 339.24,169.35 340.05,169.24 340.87,169.16 341.69,169.08 342.51,169.00 343.33,168.92 344.15,168.84 344.97,168.76 345.79,168.68 346.61,168.60 347.43,168.52 348.25,168.44 349.07,168.36 349.89,168.28 350.71,168.20 351.53,168.12 352.35,168.04 353.16,167.97 353.98,167.89 354.80,167.81 355.62,167.73 356.44,167.68 357.26,167.62 358.08,167.56 358.90,167.50 359.72,167.45 360.54,167.39 361.36,167.33 362.18,167.28 363.00,167.22 363.82,167.16 364.64,167.10 365.46,167.05 366.27,166.99 367.09,166.93 367.91,166.88 368.73,166.82 369.55,166.76 370.37,166.71 371.19,166.65 372.01,166.59 372.83,166.53 373.65,166.48 374.47,166.42 375.29,166.36 376.11,166.31 376.93,166.21 377.75,165.41 378.56,164.64 379.38,164.57 380.20,164.50 381.02,164.43 381.84,164.35 382.66,164.28 383.48,164.21 384.30,164.14 385.12,164.06 385.94,163.99 386.76,163.92 387.58,163.85 388.40,163.77 389.22,163.70 390.04,163.63 390.86,163.55 391.67,163.48 392.49,163.41 393.31,163.34 394.13,163.26 394.95,163.19 395.77,162.61 396.59,161.40 397.41,160.71 398.23,160.54 399.05,160.37 399.87,160.20 400.69,160.03 401.51,159.85 402.33,159.68 403.15,159.51 403.96,159.34 404.78,159.17 405.60,158.99 406.42,158.82 407.24,158.65 408.06,158.28 408.88,157.66 409.70,157.03 410.52,156.41 411.34,155.83 412.16,155.32 412.98,154.70 413.80,154.70 414.62,153.92 415.44,153.25 417.57,152.74 418.28,150.69 420.49,149.99 421.23,147.16 423.67,145.83 424.48,140.48 426.26,139.66 426.85,136.39 429.08,135.81 429.83,133.46 432.36,133.08 433.20,131.54 435.75,131.01 436.60,128.86 438.26,128.17 438.82,125.39 441.05,124.51 441.80,120.99 443.99,119.69 444.72,114.49 446.72,113.43 447.39,109.17" fill="none" stroke="#2e2ec4" stroke-width="1.3" stroke-linejoin="round" opacity="0.95"/><text x="394.4" y="52.4" font-size="8.1" text-anchor="middle" font-weight="normal" fill="#222" textLength="101" lengthAdjust="spacingAndGlyphs">ZH33 T clone size distribution</text><text x="393.9" y="198" font-size="8.4" text-anchor="middle" font-weight="normal" fill="#222" textLength="143.6" lengthAdjust="spacingAndGlyphs">Clones sorted by time of maximum contribution</text><polyline points="447.4,109 447.6,104 448.3,95 449.3,86 450.5,77 451.8,69 453.3,62.8" fill="none" stroke="#3a3ad8" stroke-width="1.4" stroke-dasharray="1.2,1.4"/><polyline points="447.4,93 448.2,88 449.2,82 450.6,75 452,68 453.3,62.8" fill="none" stroke="#3a48d8" stroke-width="1.2"/><polyline points="442.8,94.5 446,86 449,77 451.5,70 454,63.4" fill="none" stroke="#3344e0" stroke-width="1.5"/><line x1="329" y1="223.5" x2="329" y2="338.4" stroke="#111" stroke-width="1.5"/><line x1="328.3" y1="337.7" x2="459" y2="337.7" stroke="#111" stroke-width="1.4"/><line x1="326" y1="226.50" x2="328.5" y2="226.50" stroke="#111" stroke-width="1"/><text class="s" x="323" y="228.4" font-size="5.2" text-anchor="end" font-weight="normal" fill="#222">1.0</text><line x1="326" y1="247.80" x2="328.5" y2="247.80" stroke="#111" stroke-width="1"/><text class="s" x="323" y="249.70000000000002" font-size="5.2" text-anchor="end" font-weight="normal" fill="#222">0.8</text><line x1="326" y1="269.10" x2="328.5" y2="269.10" stroke="#111" stroke-width="1"/><text class="s" x="323" y="271.0" font-size="5.2" text-anchor="end" font-weight="normal" fill="#222">0.6</text><line x1="326" y1="290.40" x2="328.5" y2="290.40" stroke="#111" stroke-width="1"/><text class="s" x="323" y="292.29999999999995" font-size="5.2" text-anchor="end" font-weight="normal" fill="#222">0.4</text><line x1="326" y1="311.70" x2="328.5" y2="311.70" stroke="#111" stroke-width="1"/><text class="s" x="323" y="313.59999999999997" font-size="5.2" text-anchor="end" font-weight="normal" fill="#222">0.2</text><line x1="326" y1="333.00" x2="328.5" y2="333.00" stroke="#111" stroke-width="1"/><text class="s" x="323" y="334.9" font-size="5.2" text-anchor="end" font-weight="normal" fill="#222">0.0</text><line x1="334.10" y1="337.7" x2="334.10" y2="340.2" stroke="#111" stroke-width="0.9"/><text class="s" x="334.1" y="348" font-size="5.2" text-anchor="middle" font-weight="normal" fill="#222">0</text><line x1="353.74" y1="337.7" x2="353.74" y2="340.2" stroke="#111" stroke-width="0.9"/><text class="s" x="353.74" y="348" font-size="5.2" text-anchor="middle" font-weight="normal" fill="#222">500</text><line x1="373.38" y1="337.7" x2="373.38" y2="340.2" stroke="#111" stroke-width="0.9"/><text class="s" x="373.38" y="348" font-size="5.2" text-anchor="middle" font-weight="normal" fill="#222">1000</text><line x1="393.02" y1="337.7" x2="393.02" y2="340.2" stroke="#111" stroke-width="0.9"/><text class="s" x="393.02000000000004" y="348" font-size="5.2" text-anchor="middle" font-weight="normal" fill="#222">1500</text><line x1="412.66" y1="337.7" x2="412.66" y2="340.2" stroke="#111" stroke-width="0.9"/><text class="s" x="412.66" y="348" font-size="5.2" text-anchor="middle" font-weight="normal" fill="#222">2000</text><line x1="432.30" y1="337.7" x2="432.30" y2="340.2" stroke="#111" stroke-width="0.9"/><text class="s" x="432.3" y="348" font-size="5.2" text-anchor="middle" font-weight="normal" fill="#222">2500</text><line x1="451.94" y1="337.7" x2="451.94" y2="340.2" stroke="#111" stroke-width="0.9"/><text class="s" x="451.94000000000005" y="348" font-size="5.2" text-anchor="middle" font-weight="normal" fill="#222">3000</text><polyline points="334.10,333.00 334.57,326.61 335.40,320.97 336.46,315.96 337.71,311.27 340.38,303.71 344.12,295.30 352.09,280.07 382.69,228.31 385.16,228.20 412.66,227.56 453.98,226.50" fill="none" stroke="#c4532d" stroke-width="1.6" stroke-linejoin="round" opacity="0.95"/><polyline points="334.10,332.47 335.08,332.41 336.06,332.36 337.05,332.31 338.03,332.25 339.01,332.20 339.99,332.15 340.97,332.09 341.96,332.04 342.94,331.99 343.92,331.94 344.90,331.88 345.88,331.83 346.87,331.78 347.85,331.72 348.83,331.67 349.81,331.62 350.79,331.56 351.78,331.51 352.76,331.46 353.74,331.40 354.72,331.35 355.70,331.30 356.69,331.24 357.67,331.19 358.65,331.14 359.63,331.08 360.61,331.03 361.60,330.98 362.58,330.92 363.56,330.87 364.54,330.82 365.52,330.76 366.51,330.71 367.49,330.66 368.47,330.60 369.45,330.55 370.43,330.50 371.42,330.44 372.40,330.39 373.38,330.34 374.36,330.28 375.34,330.23 376.33,330.18 377.31,330.12 378.29,330.07 379.27,330.02 380.25,329.96 381.24,329.91 382.22,329.86 383.20,329.81 384.18,323.45 385.16,315.33 386.15,311.03 387.13,306.90 388.11,302.76 389.09,298.79 390.07,295.49 391.06,292.18 392.04,288.88 393.02,286.07 394.00,283.45 394.98,281.85 395.97,279.57 396.95,277.36 397.93,275.28 398.91,274.02 399.89,272.48 400.88,271.79 401.86,269.71 402.84,269.61 403.82,267.62 404.80,268.00 405.79,267.12 406.77,265.40 407.75,264.07 408.73,262.17 409.71,260.65 410.70,259.92 411.68,259.18 412.66,257.52 413.64,257.01 414.62,256.40 415.61,255.35 416.59,254.52 417.57,251.94 418.55,251.70 419.53,250.11 420.52,248.59 421.50,247.81 422.48,247.03 423.46,246.22 424.44,245.16 425.43,244.13 426.41,243.31 427.39,243.52 428.37,242.80 429.35,242.38 430.34,241.19 431.32,240.94 432.30,238.96 433.28,238.58 434.26,238.77 435.25,237.31 436.23,236.61 437.21,236.95 438.19,235.05 439.17,234.49 440.16,234.34 441.14,232.96 442.12,233.84 443.10,233.35 444.08,231.59 445.07,231.11 446.05,231.65 447.03,230.05 448.01,229.49 448.99,229.27 449.98,229.18 450.96,227.50 451.94,226.88 452.92,226.95 453.90,227.02 453.98,226.50" fill="none" stroke="#cc8a3a" stroke-width="1.5" stroke-linejoin="round" opacity="0.95"/><polyline points="334.10,332.68 334.89,332.65 335.67,332.62 336.46,332.58 337.24,332.55 338.03,332.52 338.81,332.49 339.60,332.45 340.38,332.42 341.17,332.39 341.96,332.36 342.74,332.32 343.53,332.29 344.31,332.26 345.10,332.23 345.88,332.19 346.67,332.16 347.46,332.13 348.24,332.10 349.03,332.07 349.81,332.03 350.60,332.00 351.38,331.97 352.17,331.94 352.95,331.90 353.74,331.87 354.53,331.84 355.31,331.81 356.10,331.77 356.88,331.74 357.67,331.71 358.45,331.68 359.24,331.64 360.02,331.61 360.81,331.58 361.60,331.55 362.38,331.51 363.17,331.48 363.95,331.45 364.74,331.42 365.52,331.39 366.31,331.35 367.10,331.32 367.88,331.29 368.67,331.26 369.45,331.22 370.24,331.19 371.02,331.16 371.81,331.13 372.59,331.09 373.38,331.06 374.17,331.03 374.95,331.00 375.74,330.96 376.52,330.93 377.31,330.90 378.09,330.87 378.88,330.84 379.66,330.80 380.45,330.77 381.24,330.74 382.02,330.71 382.81,330.67 383.59,330.30 384.38,329.46 385.16,328.61 385.95,327.76 386.74,326.91 387.52,326.06 388.31,325.20 389.09,324.41 389.88,323.02 390.66,323.25 391.45,322.07 392.23,320.35 393.02,319.88 393.81,319.72 394.59,318.58 395.38,317.05 396.16,316.76 396.95,316.43 397.73,314.47 398.52,314.60 399.30,308.71 400.09,303.49 400.88,298.98 401.66,295.75 402.45,294.15 403.23,291.01 404.02,289.04 404.80,285.35 405.59,284.44 406.38,282.65 407.16,280.93 407.95,279.54 408.73,279.23 409.52,276.91 410.30,275.77 411.09,275.28 411.87,273.55 412.66,273.06 413.45,272.00 414.23,270.82 415.02,269.47 415.80,267.58 416.59,266.63 417.37,264.54 418.16,263.25 418.94,262.71 419.73,261.00 420.52,260.06 421.30,257.98 422.09,256.53 422.87,255.15 423.66,254.98 424.44,253.61 425.23,253.55 426.02,251.93 426.80,251.72 427.59,251.48 428.37,249.66 429.16,249.01 429.94,249.10 430.73,247.64 431.51,247.47 432.30,246.13 433.09,245.05 433.87,243.75 434.66,243.64 435.44,242.66 436.23,241.49 437.01,240.16 437.80,238.61 438.58,237.68 439.37,237.44 440.16,235.61 440.94,235.28 441.73,234.63 442.51,233.55 443.30,232.50 444.08,232.01 444.87,232.11 445.66,231.16 446.44,231.44 447.23,230.98 448.01,229.47 448.80,229.34 449.58,229.48 450.37,228.77 451.15,227.72 451.94,228.14 452.73,227.53 453.51,226.35 453.98,226.50" fill="none" stroke="#d8cf48" stroke-width="1.4" stroke-linejoin="round" opacity="0.95"/><polyline points="334.10,332.68 334.89,332.65 335.67,332.62 336.46,332.59 337.24,332.56 338.03,332.53 338.81,332.50 339.60,332.47 340.38,332.44 341.17,332.42 341.96,332.39 342.74,332.36 343.53,332.33 344.31,332.30 345.10,332.27 345.88,332.24 346.67,332.21 347.46,332.18 348.24,332.15 349.03,332.12 349.81,332.09 350.60,332.06 351.38,332.03 352.17,332.00 352.95,331.97 353.74,331.94 354.53,331.91 355.31,331.88 356.10,331.86 356.88,331.83 357.67,331.80 358.45,331.77 359.24,331.74 360.02,331.71 360.81,331.68 361.60,331.65 362.38,331.62 363.17,331.59 363.95,331.56 364.74,331.53 365.52,331.50 366.31,331.47 367.10,331.44 367.88,331.41 368.67,331.38 369.45,331.35 370.24,331.32 371.02,331.29 371.81,331.27 372.59,331.24 373.38,331.21 374.17,331.18 374.95,331.15 375.74,331.12 376.52,331.09 377.31,331.06 378.09,331.03 378.88,331.00 379.66,330.97 380.45,330.94 381.24,330.91 382.02,330.88 382.81,330.85 383.59,330.48 384.38,329.91 385.16,329.36 385.95,328.81 386.74,328.25 387.52,327.70 388.31,327.14 389.09,326.74 389.88,326.38 390.66,325.91 391.45,324.40 392.23,324.28 393.02,323.58 393.81,323.20 394.59,322.86 395.38,321.86 396.16,321.51 396.95,320.69 397.73,320.29 398.52,319.51 399.30,319.47 400.09,319.28 400.88,318.73 401.66,317.44 402.45,317.60 403.23,316.42 404.02,315.91 404.80,316.08 405.59,311.33 406.38,308.46 407.16,303.57 407.95,299.78 408.73,297.74 409.52,294.49 410.30,291.88 411.09,290.06 411.87,286.77 412.66,284.93 413.45,281.96 414.23,280.29 415.02,277.96 415.80,277.18 416.59,274.88 417.37,272.54 418.16,270.59 418.94,269.56 419.73,267.40 420.52,266.20 421.30,265.63 422.09,264.58 422.87,262.65 423.66,261.73 424.44,260.14 425.23,259.10 426.02,258.06 426.80,257.86 427.59,257.03 428.37,255.94 429.16,254.92 429.94,254.63 430.73,253.54 431.51,253.12 432.30,252.01 433.09,251.62 433.87,251.33 434.66,250.49 435.44,249.51 436.23,248.47 437.01,246.34 437.80,245.25 438.58,244.33 439.37,244.08 440.16,242.30 440.94,241.91 441.73,239.86 442.51,239.08 443.30,238.06 444.08,237.35 444.87,236.69 445.66,235.25 446.44,234.21 447.23,234.23 448.01,233.08 448.80,231.81 449.58,230.98 450.37,230.46 451.15,229.57 451.94,228.07 452.73,228.12 453.51,227.37 453.98,226.50" fill="none" stroke="#cde24a" stroke-width="1.4" stroke-linejoin="round" opacity="0.95"/><polyline points="334.10,332.68 334.89,332.65 335.67,332.63 336.46,332.60 337.24,332.57 338.03,332.55 338.81,332.52 339.60,332.49 340.38,332.47 341.17,332.44 341.96,332.41 342.74,332.39 343.53,332.36 344.31,332.33 345.10,332.31 345.88,332.28 346.67,332.26 347.46,332.23 348.24,332.20 349.03,332.18 349.81,332.15 350.60,332.12 351.38,332.10 352.17,332.07 352.95,332.04 353.74,332.02 354.53,331.99 355.31,331.96 356.10,331.94 356.88,331.91 357.67,331.88 358.45,331.86 359.24,331.83 360.02,331.80 360.81,331.78 361.60,331.75 362.38,331.72 363.17,331.70 363.95,331.67 364.74,331.64 365.52,331.62 366.31,331.59 367.10,331.56 367.88,331.54 368.67,331.51 369.45,331.48 370.24,331.46 371.02,331.43 371.81,331.40 372.59,331.38 373.38,331.35 374.17,331.32 374.95,331.30 375.74,331.27 376.52,331.25 377.31,331.22 378.09,331.19 378.88,331.17 379.66,331.14 380.45,331.11 381.24,331.09 382.02,331.06 382.81,331.03 383.59,330.66 384.38,330.25 385.16,329.86 385.95,329.48 386.74,329.10 387.52,328.71 388.31,328.33 389.09,327.77 389.88,328.17 390.66,327.47 391.45,327.15 392.23,326.11 393.02,325.80 393.81,325.15 394.59,325.79 395.38,324.98 396.16,325.10 396.95,324.47 397.73,323.72 398.52,323.95 399.30,323.35 400.09,322.39 400.88,322.14 401.66,322.17 402.45,321.32 403.23,320.65 404.02,321.29 404.80,319.89 405.59,319.64 406.38,319.72 407.16,319.57 407.95,318.16 408.73,318.57 409.52,318.50 410.30,318.11 411.09,314.90 411.87,311.08 412.66,306.69 413.45,302.67 414.23,299.09 415.02,296.42 415.80,295.07 416.59,292.74 417.37,290.27 418.16,288.43 418.94,286.08 419.73,284.47 420.52,282.34 421.30,281.20 422.09,279.00 422.87,276.95 423.66,275.24 424.44,273.10 425.23,271.79 426.02,270.10 426.80,268.17 427.59,267.05 428.37,265.57 429.16,264.31 429.94,262.76 430.73,260.70 431.51,259.88 432.30,258.73 433.09,258.10 433.87,256.20 434.66,255.73 435.44,254.26 436.23,252.29 437.01,251.54 437.80,250.45 438.58,249.16 439.37,247.89 440.16,246.91 440.94,246.55 441.73,245.74 442.51,244.31 443.30,243.30 444.08,242.31 444.87,240.31 445.66,239.33 446.44,238.86 447.23,237.12 448.01,236.14 448.80,234.16 449.58,233.43 450.37,232.37 451.15,231.08 451.94,229.50 452.73,228.70 453.51,227.10 453.98,226.50" fill="none" stroke="#b4e04e" stroke-width="1.4" stroke-linejoin="round" opacity="0.95"/><polyline points="334.10,332.68 334.89,332.66 335.67,332.63 336.46,332.61 337.24,332.59 338.03,332.56 338.81,332.54 339.60,332.51 340.38,332.49 341.17,332.47 341.96,332.44 342.74,332.42 343.53,332.40 344.31,332.37 345.10,332.35 345.88,332.33 346.67,332.30 347.46,332.28 348.24,332.25 349.03,332.23 349.81,332.21 350.60,332.18 351.38,332.16 352.17,332.14 352.95,332.11 353.74,332.09 354.53,332.06 355.31,332.04 356.10,332.02 356.88,331.99 357.67,331.97 358.45,331.95 359.24,331.92 360.02,331.90 360.81,331.88 361.60,331.85 362.38,331.83 363.17,331.80 363.95,331.78 364.74,331.76 365.52,331.73 366.31,331.71 367.10,331.69 367.88,331.66 368.67,331.64 369.45,331.61 370.24,331.59 371.02,331.57 371.81,331.54 372.59,331.52 373.38,331.50 374.17,331.47 374.95,331.45 375.74,331.43 376.52,331.40 377.31,331.38 378.09,331.35 378.88,331.33 379.66,331.31 380.45,331.28 381.24,331.26 382.02,331.24 382.81,331.21 383.59,330.85 384.38,330.51 385.16,330.21 385.95,329.91 386.74,329.61 387.52,329.31 388.31,329.01 389.09,329.31 389.88,328.17 390.66,328.58 391.45,327.87 392.23,327.30 393.02,326.85 393.81,326.99 394.59,326.63 395.38,326.95 396.16,326.12 396.95,325.90 397.73,324.99 398.52,325.08 399.30,324.51 400.09,324.63 400.88,324.66 401.66,323.50 402.45,323.24 403.23,323.51 404.02,323.57 404.80,322.74 405.59,322.46 406.38,321.81 407.16,321.73 407.95,321.55 408.73,321.17 409.52,321.12 410.30,321.24 411.09,320.93 411.87,319.50 412.66,319.34 413.45,319.73 414.23,318.68 415.02,314.76 415.80,310.92 416.59,305.57 417.37,301.54 418.16,297.67 418.94,295.55 419.73,293.85 420.52,290.72 421.30,288.06 422.09,285.71 422.87,284.47 423.66,282.25 424.44,280.07 425.23,278.78 426.02,275.95 426.80,274.07 427.59,273.48 428.37,271.27 429.16,270.03 429.94,268.74 430.73,266.68 431.51,264.70 432.30,263.71 433.09,262.99 433.87,261.23 434.66,259.58 435.44,258.08 436.23,257.11 437.01,256.69 437.80,254.23 438.58,253.42 439.37,252.81 440.16,251.47 440.94,250.34 441.73,248.42 442.51,247.89 443.30,245.87 444.08,245.58 444.87,243.85 445.66,242.78 446.44,242.12 447.23,240.98 448.01,238.41 448.80,236.90 449.58,236.57 450.37,234.37 451.15,232.62 451.94,231.31 452.73,229.28 453.51,227.94 453.98,226.50" fill="none" stroke="#98dc48" stroke-width="1.4" stroke-linejoin="round" opacity="0.95"/><polyline points="334.10,332.68 334.89,332.66 335.67,332.64 336.46,332.62 337.24,332.60 338.03,332.58 338.81,332.56 339.60,332.53 340.38,332.51 341.17,332.49 341.96,332.47 342.74,332.45 343.53,332.43 344.31,332.41 345.10,332.39 345.88,332.37 346.67,332.35 347.46,332.33 348.24,332.31 349.03,332.29 349.81,332.26 350.60,332.24 351.38,332.22 352.17,332.20 352.95,332.18 353.74,332.16 354.53,332.14 355.31,332.12 356.10,332.10 356.88,332.08 357.67,332.06 358.45,332.04 359.24,332.02 360.02,331.99 360.81,331.97 361.60,331.95 362.38,331.93 363.17,331.91 363.95,331.89 364.74,331.87 365.52,331.85 366.31,331.83 367.10,331.81 367.88,331.79 368.67,331.77 369.45,331.75 370.24,331.72 371.02,331.70 371.81,331.68 372.59,331.66 373.38,331.64 374.17,331.62 374.95,331.60 375.74,331.58 376.52,331.56 377.31,331.54 378.09,331.52 378.88,331.50 379.66,331.47 380.45,331.45 381.24,331.43 382.02,331.41 382.81,331.39 383.59,331.03 384.38,330.73 385.16,330.47 385.95,330.21 386.74,329.96 387.52,329.70 388.31,329.45 389.09,329.31 389.88,328.88 390.66,328.22 391.45,328.84 392.23,328.52 393.02,328.52 393.81,328.15 394.59,328.03 395.38,327.59 396.16,326.87 396.95,326.01 397.73,326.13 398.52,326.28 399.30,325.99 400.09,325.37 400.88,325.58 401.66,325.65 402.45,324.41 403.23,324.44 404.02,324.83 404.80,324.63 405.59,324.34 406.38,322.98 407.16,323.81 407.95,322.90 408.73,322.20 409.52,323.14 410.30,322.44 411.09,322.06 411.87,321.25 412.66,321.92 413.45,321.58 414.23,321.33 415.02,321.33 415.80,320.28 416.59,319.84 417.37,315.71 418.16,311.59 418.94,306.11 419.73,301.46 420.52,298.03 421.30,296.00 422.09,292.91 422.87,290.71 423.66,288.31 424.44,286.09 425.23,284.35 426.02,281.94 426.80,279.37 427.59,277.39 428.37,275.69 429.16,273.31 429.94,271.86 430.73,271.46 431.51,269.89 432.30,268.39 433.09,267.24 433.87,264.87 434.66,263.59 435.44,262.42 436.23,260.54 437.01,260.05 437.80,258.95 438.58,257.76 439.37,256.17 440.16,254.23 440.94,253.23 441.73,252.62 442.51,250.81 443.30,249.98 444.08,247.91 444.87,247.22 445.66,245.81 446.44,243.89 447.23,242.31 448.01,241.26 448.80,240.12 449.58,238.13 450.37,237.05 451.15,235.84 451.94,233.95 452.73,231.13 453.51,228.16 453.98,226.50" fill="none" stroke="#80d850" stroke-width="1.4" stroke-linejoin="round" opacity="0.95"/><polyline points="334.10,332.68 334.89,332.66 335.67,332.64 336.46,332.63 337.24,332.61 338.03,332.59 338.81,332.57 339.60,332.56 340.38,332.54 341.17,332.52 341.96,332.50 342.74,332.48 343.53,332.47 344.31,332.45 345.10,332.43 345.88,332.41 346.67,332.39 347.46,332.38 348.24,332.36 349.03,332.34 349.81,332.32 350.60,332.30 351.38,332.29 352.17,332.27 352.95,332.25 353.74,332.23 354.53,332.22 355.31,332.20 356.10,332.18 356.88,332.16 357.67,332.14 358.45,332.13 359.24,332.11 360.02,332.09 360.81,332.07 361.60,332.05 362.38,332.04 363.17,332.02 363.95,332.00 364.74,331.98 365.52,331.96 366.31,331.95 367.10,331.93 367.88,331.91 368.67,331.89 369.45,331.88 370.24,331.86 371.02,331.84 371.81,331.82 372.59,331.80 373.38,331.79 374.17,331.77 374.95,331.75 375.74,331.73 376.52,331.71 377.31,331.70 378.09,331.68 378.88,331.66 379.66,331.64 380.45,331.62 381.24,331.61 382.02,331.59 382.81,331.57 383.59,331.21 384.38,330.94 385.16,330.73 385.95,330.52 386.74,330.31 387.52,330.09 388.31,329.88 389.09,329.96 389.88,329.47 390.66,329.77 391.45,329.23 392.23,329.36 393.02,329.23 393.81,328.66 394.59,328.66 395.38,328.20 396.16,327.44 396.95,328.13 397.73,327.16 398.52,327.58 399.30,326.52 400.09,326.38 400.88,326.84 401.66,325.81 402.45,325.77 403.23,326.38 404.02,325.74 404.80,325.15 405.59,324.65 406.38,325.40 407.16,325.08 407.95,324.20 408.73,323.75 409.52,324.65 410.30,324.44 411.09,323.38 411.87,323.72 412.66,323.42 413.45,322.58 414.23,322.54 415.02,322.43 415.80,321.95 416.59,321.91 417.37,321.60 418.16,321.60 418.94,319.09 419.73,314.83 420.52,308.81 421.30,303.87 422.09,299.64 422.87,296.57 423.66,294.63 424.44,291.29 425.23,288.41 426.02,286.40 426.80,284.12 427.59,281.45 428.37,280.21 429.16,277.68 429.94,276.02 430.73,273.86 431.51,271.81 432.30,270.73 433.09,270.06 433.87,267.58 434.66,266.41 435.44,265.17 436.23,264.05 437.01,262.78 437.80,261.67 438.58,259.86 439.37,259.34 440.16,256.94 440.94,256.77 441.73,254.85 442.51,253.65 443.30,252.59 444.08,251.28 444.87,249.65 445.66,248.37 446.44,246.13 447.23,245.13 448.01,243.87 448.80,242.27 449.58,240.78 450.37,239.52 451.15,237.97 451.94,235.06 452.73,233.51 453.51,229.81 453.98,226.50" fill="none" stroke="#6cd45a" stroke-width="1.4" stroke-linejoin="round" opacity="0.95"/><polyline points="334.10,332.68 334.89,332.67 335.67,332.65 336.46,332.64 337.24,332.62 338.03,332.61 338.81,332.59 339.60,332.58 340.38,332.56 341.17,332.55 341.96,332.53 342.74,332.52 343.53,332.50 344.31,332.49 345.10,332.47 345.88,332.46 346.67,332.44 347.46,332.43 348.24,332.41 349.03,332.40 349.81,332.38 350.60,332.37 351.38,332.35 352.17,332.34 352.95,332.32 353.74,332.31 354.53,332.29 355.31,332.28 356.10,332.26 356.88,332.25 357.67,332.23 358.45,332.22 359.24,332.20 360.02,332.19 360.81,332.17 361.60,332.16 362.38,332.14 363.17,332.13 363.95,332.11 364.74,332.10 365.52,332.08 366.31,332.07 367.10,332.05 367.88,332.04 368.67,332.02 369.45,332.01 370.24,331.99 371.02,331.98 371.81,331.96 372.59,331.95 373.38,331.93 374.17,331.92 374.95,331.90 375.74,331.89 376.52,331.87 377.31,331.86 378.09,331.84 378.88,331.83 379.66,331.81 380.45,331.80 381.24,331.78 382.02,331.77 382.81,331.75 383.59,331.39 384.38,331.14 385.16,330.95 385.95,330.76 386.74,330.57 387.52,330.38 388.31,330.19 389.09,329.50 389.88,329.93 390.66,329.50 391.45,328.96 392.23,329.57 393.02,329.02 393.81,328.74 394.59,328.08 395.38,329.06 396.16,328.82 396.95,328.31 397.73,327.47 398.52,327.26 399.30,327.97 400.09,326.77 400.88,327.08 401.66,326.33 402.45,326.18 403.23,327.06 404.02,325.75 404.80,326.19 405.59,326.41 406.38,325.82 407.16,326.13 407.95,325.08 408.73,325.15 409.52,325.51 410.30,325.17 411.09,324.62 411.87,324.08 412.66,324.53 413.45,324.55 414.23,324.05 415.02,324.22 415.80,323.69 416.59,322.81 417.37,323.50 418.16,323.16 418.94,322.36 419.73,322.90 420.52,322.82 421.30,316.93 422.09,310.75 422.87,304.90 423.66,299.23 424.44,297.29 425.23,294.29 426.02,291.78 426.80,288.49 427.59,286.21 428.37,283.40 429.16,281.31 429.94,278.97 430.73,277.17 431.51,274.37 432.30,273.56 433.09,272.10 433.87,269.71 434.66,269.16 435.44,267.96 436.23,265.63 437.01,264.89 437.80,263.43 438.58,261.88 439.37,260.22 440.16,260.19 440.94,258.19 441.73,257.78 442.51,255.64 443.30,254.96 444.08,253.96 444.87,252.05 445.66,250.19 446.44,249.33 447.23,247.50 448.01,245.46 448.80,243.89 449.58,242.40 450.37,241.02 451.15,239.02 451.94,238.02 452.73,236.02 453.51,231.39 453.98,226.50" fill="none" stroke="#7edcb0" stroke-width="1.4" stroke-linejoin="round" opacity="0.95"/><polyline points="334.10,332.68 334.89,332.67 335.67,332.66 336.46,332.64 337.24,332.63 338.03,332.62 338.81,332.61 339.60,332.60 340.38,332.58 341.17,332.57 341.96,332.56 342.74,332.55 343.53,332.54 344.31,332.52 345.10,332.51 345.88,332.50 346.67,332.49 347.46,332.47 348.24,332.46 349.03,332.45 349.81,332.44 350.60,332.43 351.38,332.41 352.17,332.40 352.95,332.39 353.74,332.38 354.53,332.37 355.31,332.35 356.10,332.34 356.88,332.33 357.67,332.32 358.45,332.31 359.24,332.29 360.02,332.28 360.81,332.27 361.60,332.26 362.38,332.24 363.17,332.23 363.95,332.22 364.74,332.21 365.52,332.20 366.31,332.18 367.10,332.17 367.88,332.16 368.67,332.15 369.45,332.14 370.24,332.12 371.02,332.11 371.81,332.10 372.59,332.09 373.38,332.08 374.17,332.06 374.95,332.05 375.74,332.04 376.52,332.03 377.31,332.02 378.09,332.00 378.88,331.99 379.66,331.98 380.45,331.97 381.24,331.95 382.02,331.94 382.81,331.93 383.59,331.57 384.38,331.34 385.16,331.17 385.95,331.00 386.74,330.83 387.52,330.66 388.31,330.49 389.09,330.51 389.88,330.24 390.66,330.04 391.45,330.01 392.23,329.63 393.02,329.61 393.81,329.89 394.59,329.23 395.38,329.57 396.16,329.30 396.95,328.92 397.73,327.85 398.52,328.30 399.30,328.05 400.09,327.40 400.88,327.26 401.66,327.51 402.45,327.77 403.23,327.23 404.02,327.27 404.80,326.33 405.59,327.34 406.38,326.73 407.16,326.16 407.95,326.10 408.73,325.99 409.52,325.56 410.30,326.06 411.09,325.12 411.87,324.85 412.66,325.80 413.45,325.25 414.23,325.05 415.02,324.85 415.80,324.48 416.59,324.67 417.37,324.00 418.16,323.53 418.94,323.30 419.73,323.24 420.52,323.87 421.30,323.02 422.09,322.82 422.87,317.10 423.66,311.09 424.44,305.65 425.23,299.10 426.02,296.72 426.80,293.26 427.59,290.57 428.37,287.16 429.16,285.47 429.94,282.80 430.73,279.88 431.51,278.22 432.30,275.29 433.09,273.40 433.87,272.37 434.66,271.07 435.44,270.33 436.23,268.69 437.01,266.81 437.80,265.50 438.58,264.77 439.37,263.69 440.16,261.79 440.94,261.13 441.73,259.58 442.51,259.29 443.30,257.84 444.08,255.92 444.87,254.74 445.66,252.92 446.44,251.84 447.23,249.70 448.01,249.31 448.80,247.49 449.58,245.49 450.37,243.94 451.15,242.04 451.94,240.59 452.73,238.59 453.51,236.77 453.98,226.50" fill="none" stroke="#92e0ee" stroke-width="1.4" stroke-linejoin="round" opacity="0.95"/><polyline points="334.10,332.68 334.89,332.67 335.67,332.66 336.46,332.65 337.24,332.64 338.03,332.63 338.81,332.63 339.60,332.62 340.38,332.61 341.17,332.60 341.96,332.59 342.74,332.58 343.53,332.57 344.31,332.56 345.10,332.55 345.88,332.54 346.67,332.53 347.46,332.52 348.24,332.51 349.03,332.51 349.81,332.50 350.60,332.49 351.38,332.48 352.17,332.47 352.95,332.46 353.74,332.45 354.53,332.44 355.31,332.43 356.10,332.42 356.88,332.41 357.67,332.40 358.45,332.40 359.24,332.39 360.02,332.38 360.81,332.37 361.60,332.36 362.38,332.35 363.17,332.34 363.95,332.33 364.74,332.32 365.52,332.31 366.31,332.30 367.10,332.29 367.88,332.28 368.67,332.28 369.45,332.27 370.24,332.26 371.02,332.25 371.81,332.24 372.59,332.23 373.38,332.22 374.17,332.21 374.95,332.20 375.74,332.19 376.52,332.18 377.31,332.17 378.09,332.17 378.88,332.16 379.66,332.15 380.45,332.14 381.24,332.13 382.02,332.12 382.81,332.11 383.59,331.75 384.38,331.55 385.16,331.40 385.95,331.25 386.74,331.10 387.52,330.95 388.31,330.80 389.09,330.59 389.88,330.97 390.66,330.08 391.45,330.46 392.23,329.49 393.02,330.30 393.81,329.42 394.59,330.03 395.38,328.86 396.16,328.83 396.95,329.66 397.73,328.82 398.52,329.22 399.30,328.70 400.09,328.12 400.88,328.86 401.66,328.63 402.45,328.66 403.23,328.52 404.02,327.82 404.80,328.10 405.59,327.99 406.38,327.12 407.16,327.49 407.95,327.28 408.73,327.13 409.52,326.34 410.30,326.92 411.09,326.29 411.87,325.77 412.66,326.09 413.45,326.31 414.23,326.34 415.02,325.54 415.80,326.00 416.59,325.56 417.37,324.88 418.16,324.77 418.94,325.27 419.73,325.01 420.52,324.96 421.30,324.80 422.09,324.39 422.87,324.73 423.66,324.58 424.44,317.50 425.23,310.23 426.02,302.93 426.80,298.15 427.59,294.95 428.37,291.45 429.16,288.38 429.94,286.24 430.73,283.52 431.51,282.52 432.30,279.64 433.09,277.39 433.87,275.61 434.66,274.37 435.44,273.36 436.23,271.50 437.01,271.01 437.80,269.32 438.58,267.91 439.37,266.55 440.16,265.21 440.94,264.96 441.73,263.76 442.51,262.39 443.30,260.47 444.08,259.56 444.87,258.15 445.66,256.89 446.44,255.14 447.23,252.92 448.01,252.03 448.80,250.35 449.58,248.42 450.37,245.25 451.15,241.02 451.94,237.32 452.73,233.77 453.51,229.52 453.98,226.50" fill="none" stroke="#78a4e0" stroke-width="1.4" stroke-linejoin="round" opacity="0.95"/><polyline points="334.10,332.68 383.20,332.15 398.52,328.74 410.89,324.48 412.66,322.94 414.72,322.47 415.41,320.56 417.18,320.09 417.77,318.20 420.00,317.43 420.75,314.38 422.49,313.40 423.07,309.46 425.10,307.93 425.78,301.83 428.42,300.43 429.30,294.85 430.85,294.15 431.37,291.32 433.20,290.29 433.81,286.16 436.10,284.78 436.86,279.25 438.40,277.93 438.92,272.66 440.55,270.37 441.10,261.17 443.56,257.63 444.38,243.47 447.04,242.44 447.93,238.30 449.76,238.06 450.38,237.10 450.52,237.53 450.57,239.28" fill="none" stroke="#4a64e0" stroke-width="1.3" stroke-linejoin="round" opacity="0.95"/><polyline points="334.10,332.68 383.20,332.36 398.52,329.06 410.89,325.01 412.66,323.51 414.40,323.11 414.99,321.53 417.05,321.01 417.74,318.93 419.38,318.41 419.93,316.31 422.39,315.07 423.21,310.09 424.94,308.83 425.52,303.78 427.64,302.73 428.35,298.53 430.94,297.57 431.81,293.73 433.74,292.94 434.39,289.74 437.03,288.42 437.91,283.16 440.26,281.25 441.04,273.63 443.16,270.85 443.87,259.74 446.09,257.21 446.83,247.12 449.00,246.31 449.72,243.07 450.35,243.59 450.57,245.67" fill="none" stroke="#3c4ce0" stroke-width="1.3" stroke-linejoin="round" opacity="0.95"/><polyline points="334.10,332.79 383.20,332.47 398.52,329.27 410.89,325.44 412.66,323.99 415.31,323.42 416.20,321.10 417.71,320.70 418.21,319.11 420.55,318.42 421.34,315.64 423.38,314.22 424.06,308.52 426.67,306.99 427.54,300.86 429.48,300.25 430.13,297.81 432.71,297.03 433.57,293.92 435.21,293.44 435.76,291.55 438.44,290.20 439.33,284.80 441.28,283.05 441.93,276.06 443.60,274.24 444.16,266.95 446.03,264.95 446.66,256.96 448.88,255.38 449.62,249.05 450.33,249.44 450.57,251.00" fill="none" stroke="#3434d4" stroke-width="1.3" stroke-linejoin="round" opacity="0.95"/><polyline points="334.10,332.79 383.20,332.57 398.52,329.49 410.89,325.76 412.66,324.34 414.87,323.87 415.60,321.99 418.15,321.38 419.00,318.92 421.00,318.39 421.67,316.29 424.00,314.55 424.77,307.60 427.38,306.29 428.24,301.03 430.33,300.48 431.03,298.29 433.38,297.78 434.16,295.72 436.51,295.17 437.29,292.99 439.79,291.42 440.63,285.14 442.12,283.53 442.61,277.07 444.27,274.84 444.82,265.92 447.49,263.43 448.39,253.49 450.02,253.42 450.57,253.12" fill="none" stroke="#2e2ec4" stroke-width="1.3" stroke-linejoin="round" opacity="0.95"/><text x="394.4" y="215.4" font-size="8.1" text-anchor="middle" font-weight="normal" fill="#222" textLength="101" lengthAdjust="spacingAndGlyphs">ZH33 B clone size distribution</text><text x="393.9" y="360.8" font-size="8.4" text-anchor="middle" font-weight="normal" fill="#222" textLength="143.6" lengthAdjust="spacingAndGlyphs">Clones sorted by time of maximum contribution</text><polyline points="449.5,252 450.5,245 451.5,238 452.5,232 453.8,226.5" fill="none" stroke="#3a48d8" stroke-width="1.2"/><polyline points="450.8,245 451.8,238 452.8,232 453.8,226.5" fill="none" stroke="#3a3ad8" stroke-width="1.2"/><text x="487.6" y="59.75" font-size="7.8" text-anchor="middle" font-weight="normal" fill="#222" textLength="24.8" lengthAdjust="spacingAndGlyphs">Months</text><text x="487.5" y="68.45" font-size="7.8" text-anchor="middle" font-weight="normal" fill="#222" textLength="50.8" lengthAdjust="spacingAndGlyphs">post-transplant</text><circle cx="481.8" cy="74.80" r="1.2" fill="#b04a2a"/><text class="s" x="487" y="76.8" font-size="5.8" text-anchor="start" font-weight="normal" fill="#222">1</text><circle cx="481.8" cy="82.23" r="1.2" fill="#c8883e"/><text class="s" x="487" y="84.22999999999999" font-size="5.8" text-anchor="start" font-weight="normal" fill="#222">2</text><circle cx="481.8" cy="89.66" r="1.2" fill="#d9cf5a"/><text class="s" x="487" y="91.66" font-size="5.8" text-anchor="start" font-weight="normal" fill="#222">3</text><circle cx="481.8" cy="97.09" r="1.2" fill="#cfdc55"/><text class="s" x="487" y="99.09" font-size="5.8" text-anchor="start" font-weight="normal" fill="#222">4.5</text><circle cx="481.8" cy="104.52" r="1.2" fill="#b9dc55"/><text class="s" x="487" y="106.52" font-size="5.8" text-anchor="start" font-weight="normal" fill="#222">6.5</text><circle cx="481.8" cy="111.95" r="1.2" fill="#9bd555"/><text class="s" x="487" y="113.94999999999999" font-size="5.8" text-anchor="start" font-weight="normal" fill="#222">9.5</text><circle cx="481.8" cy="119.38" r="1.2" fill="#7fd05a"/><text class="s" x="487" y="121.38" font-size="5.8" text-anchor="start" font-weight="normal" fill="#222">12</text><circle cx="481.8" cy="126.81" r="1.2" fill="#6cc866"/><text class="s" x="487" y="128.81" font-size="5.8" text-anchor="start" font-weight="normal" fill="#222">14</text><circle cx="481.8" cy="134.24" r="1.2" fill="#95d0b8"/><text class="s" x="487" y="136.24" font-size="5.8" text-anchor="start" font-weight="normal" fill="#222">21</text><circle cx="481.8" cy="141.67" r="1.2" fill="#9adbe6"/><text class="s" x="487" y="143.67000000000002" font-size="5.8" text-anchor="start" font-weight="normal" fill="#222">26</text><circle cx="481.8" cy="149.10" r="1.2" fill="#7aa0d2"/><text class="s" x="487" y="151.1" font-size="5.8" text-anchor="start" font-weight="normal" fill="#222">30</text><circle cx="481.8" cy="156.53" r="1.2" fill="#3550b8"/><text class="s" x="487" y="158.52999999999997" font-size="5.8" text-anchor="start" font-weight="normal" fill="#222">38</text><circle cx="481.8" cy="163.96" r="1.2" fill="#2438b0"/><text class="s" x="487" y="165.95999999999998" font-size="5.8" text-anchor="start" font-weight="normal" fill="#222">43</text><circle cx="481.8" cy="171.39" r="1.2" fill="#1c2a9c"/><text class="s" x="487" y="173.39" font-size="5.8" text-anchor="start" font-weight="normal" fill="#222">46</text><circle cx="481.8" cy="178.82" r="1.2" fill="#28287f"/><text class="s" x="487" y="180.82" font-size="5.8" text-anchor="start" font-weight="normal" fill="#222">49</text><text x="487.6" y="230.25" font-size="7.8" text-anchor="middle" font-weight="normal" fill="#222" textLength="24.8" lengthAdjust="spacingAndGlyphs">Months</text><text x="487.5" y="238.95" font-size="7.8" text-anchor="middle" font-weight="normal" fill="#222" textLength="50.8" lengthAdjust="spacingAndGlyphs">post-transplant</text><circle cx="481.8" cy="246.00" r="1.2" fill="#b04a2a"/><text class="s" x="487" y="248.0" font-size="5.8" text-anchor="start" font-weight="normal" fill="#222">1</text><circle cx="481.8" cy="253.43" r="1.2" fill="#c8883e"/><text class="s" x="487" y="255.43" font-size="5.8" text-anchor="start" font-weight="normal" fill="#222">2</text><circle cx="481.8" cy="260.86" r="1.2" fill="#d9cf5a"/><text class="s" x="487" y="262.86" font-size="5.8" text-anchor="start" font-weight="normal" fill="#222">3</text><circle cx="481.8" cy="268.29" r="1.2" fill="#cfdc55"/><text class="s" x="487" y="270.29" font-size="5.8" text-anchor="start" font-weight="normal" fill="#222">4.5</text><circle cx="481.8" cy="275.72" r="1.2" fill="#b9dc55"/><text class="s" x="487" y="277.72" font-size="5.8" text-anchor="start" font-weight="normal" fill="#222">6.5</text><circle cx="481.8" cy="283.15" r="1.2" fill="#9bd555"/><text class="s" x="487" y="285.15" font-size="5.8" text-anchor="start" font-weight="normal" fill="#222">9.5</text><circle cx="481.8" cy="290.58" r="1.2" fill="#7fd05a"/><text class="s" x="487" y="292.58" font-size="5.8" text-anchor="start" font-weight="normal" fill="#222">12</text><circle cx="481.8" cy="298.01" r="1.2" fill="#6cc866"/><text class="s" x="487" y="300.01" font-size="5.8" text-anchor="start" font-weight="normal" fill="#222">14</text><circle cx="481.8" cy="305.44" r="1.2" fill="#95d0b8"/><text class="s" x="487" y="307.44" font-size="5.8" text-anchor="start" font-weight="normal" fill="#222">21</text><circle cx="481.8" cy="312.87" r="1.2" fill="#9adbe6"/><text class="s" x="487" y="314.87" font-size="5.8" text-anchor="start" font-weight="normal" fill="#222">26</text><circle cx="481.8" cy="320.30" r="1.2" fill="#7aa0d2"/><text class="s" x="487" y="322.3" font-size="5.8" text-anchor="start" font-weight="normal" fill="#222">30</text><circle cx="481.8" cy="327.73" r="1.2" fill="#3550b8"/><text class="s" x="487" y="329.73" font-size="5.8" text-anchor="start" font-weight="normal" fill="#222">38</text><circle cx="481.8" cy="335.16" r="1.2" fill="#2438b0"/><text class="s" x="487" y="337.15999999999997" font-size="5.8" text-anchor="start" font-weight="normal" fill="#222">43</text><circle cx="481.8" cy="342.59" r="1.2" fill="#1c2a9c"/><text class="s" x="487" y="344.59000000000003" font-size="5.8" text-anchor="start" font-weight="normal" fill="#222">46</text><circle cx="481.8" cy="350.02" r="1.2" fill="#28287f"/><text class="s" x="487" y="352.02" font-size="5.8" text-anchor="start" font-weight="normal" fill="#222">49</text>
<rect x="0" y="0" width="520" height="1.5" fill="#000"/>
<rect x="0" y="0" width="1.5" height="405" fill="#000"/>
<rect x="518" y="0" width="2" height="405" fill="#000"/>
<rect x="0" y="403" width="520" height="2" fill="#000"/>
</svg></body></html>
